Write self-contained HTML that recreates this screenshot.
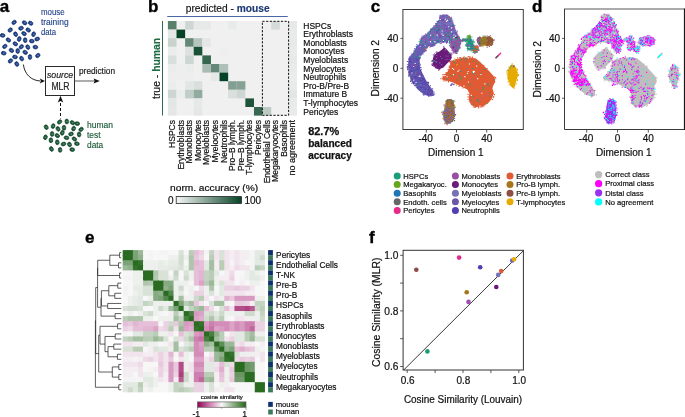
<!DOCTYPE html><html><head><meta charset="utf-8"><style>html,body{margin:0;padding:0;background:#fff;}svg{display:block;will-change:transform;}text{font-family:'Liberation Sans',sans-serif}</style></head><body>
<svg width="685" height="417" viewBox="0 0 685 417" style="font-family:'Liberation Sans',sans-serif">
<rect width="685" height="417" fill="#fff"/>
<text x="-0.30" y="12.40" font-size="17.00" font-weight="bold" fill="#000" stroke="#000" stroke-width="0.35">a</text>
<ellipse cx="14.1" cy="22.4" rx="2.45" ry="1.85" fill="#1c3f84" stroke="#102c68" stroke-width="0.6" transform="rotate(-40 14.1 22.4)"/>
<ellipse cx="14.3" cy="22.4" rx="1.05" ry="0.75" fill="#5f78b0"/>
<ellipse cx="24.6" cy="22.8" rx="2.45" ry="1.85" fill="#1c3f84" stroke="#102c68" stroke-width="0.6" transform="rotate(30 24.6 22.8)"/>
<ellipse cx="24.8" cy="22.8" rx="1.05" ry="0.75" fill="#5f78b0"/>
<ellipse cx="30.6" cy="23.2" rx="2.45" ry="1.85" fill="#1c3f84" stroke="#102c68" stroke-width="0.6" transform="rotate(30 30.6 23.2)"/>
<ellipse cx="30.8" cy="23.2" rx="1.05" ry="0.75" fill="#5f78b0"/>
<ellipse cx="10.2" cy="30.0" rx="2.45" ry="1.85" fill="#1c3f84" stroke="#102c68" stroke-width="0.6" transform="rotate(-40 10.2 30.0)"/>
<ellipse cx="10.4" cy="30.0" rx="1.05" ry="0.75" fill="#5f78b0"/>
<ellipse cx="21.0" cy="28.2" rx="2.45" ry="1.85" fill="#1c3f84" stroke="#102c68" stroke-width="0.6" transform="rotate(-20 21.0 28.2)"/>
<ellipse cx="21.2" cy="28.2" rx="1.05" ry="0.75" fill="#5f78b0"/>
<ellipse cx="28.2" cy="30.0" rx="2.45" ry="1.85" fill="#1c3f84" stroke="#102c68" stroke-width="0.6" transform="rotate(30 28.2 30.0)"/>
<ellipse cx="28.4" cy="30.0" rx="1.05" ry="0.75" fill="#5f78b0"/>
<ellipse cx="2.6" cy="35.4" rx="2.45" ry="1.85" fill="#1c3f84" stroke="#102c68" stroke-width="0.6" transform="rotate(10 2.6 35.4)"/>
<ellipse cx="2.8" cy="35.4" rx="1.05" ry="0.75" fill="#5f78b0"/>
<ellipse cx="15.6" cy="34.2" rx="2.45" ry="1.85" fill="#1c3f84" stroke="#102c68" stroke-width="0.6" transform="rotate(60 15.6 34.2)"/>
<ellipse cx="15.8" cy="34.2" rx="1.05" ry="0.75" fill="#5f78b0"/>
<ellipse cx="24.0" cy="33.6" rx="2.45" ry="1.85" fill="#1c3f84" stroke="#102c68" stroke-width="0.6" transform="rotate(30 24.0 33.6)"/>
<ellipse cx="24.2" cy="33.6" rx="1.05" ry="0.75" fill="#5f78b0"/>
<ellipse cx="33.6" cy="34.2" rx="2.45" ry="1.85" fill="#1c3f84" stroke="#102c68" stroke-width="0.6" transform="rotate(-70 33.6 34.2)"/>
<ellipse cx="33.8" cy="34.2" rx="1.05" ry="0.75" fill="#5f78b0"/>
<ellipse cx="8.4" cy="40.0" rx="2.45" ry="1.85" fill="#1c3f84" stroke="#102c68" stroke-width="0.6" transform="rotate(30 8.4 40.0)"/>
<ellipse cx="8.6" cy="40.0" rx="1.05" ry="0.75" fill="#5f78b0"/>
<ellipse cx="19.2" cy="39.0" rx="2.45" ry="1.85" fill="#1c3f84" stroke="#102c68" stroke-width="0.6" transform="rotate(-70 19.2 39.0)"/>
<ellipse cx="19.4" cy="39.0" rx="1.05" ry="0.75" fill="#5f78b0"/>
<ellipse cx="25.2" cy="40.2" rx="2.45" ry="1.85" fill="#1c3f84" stroke="#102c68" stroke-width="0.6" transform="rotate(85 25.2 40.2)"/>
<ellipse cx="25.4" cy="40.2" rx="1.05" ry="0.75" fill="#5f78b0"/>
<ellipse cx="31.8" cy="41.1" rx="2.45" ry="1.85" fill="#1c3f84" stroke="#102c68" stroke-width="0.6" transform="rotate(10 31.8 41.1)"/>
<ellipse cx="32.0" cy="41.1" rx="1.05" ry="0.75" fill="#5f78b0"/>
<ellipse cx="37.2" cy="39.0" rx="2.45" ry="1.85" fill="#1c3f84" stroke="#102c68" stroke-width="0.6" transform="rotate(-20 37.2 39.0)"/>
<ellipse cx="37.4" cy="39.0" rx="1.05" ry="0.75" fill="#5f78b0"/>
<ellipse cx="15.3" cy="43.8" rx="2.45" ry="1.85" fill="#1c3f84" stroke="#102c68" stroke-width="0.6" transform="rotate(30 15.3 43.8)"/>
<ellipse cx="15.5" cy="43.8" rx="1.05" ry="0.75" fill="#5f78b0"/>
<ellipse cx="4.8" cy="46.4" rx="2.45" ry="1.85" fill="#1c3f84" stroke="#102c68" stroke-width="0.6" transform="rotate(-40 4.8 46.4)"/>
<ellipse cx="5.0" cy="46.4" rx="1.05" ry="0.75" fill="#5f78b0"/>
<ellipse cx="21.3" cy="46.8" rx="2.45" ry="1.85" fill="#1c3f84" stroke="#102c68" stroke-width="0.6" transform="rotate(-40 21.3 46.8)"/>
<ellipse cx="21.5" cy="46.8" rx="1.05" ry="0.75" fill="#5f78b0"/>
<ellipse cx="27.8" cy="47.1" rx="2.45" ry="1.85" fill="#1c3f84" stroke="#102c68" stroke-width="0.6" transform="rotate(60 27.8 47.1)"/>
<ellipse cx="28.0" cy="47.1" rx="1.05" ry="0.75" fill="#5f78b0"/>
<ellipse cx="35.4" cy="47.1" rx="2.45" ry="1.85" fill="#1c3f84" stroke="#102c68" stroke-width="0.6" transform="rotate(10 35.4 47.1)"/>
<ellipse cx="35.6" cy="47.1" rx="1.05" ry="0.75" fill="#5f78b0"/>
<ellipse cx="11.4" cy="50.4" rx="2.45" ry="1.85" fill="#1c3f84" stroke="#102c68" stroke-width="0.6" transform="rotate(30 11.4 50.4)"/>
<ellipse cx="11.6" cy="50.4" rx="1.05" ry="0.75" fill="#5f78b0"/>
<ellipse cx="17.7" cy="51.0" rx="2.45" ry="1.85" fill="#1c3f84" stroke="#102c68" stroke-width="0.6" transform="rotate(85 17.7 51.0)"/>
<ellipse cx="17.9" cy="51.0" rx="1.05" ry="0.75" fill="#5f78b0"/>
<ellipse cx="25.2" cy="52.3" rx="2.45" ry="1.85" fill="#1c3f84" stroke="#102c68" stroke-width="0.6" transform="rotate(30 25.2 52.3)"/>
<ellipse cx="25.4" cy="52.3" rx="1.05" ry="0.75" fill="#5f78b0"/>
<ellipse cx="3.7" cy="53.2" rx="2.45" ry="1.85" fill="#1c3f84" stroke="#102c68" stroke-width="0.6" transform="rotate(10 3.7 53.2)"/>
<ellipse cx="3.9" cy="53.2" rx="1.05" ry="0.75" fill="#5f78b0"/>
<ellipse cx="15.0" cy="57.0" rx="2.45" ry="1.85" fill="#1c3f84" stroke="#102c68" stroke-width="0.6" transform="rotate(10 15.0 57.0)"/>
<ellipse cx="15.2" cy="57.0" rx="1.05" ry="0.75" fill="#5f78b0"/>
<ellipse cx="21.6" cy="58.6" rx="2.45" ry="1.85" fill="#1c3f84" stroke="#102c68" stroke-width="0.6" transform="rotate(60 21.6 58.6)"/>
<ellipse cx="21.8" cy="58.6" rx="1.05" ry="0.75" fill="#5f78b0"/>
<ellipse cx="30.0" cy="57.0" rx="2.45" ry="1.85" fill="#1c3f84" stroke="#102c68" stroke-width="0.6" transform="rotate(85 30.0 57.0)"/>
<ellipse cx="30.2" cy="57.0" rx="1.05" ry="0.75" fill="#5f78b0"/>
<ellipse cx="37.8" cy="55.5" rx="2.45" ry="1.85" fill="#1c3f84" stroke="#102c68" stroke-width="0.6" transform="rotate(-40 37.8 55.5)"/>
<ellipse cx="38.0" cy="55.5" rx="1.05" ry="0.75" fill="#5f78b0"/>
<ellipse cx="10.4" cy="60.9" rx="2.45" ry="1.85" fill="#1c3f84" stroke="#102c68" stroke-width="0.6" transform="rotate(-40 10.4 60.9)"/>
<ellipse cx="10.6" cy="60.9" rx="1.05" ry="0.75" fill="#5f78b0"/>
<ellipse cx="16.8" cy="64.0" rx="2.45" ry="1.85" fill="#1c3f84" stroke="#102c68" stroke-width="0.6" transform="rotate(60 16.8 64.0)"/>
<ellipse cx="17.0" cy="64.0" rx="1.05" ry="0.75" fill="#5f78b0"/>
<ellipse cx="59.6" cy="121.9" rx="2.45" ry="1.85" fill="#1a5535" stroke="#0e4226" stroke-width="0.6" transform="rotate(-40 59.6 121.9)"/>
<ellipse cx="59.8" cy="121.9" rx="1.05" ry="0.75" fill="#5a8a70"/>
<ellipse cx="66.8" cy="121.5" rx="2.45" ry="1.85" fill="#1a5535" stroke="#0e4226" stroke-width="0.6" transform="rotate(85 66.8 121.5)"/>
<ellipse cx="67.0" cy="121.5" rx="1.05" ry="0.75" fill="#5a8a70"/>
<ellipse cx="72.4" cy="122.7" rx="2.45" ry="1.85" fill="#1a5535" stroke="#0e4226" stroke-width="0.6" transform="rotate(30 72.4 122.7)"/>
<ellipse cx="72.6" cy="122.7" rx="1.05" ry="0.75" fill="#5a8a70"/>
<ellipse cx="77.2" cy="123.6" rx="2.45" ry="1.85" fill="#1a5535" stroke="#0e4226" stroke-width="0.6" transform="rotate(10 77.2 123.6)"/>
<ellipse cx="77.4" cy="123.6" rx="1.05" ry="0.75" fill="#5a8a70"/>
<ellipse cx="46.2" cy="127.2" rx="2.45" ry="1.85" fill="#1a5535" stroke="#0e4226" stroke-width="0.6" transform="rotate(60 46.2 127.2)"/>
<ellipse cx="46.4" cy="127.2" rx="1.05" ry="0.75" fill="#5a8a70"/>
<ellipse cx="53.1" cy="126.1" rx="2.45" ry="1.85" fill="#1a5535" stroke="#0e4226" stroke-width="0.6" transform="rotate(-70 53.1 126.1)"/>
<ellipse cx="53.3" cy="126.1" rx="1.05" ry="0.75" fill="#5a8a70"/>
<ellipse cx="58.0" cy="128.9" rx="2.45" ry="1.85" fill="#1a5535" stroke="#0e4226" stroke-width="0.6" transform="rotate(60 58.0 128.9)"/>
<ellipse cx="58.2" cy="128.9" rx="1.05" ry="0.75" fill="#5a8a70"/>
<ellipse cx="64.0" cy="127.8" rx="2.45" ry="1.85" fill="#1a5535" stroke="#0e4226" stroke-width="0.6" transform="rotate(85 64.0 127.8)"/>
<ellipse cx="64.2" cy="127.8" rx="1.05" ry="0.75" fill="#5a8a70"/>
<ellipse cx="73.6" cy="128.6" rx="2.45" ry="1.85" fill="#1a5535" stroke="#0e4226" stroke-width="0.6" transform="rotate(-70 73.6 128.6)"/>
<ellipse cx="73.8" cy="128.6" rx="1.05" ry="0.75" fill="#5a8a70"/>
<ellipse cx="81.1" cy="129.4" rx="2.45" ry="1.85" fill="#1a5535" stroke="#0e4226" stroke-width="0.6" transform="rotate(-40 81.1 129.4)"/>
<ellipse cx="81.3" cy="129.4" rx="1.05" ry="0.75" fill="#5a8a70"/>
<ellipse cx="52.1" cy="134.0" rx="2.45" ry="1.85" fill="#1a5535" stroke="#0e4226" stroke-width="0.6" transform="rotate(85 52.1 134.0)"/>
<ellipse cx="52.3" cy="134.0" rx="1.05" ry="0.75" fill="#5a8a70"/>
<ellipse cx="57.3" cy="135.6" rx="2.45" ry="1.85" fill="#1a5535" stroke="#0e4226" stroke-width="0.6" transform="rotate(30 57.3 135.6)"/>
<ellipse cx="57.5" cy="135.6" rx="1.05" ry="0.75" fill="#5a8a70"/>
<ellipse cx="62.3" cy="132.8" rx="2.45" ry="1.85" fill="#1a5535" stroke="#0e4226" stroke-width="0.6" transform="rotate(-70 62.3 132.8)"/>
<ellipse cx="62.5" cy="132.8" rx="1.05" ry="0.75" fill="#5a8a70"/>
<ellipse cx="71.0" cy="134.0" rx="2.45" ry="1.85" fill="#1a5535" stroke="#0e4226" stroke-width="0.6" transform="rotate(-20 71.0 134.0)"/>
<ellipse cx="71.2" cy="134.0" rx="1.05" ry="0.75" fill="#5a8a70"/>
<ellipse cx="79.1" cy="134.5" rx="2.45" ry="1.85" fill="#1a5535" stroke="#0e4226" stroke-width="0.6" transform="rotate(85 79.1 134.5)"/>
<ellipse cx="79.3" cy="134.5" rx="1.05" ry="0.75" fill="#5a8a70"/>
<ellipse cx="45.4" cy="137.3" rx="2.45" ry="1.85" fill="#1a5535" stroke="#0e4226" stroke-width="0.6" transform="rotate(-70 45.4 137.3)"/>
<ellipse cx="45.6" cy="137.3" rx="1.05" ry="0.75" fill="#5a8a70"/>
<ellipse cx="50.9" cy="140.3" rx="2.45" ry="1.85" fill="#1a5535" stroke="#0e4226" stroke-width="0.6" transform="rotate(85 50.9 140.3)"/>
<ellipse cx="51.1" cy="140.3" rx="1.05" ry="0.75" fill="#5a8a70"/>
<ellipse cx="57.3" cy="142.3" rx="2.45" ry="1.85" fill="#1a5535" stroke="#0e4226" stroke-width="0.6" transform="rotate(85 57.3 142.3)"/>
<ellipse cx="57.5" cy="142.3" rx="1.05" ry="0.75" fill="#5a8a70"/>
<ellipse cx="63.5" cy="144.0" rx="2.45" ry="1.85" fill="#1a5535" stroke="#0e4226" stroke-width="0.6" transform="rotate(-20 63.5 144.0)"/>
<ellipse cx="63.7" cy="144.0" rx="1.05" ry="0.75" fill="#5a8a70"/>
<ellipse cx="66.5" cy="137.8" rx="2.45" ry="1.85" fill="#1a5535" stroke="#0e4226" stroke-width="0.6" transform="rotate(10 66.5 137.8)"/>
<ellipse cx="66.7" cy="137.8" rx="1.05" ry="0.75" fill="#5a8a70"/>
<ellipse cx="74.4" cy="139.0" rx="2.45" ry="1.85" fill="#1a5535" stroke="#0e4226" stroke-width="0.6" transform="rotate(30 74.4 139.0)"/>
<ellipse cx="74.6" cy="139.0" rx="1.05" ry="0.75" fill="#5a8a70"/>
<ellipse cx="69.5" cy="144.5" rx="2.45" ry="1.85" fill="#1a5535" stroke="#0e4226" stroke-width="0.6" transform="rotate(60 69.5 144.5)"/>
<ellipse cx="69.7" cy="144.5" rx="1.05" ry="0.75" fill="#5a8a70"/>
<ellipse cx="76.9" cy="143.7" rx="2.45" ry="1.85" fill="#1a5535" stroke="#0e4226" stroke-width="0.6" transform="rotate(10 76.9 143.7)"/>
<ellipse cx="77.1" cy="143.7" rx="1.05" ry="0.75" fill="#5a8a70"/>
<ellipse cx="51.4" cy="149.0" rx="2.45" ry="1.85" fill="#1a5535" stroke="#0e4226" stroke-width="0.6" transform="rotate(60 51.4 149.0)"/>
<ellipse cx="51.6" cy="149.0" rx="1.05" ry="0.75" fill="#5a8a70"/>
<ellipse cx="60.1" cy="149.9" rx="2.45" ry="1.85" fill="#1a5535" stroke="#0e4226" stroke-width="0.6" transform="rotate(85 60.1 149.9)"/>
<ellipse cx="60.3" cy="149.9" rx="1.05" ry="0.75" fill="#5a8a70"/>
<ellipse cx="72.2" cy="149.6" rx="2.45" ry="1.85" fill="#1a5535" stroke="#0e4226" stroke-width="0.6" transform="rotate(10 72.2 149.6)"/>
<ellipse cx="72.4" cy="149.6" rx="1.05" ry="0.75" fill="#5a8a70"/>
<text x="40.90" y="15.30" font-size="8.60" fill="#24448a" textLength="23.8" lengthAdjust="spacingAndGlyphs" stroke="#24448a" stroke-width="0.12">mouse</text>
<text x="40.90" y="25.30" font-size="8.60" fill="#24448a" textLength="27.7" lengthAdjust="spacingAndGlyphs" stroke="#24448a" stroke-width="0.12">training</text>
<text x="40.90" y="35.40" font-size="8.60" fill="#24448a" textLength="15.1" lengthAdjust="spacingAndGlyphs" stroke="#24448a" stroke-width="0.12">data</text>
<text x="87.00" y="127.90" font-size="8.80" fill="#1d5a38" textLength="26" lengthAdjust="spacingAndGlyphs" stroke="#1d5a38" stroke-width="0.15">human</text>
<text x="87.00" y="137.90" font-size="8.80" fill="#1d5a38" textLength="13.5" lengthAdjust="spacingAndGlyphs" stroke="#1d5a38" stroke-width="0.15">test</text>
<text x="87.00" y="147.90" font-size="8.80" fill="#1d5a38" textLength="16.2" lengthAdjust="spacingAndGlyphs" stroke="#1d5a38" stroke-width="0.15">data</text>
<path d="M23.4,64.5 C24.5,74 31,80.6 40.5,81" fill="none" stroke="#111" stroke-width="0.9"/>
<path d="M45,81 L39.8,78.6 L41,81 L39.8,83.4 Z" fill="#111"/>
<rect x="45.5" y="66.5" width="29" height="29" fill="#fff" stroke="#2a2a2a" stroke-width="1"/>
<text x="46.90" y="77.90" font-size="9.60" font-style="italic" fill="#222" textLength="26.3" lengthAdjust="spacingAndGlyphs" stroke="#222" stroke-width="0.2">source</text>
<text x="51.40" y="89.70" font-size="10.60" fill="#222" textLength="18.2" lengthAdjust="spacingAndGlyphs" stroke="#222" stroke-width="0.2">MLR</text>
<text x="79.00" y="73.90" font-size="8.60" fill="#222" textLength="36" lengthAdjust="spacingAndGlyphs" stroke="#222" stroke-width="0.2">prediction</text>
<line x1="74.7" y1="81" x2="94.5" y2="81" stroke="#6a6a6a" stroke-width="1.1"/>
<path d="M99.8,81 L93.6,78.5 L94.6,81 L93.6,83.5 Z" fill="#111"/>
<line x1="60.5" y1="103" x2="60.5" y2="118.5" stroke="#111" stroke-width="1" stroke-dasharray="3,2"/>
<path d="M60.5,95.8 L63.2,102.4 L60.5,101 L57.8,102.4 Z" fill="#111"/>
<text x="148.10" y="12.10" font-size="17.00" font-weight="bold" fill="#000" stroke="#000" stroke-width="0.35">b</text>
<text x="185.8" y="12.4" font-size="10.2" fill="#111" stroke="#111" stroke-width="0.15">predicted - <tspan font-weight="bold" fill="#1b3774" stroke="#1b3774">mouse</tspan></text>
<line x1="167.2" y1="16.45" x2="287.8" y2="16.45" stroke="#4a68a6" stroke-width="1.1"/>
<line x1="162.5" y1="21" x2="162.5" y2="115.6" stroke="#2f6e4e" stroke-width="1"/>
<text transform="translate(160.3 68.4) rotate(-90)" text-anchor="middle" font-size="10.4" fill="#111" stroke="#111" stroke-width="0.15">true - <tspan font-weight="bold" fill="#1e6b45" stroke="#1e6b45">human</tspan></text>
<rect x="167.90" y="21.00" width="129.10" height="94.60" fill="#f0f0f0"/>
<rect x="167.90" y="21.00" width="8.61" height="8.60" fill="#58806d"/>
<rect x="185.11" y="21.00" width="8.61" height="8.60" fill="#cdd6d2"/>
<rect x="193.72" y="21.00" width="8.61" height="8.60" fill="#e7e9e8"/>
<rect x="202.33" y="21.00" width="8.61" height="8.60" fill="#e7e9e8"/>
<rect x="228.15" y="21.00" width="8.61" height="8.60" fill="#e9ebea"/>
<rect x="271.18" y="21.00" width="8.61" height="8.60" fill="#d4dbd8"/>
<rect x="288.40" y="21.00" width="8.61" height="8.60" fill="#e7e9e8"/>
<rect x="167.90" y="29.60" width="8.61" height="8.60" fill="#e4e7e6"/>
<rect x="176.51" y="29.60" width="8.61" height="8.60" fill="#064326"/>
<rect x="288.40" y="29.60" width="8.61" height="8.60" fill="#e9ebea"/>
<rect x="167.90" y="38.20" width="8.61" height="8.60" fill="#c8d3ce"/>
<rect x="185.11" y="38.20" width="8.61" height="8.60" fill="#648877"/>
<rect x="193.72" y="38.20" width="8.61" height="8.60" fill="#b6c5be"/>
<rect x="202.33" y="38.20" width="8.61" height="8.60" fill="#e4e7e6"/>
<rect x="288.40" y="38.20" width="8.61" height="8.60" fill="#e7e9e8"/>
<rect x="167.90" y="46.80" width="8.61" height="8.60" fill="#ebedec"/>
<rect x="185.11" y="46.80" width="8.61" height="8.60" fill="#dde2e0"/>
<rect x="193.72" y="46.80" width="8.61" height="8.60" fill="#195136"/>
<rect x="219.54" y="46.80" width="8.61" height="8.60" fill="#eeeeee"/>
<rect x="288.40" y="46.80" width="8.61" height="8.60" fill="#e9ebea"/>
<rect x="167.90" y="55.40" width="8.61" height="8.60" fill="#d9dfdc"/>
<rect x="185.11" y="55.40" width="8.61" height="8.60" fill="#cdd6d2"/>
<rect x="202.33" y="55.40" width="8.61" height="8.60" fill="#35664e"/>
<rect x="288.40" y="55.40" width="8.61" height="8.60" fill="#e7e9e8"/>
<rect x="167.90" y="64.00" width="8.61" height="8.60" fill="#ebedec"/>
<rect x="176.51" y="64.00" width="8.61" height="8.60" fill="#eeeeee"/>
<rect x="185.11" y="64.00" width="8.61" height="8.60" fill="#ebedec"/>
<rect x="202.33" y="64.00" width="8.61" height="8.60" fill="#aabcb3"/>
<rect x="210.94" y="64.00" width="8.61" height="8.60" fill="#648877"/>
<rect x="219.54" y="64.00" width="8.61" height="8.60" fill="#aec0b7"/>
<rect x="288.40" y="64.00" width="8.61" height="8.60" fill="#e9ebea"/>
<rect x="167.90" y="72.60" width="8.61" height="8.60" fill="#eeeeee"/>
<rect x="176.51" y="72.60" width="8.61" height="8.60" fill="#eeeeee"/>
<rect x="185.11" y="72.60" width="8.61" height="8.60" fill="#eeeeee"/>
<rect x="210.94" y="72.60" width="8.61" height="8.60" fill="#e7e9e8"/>
<rect x="219.54" y="72.60" width="8.61" height="8.60" fill="#064326"/>
<rect x="288.40" y="72.60" width="8.61" height="8.60" fill="#ebedec"/>
<rect x="167.90" y="81.20" width="8.61" height="8.60" fill="#ebedec"/>
<rect x="185.11" y="81.20" width="8.61" height="8.60" fill="#e2e6e4"/>
<rect x="193.72" y="81.20" width="8.61" height="8.60" fill="#d9dfdc"/>
<rect x="228.15" y="81.20" width="8.61" height="8.60" fill="#829f91"/>
<rect x="236.76" y="81.20" width="8.61" height="8.60" fill="#87a295"/>
<rect x="288.40" y="81.20" width="8.61" height="8.60" fill="#e9ebea"/>
<rect x="167.90" y="89.80" width="8.61" height="8.60" fill="#cdd6d2"/>
<rect x="176.51" y="89.80" width="8.61" height="8.60" fill="#ebedec"/>
<rect x="185.11" y="89.80" width="8.61" height="8.60" fill="#c1cdc8"/>
<rect x="193.72" y="89.80" width="8.61" height="8.60" fill="#92ab9f"/>
<rect x="228.15" y="89.80" width="8.61" height="8.60" fill="#d9dfdc"/>
<rect x="236.76" y="89.80" width="8.61" height="8.60" fill="#cdd6d2"/>
<rect x="288.40" y="89.80" width="8.61" height="8.60" fill="#e2e6e4"/>
<rect x="167.90" y="98.40" width="8.61" height="8.60" fill="#e2e6e4"/>
<rect x="193.72" y="98.40" width="8.61" height="8.60" fill="#e7e9e8"/>
<rect x="245.36" y="98.40" width="8.61" height="8.60" fill="#1d543a"/>
<rect x="288.40" y="98.40" width="8.61" height="8.60" fill="#e9ebea"/>
<rect x="167.90" y="107.00" width="8.61" height="8.60" fill="#e4e7e6"/>
<rect x="193.72" y="107.00" width="8.61" height="8.60" fill="#e4e7e6"/>
<rect x="253.97" y="107.00" width="8.61" height="8.60" fill="#396952"/>
<rect x="262.58" y="107.00" width="8.61" height="8.60" fill="#bdcac4"/>
<rect x="288.40" y="107.00" width="8.61" height="8.60" fill="#e9ebea"/>
<rect x="262.4" y="21.3" width="26.2" height="94" fill="none" stroke="#111" stroke-width="1" stroke-dasharray="2.2,1.5"/>
<text x="303.30" y="28.50" font-size="8.50" fill="#111" stroke="#111" stroke-width="0.2">HSPCs</text>
<text x="303.30" y="37.10" font-size="8.50" fill="#111" stroke="#111" stroke-width="0.2">Erythroblasts</text>
<text x="303.30" y="45.70" font-size="8.50" fill="#111" stroke="#111" stroke-width="0.2">Monoblasts</text>
<text x="303.30" y="54.30" font-size="8.50" fill="#111" stroke="#111" stroke-width="0.2">Monocytes</text>
<text x="303.30" y="62.90" font-size="8.50" fill="#111" stroke="#111" stroke-width="0.2">Myeloblasts</text>
<text x="303.30" y="71.50" font-size="8.50" fill="#111" stroke="#111" stroke-width="0.2">Myelocytes</text>
<text x="303.30" y="80.10" font-size="8.50" fill="#111" stroke="#111" stroke-width="0.2">Neutrophils</text>
<text x="303.30" y="88.70" font-size="8.50" fill="#111" stroke="#111" stroke-width="0.2">Pro-B/Pre-B</text>
<text x="303.30" y="97.30" font-size="8.50" fill="#111" stroke="#111" stroke-width="0.2">Immature B</text>
<text x="303.30" y="105.90" font-size="8.50" fill="#111" stroke="#111" stroke-width="0.2">T-lymphocytes</text>
<text x="303.30" y="114.50" font-size="8.50" fill="#111" stroke="#111" stroke-width="0.2">Pericytes</text>
<text transform="translate(174.90 120) rotate(-90)" text-anchor="end" font-size="8.5" fill="#111" stroke="#111" stroke-width="0.2">HSPCs</text>
<text transform="translate(183.51 120) rotate(-90)" text-anchor="end" font-size="8.5" fill="#111" stroke="#111" stroke-width="0.2">Erythroblasts</text>
<text transform="translate(192.12 120) rotate(-90)" text-anchor="end" font-size="8.5" fill="#111" stroke="#111" stroke-width="0.2">Monoblasts</text>
<text transform="translate(200.72 120) rotate(-90)" text-anchor="end" font-size="8.5" fill="#111" stroke="#111" stroke-width="0.2">Monocytes</text>
<text transform="translate(209.33 120) rotate(-90)" text-anchor="end" font-size="8.5" fill="#111" stroke="#111" stroke-width="0.2">Myeloblasts</text>
<text transform="translate(217.94 120) rotate(-90)" text-anchor="end" font-size="8.5" fill="#111" stroke="#111" stroke-width="0.2">Myelocytes</text>
<text transform="translate(226.55 120) rotate(-90)" text-anchor="end" font-size="8.5" fill="#111" stroke="#111" stroke-width="0.2">Neutrophils</text>
<text transform="translate(235.15 120) rotate(-90)" text-anchor="end" font-size="8.5" fill="#111" stroke="#111" stroke-width="0.2">Pro–B lymph.</text>
<text transform="translate(243.76 120) rotate(-90)" text-anchor="end" font-size="8.5" fill="#111" stroke="#111" stroke-width="0.2">Pre–B lymph.</text>
<text transform="translate(252.37 120) rotate(-90)" text-anchor="end" font-size="8.5" fill="#111" stroke="#111" stroke-width="0.2">T-lymphocytes</text>
<text transform="translate(260.97 120) rotate(-90)" text-anchor="end" font-size="8.5" fill="#111" stroke="#111" stroke-width="0.2">Pericytes</text>
<text transform="translate(269.58 120) rotate(-90)" text-anchor="end" font-size="8.5" fill="#111" stroke="#111" stroke-width="0.2">Endothelial Cells</text>
<text transform="translate(278.19 120) rotate(-90)" text-anchor="end" font-size="8.5" fill="#111" stroke="#111" stroke-width="0.2">Megakaryocytes</text>
<text transform="translate(286.79 120) rotate(-90)" text-anchor="end" font-size="8.5" fill="#111" stroke="#111" stroke-width="0.2">Basophils</text>
<text transform="translate(295.40 120) rotate(-90)" text-anchor="end" font-size="8.5" fill="#111" stroke="#111" stroke-width="0.2" textLength="55.5" lengthAdjust="spacingAndGlyphs">no agreement</text>
<text x="308.20" y="134.80" font-size="10.20" font-weight="bold" fill="#111" textLength="31" lengthAdjust="spacingAndGlyphs" stroke="#111" stroke-width="0.25">82.7%</text>
<text x="308.20" y="147.30" font-size="10.20" font-weight="bold" fill="#111" textLength="43.8" lengthAdjust="spacingAndGlyphs" stroke="#111" stroke-width="0.25">balanced</text>
<text x="308.20" y="159.10" font-size="10.20" font-weight="bold" fill="#111" textLength="43.6" lengthAdjust="spacingAndGlyphs" stroke="#111" stroke-width="0.25">accuracy</text>
<text x="170.10" y="191.40" font-size="8.80" fill="#111" textLength="88" lengthAdjust="spacingAndGlyphs" stroke="#111" stroke-width="0.2">norm. accuracy (%)</text>
<defs><linearGradient id="gb" x1="0" x2="1" y1="0" y2="0"><stop offset="0" stop-color="#f7f7f7"/><stop offset="1" stop-color="#064326"/></linearGradient><linearGradient id="ge" x1="0" x2="1" y1="0" y2="0"><stop offset="0" stop-color="#8e0152"/><stop offset="0.25" stop-color="#cf7aac"/><stop offset="0.5" stop-color="#f7f7f7"/><stop offset="0.75" stop-color="#86ad80"/><stop offset="1" stop-color="#276419"/></linearGradient></defs>
<rect x="176.2" y="196.6" width="65.2" height="6.8" fill="url(#gb)" stroke="#222" stroke-width="0.8"/>
<text x="168.00" y="203.60" font-size="10.00" fill="#111" stroke="#111" stroke-width="0.2">0</text>
<text x="244.40" y="203.60" font-size="10.00" fill="#111" stroke="#111" stroke-width="0.2">100</text>
<polygon fill="#5c4fae" points="439.8,15.4 443.4,14.6 447.0,14.8 450.0,16.6 451.2,19.0 453.0,22.0 454.2,25.6 455.4,29.2 456.6,32.8 457.8,35.8 458.5,38.0 455.0,40.0 452.0,41.0 449.4,42.2 445.0,42.4 439.8,42.4 436.2,43.6 433.8,46.0 429.0,46.0 426.0,48.4 425.4,51.4 423.0,53.2 420.8,56.0 419.8,59.0 419.5,63.0 420.3,68.8 423.1,74.5 426.0,80.3 429.6,86.0 433.2,90.4 433.9,95.4 430.3,96.8 424.6,94.7 418.8,90.4 414.5,86.0 411.6,81.7 408.8,74.5 408.0,65.9 408.6,58.0 412.2,54.4 414.6,50.8 415.8,48.4 416.4,46.0 418.8,44.8 420.6,40.6 421.8,37.0 424.8,35.2 428.4,32.8 430.8,29.2 435.0,25.6 437.4,22.0 439.2,19.6"/>
<polygon fill="#984ea3" points="451.0,41.0 454.0,39.0 457.8,35.8 460.2,38.2 461.4,42.4 460.2,46.0 459.0,49.6 457.8,52.0 455.4,53.2 453.0,51.4 451.2,48.4 450.0,44.8"/>
<polygon fill="#6a1b7a" points="442.3,49.2 444.2,47.3 446.6,49.2 449.0,52.1 450.9,54.0 451.9,57.8 450.0,60.7 447.1,63.6 443.5,67.5 439.4,69.2 435.6,68.5 433.0,65.0 432.7,59.7 433.6,55.9 436.5,53.0 439.4,51.6 441.3,50.1"/>
<polygon fill="#e05a33" points="450.1,62.2 454.4,59.3 461.6,57.9 468.8,57.2 476.0,58.6 480.3,62.2 484.0,65.8 489.5,71.6 494.6,77.3 495.3,81.7 493.0,86.0 492.4,88.5 493.9,93.2 491.7,99.0 488.1,103.3 482.3,106.8 475.1,107.0 471.0,105.0 469.0,100.0 468.7,97.5 469.4,93.2 467.3,89.5 463.0,87.4 458.7,85.2 454.4,83.0 448.6,80.9 442.9,80.2 441.4,77.3 444.3,74.4 448.6,70.8 450.1,66.5"/>
<polygon fill="#e6ab02" points="511.6,64.4 514.0,65.0 516.4,68.0 517.0,71.6 518.2,75.2 517.0,78.8 515.8,82.4 515.2,86.0 513.4,88.4 511.0,86.6 509.2,82.4 507.4,78.8 507.4,74.0 508.0,69.8 509.8,66.2"/>
<polygon fill="#9a6a55" points="446.3,100.1 450.1,99.1 453.5,100.6 454.0,104.4 454.5,109.2 454.9,114.9 453.5,120.7 450.1,123.6 446.3,124.1 443.9,119.7 443.4,114.9 444.4,109.2 445.3,104.4"/>
<polygon fill="#1b9e77" points="462.0,38.6 467.5,38.3 468.3,35.6 470.6,35.4 471.1,38.4 472.2,40.0 473.5,43.0 473.5,47.0 472.5,50.0 469.5,50.5 467.0,49.5 466.2,46.5 466.5,43.5 465.0,41.6 462.0,41.6"/>
<polygon fill="#e05a33" points="473.0,46.5 476.0,45.5 478.5,47.0 478.8,50.0 477.0,52.5 474.0,52.8 472.3,50.5"/>
<polygon fill="#a6761d" points="477.5,38.0 479.5,37.0 481.5,37.5 483.0,36.5 485.5,36.3 487.5,37.0 489.5,36.6 492.0,37.5 493.6,40.0 493.0,43.5 490.5,45.5 487.0,46.0 484.0,45.5 481.0,46.0 478.5,45.0 477.2,42.0"/>
<path fill="#7a70c2" d="M439.6 14.8h1.1v1.1h-1.1zM440.7 14.9h1.1v1.1h-1.1zM441.9 14.8h1.1v1.1h-1.1zM444.9 14.9h1.1v1.1h-1.1zM439.4 15.7h1.1v1.1h-1.1zM440.4 15.7h1.1v1.1h-1.1zM441.6 15.7h1.1v1.1h-1.1zM444.9 15.9h1.1v1.1h-1.1zM440.6 16.8h1.1v1.1h-1.1zM442.8 17.0h1.1v1.1h-1.1zM443.8 16.9h1.1v1.1h-1.1zM444.8 16.5h1.1v1.1h-1.1zM445.8 16.5h1.1v1.1h-1.1zM447.1 16.8h1.1v1.1h-1.1zM449.1 16.9h1.1v1.1h-1.1zM450.9 16.7h1.1v1.1h-1.1zM440.6 17.9h1.1v1.1h-1.1zM441.6 17.7h1.1v1.1h-1.1zM442.8 18.0h1.1v1.1h-1.1zM444.9 17.7h1.1v1.1h-1.1zM445.7 18.0h1.1v1.1h-1.1zM447.0 18.0h1.1v1.1h-1.1zM449.0 17.7h1.1v1.1h-1.1zM441.8 18.8h1.1v1.1h-1.1zM443.7 18.7h1.1v1.1h-1.1zM445.6 18.8h1.1v1.1h-1.1zM447.0 19.0h1.1v1.1h-1.1zM449.2 18.6h1.1v1.1h-1.1zM449.9 18.7h1.1v1.1h-1.1zM451.2 18.9h1.1v1.1h-1.1zM439.6 19.7h1.1v1.1h-1.1zM443.6 19.8h1.1v1.1h-1.1zM444.7 19.8h1.1v1.1h-1.1zM445.9 19.8h1.1v1.1h-1.1zM448.0 20.0h1.1v1.1h-1.1zM449.2 19.7h1.1v1.1h-1.1zM452.2 19.7h1.1v1.1h-1.1zM436.4 21.1h1.1v1.1h-1.1zM438.7 21.0h1.1v1.1h-1.1zM439.6 21.1h1.1v1.1h-1.1zM440.6 21.1h1.1v1.1h-1.1zM441.5 20.9h1.1v1.1h-1.1zM442.6 21.0h1.1v1.1h-1.1zM444.7 21.0h1.1v1.1h-1.1zM447.0 20.9h1.1v1.1h-1.1zM450.2 21.1h1.1v1.1h-1.1zM439.8 22.0h1.1v1.1h-1.1zM441.5 21.8h1.1v1.1h-1.1zM442.8 22.1h1.1v1.1h-1.1zM446.7 22.2h1.1v1.1h-1.1zM448.0 22.0h1.1v1.1h-1.1zM449.0 21.9h1.1v1.1h-1.1zM450.2 21.8h1.1v1.1h-1.1zM451.2 21.9h1.1v1.1h-1.1zM437.7 22.9h1.1v1.1h-1.1zM438.6 22.8h1.1v1.1h-1.1zM439.7 22.9h1.1v1.1h-1.1zM440.5 23.0h1.1v1.1h-1.1zM442.8 22.9h1.1v1.1h-1.1zM443.8 22.9h1.1v1.1h-1.1zM445.0 23.0h1.1v1.1h-1.1zM446.1 23.1h1.1v1.1h-1.1zM446.9 23.1h1.1v1.1h-1.1zM449.0 23.2h1.1v1.1h-1.1zM450.0 23.2h1.1v1.1h-1.1zM451.2 22.9h1.1v1.1h-1.1zM452.0 23.1h1.1v1.1h-1.1zM436.6 24.3h1.1v1.1h-1.1zM437.5 23.9h1.1v1.1h-1.1zM438.4 23.9h1.1v1.1h-1.1zM439.5 24.1h1.1v1.1h-1.1zM440.4 24.1h1.1v1.1h-1.1zM441.5 24.2h1.1v1.1h-1.1zM442.5 24.0h1.1v1.1h-1.1zM444.8 24.2h1.1v1.1h-1.1zM445.8 24.0h1.1v1.1h-1.1zM446.9 23.9h1.1v1.1h-1.1zM448.0 24.1h1.1v1.1h-1.1zM448.9 23.9h1.1v1.1h-1.1zM450.2 24.1h1.1v1.1h-1.1zM451.2 23.9h1.1v1.1h-1.1zM452.2 24.3h1.1v1.1h-1.1zM433.4 25.3h1.1v1.1h-1.1zM434.3 25.3h1.1v1.1h-1.1zM439.7 25.3h1.1v1.1h-1.1zM440.5 25.2h1.1v1.1h-1.1zM442.9 25.4h1.1v1.1h-1.1zM445.6 25.3h1.1v1.1h-1.1zM448.2 25.0h1.1v1.1h-1.1zM448.8 25.2h1.1v1.1h-1.1zM451.3 25.0h1.1v1.1h-1.1zM453.1 25.2h1.1v1.1h-1.1zM454.4 25.0h1.1v1.1h-1.1zM433.1 26.4h1.1v1.1h-1.1zM435.1 26.2h1.1v1.1h-1.1zM439.5 26.0h1.1v1.1h-1.1zM441.7 26.3h1.1v1.1h-1.1zM442.5 26.0h1.1v1.1h-1.1zM443.7 26.0h1.1v1.1h-1.1zM444.8 26.1h1.1v1.1h-1.1zM446.8 26.3h1.1v1.1h-1.1zM451.3 26.1h1.1v1.1h-1.1zM452.1 26.4h1.1v1.1h-1.1zM433.4 27.1h1.1v1.1h-1.1zM434.1 27.0h1.1v1.1h-1.1zM435.5 27.4h1.1v1.1h-1.1zM437.5 27.5h1.1v1.1h-1.1zM439.7 27.4h1.1v1.1h-1.1zM440.7 27.2h1.1v1.1h-1.1zM444.8 27.1h1.1v1.1h-1.1zM446.1 27.3h1.1v1.1h-1.1zM448.1 27.2h1.1v1.1h-1.1zM450.0 27.4h1.1v1.1h-1.1zM452.1 27.4h1.1v1.1h-1.1zM430.0 28.5h1.1v1.1h-1.1zM433.3 28.4h1.1v1.1h-1.1zM435.2 28.3h1.1v1.1h-1.1zM437.2 28.2h1.1v1.1h-1.1zM439.5 28.3h1.1v1.1h-1.1zM440.6 28.1h1.1v1.1h-1.1zM442.6 28.3h1.1v1.1h-1.1zM443.6 28.3h1.1v1.1h-1.1zM444.8 28.5h1.1v1.1h-1.1zM448.1 28.5h1.1v1.1h-1.1zM450.2 28.4h1.1v1.1h-1.1zM451.1 28.1h1.1v1.1h-1.1zM453.4 28.1h1.1v1.1h-1.1zM454.0 28.2h1.1v1.1h-1.1zM433.4 29.4h1.1v1.1h-1.1zM440.6 29.5h1.1v1.1h-1.1zM441.6 29.3h1.1v1.1h-1.1zM442.6 29.5h1.1v1.1h-1.1zM444.8 29.2h1.1v1.1h-1.1zM447.1 29.2h1.1v1.1h-1.1zM448.0 29.5h1.1v1.1h-1.1zM449.2 29.3h1.1v1.1h-1.1zM452.1 29.5h1.1v1.1h-1.1zM454.1 29.3h1.1v1.1h-1.1zM429.3 30.5h1.1v1.1h-1.1zM430.3 30.5h1.1v1.1h-1.1zM431.0 30.2h1.1v1.1h-1.1zM432.1 30.3h1.1v1.1h-1.1zM433.1 30.4h1.1v1.1h-1.1zM434.2 30.3h1.1v1.1h-1.1zM436.6 30.5h1.1v1.1h-1.1zM438.7 30.5h1.1v1.1h-1.1zM439.3 30.6h1.1v1.1h-1.1zM440.7 30.3h1.1v1.1h-1.1zM442.7 30.4h1.1v1.1h-1.1zM443.6 30.6h1.1v1.1h-1.1zM445.0 30.5h1.1v1.1h-1.1zM446.7 30.6h1.1v1.1h-1.1zM451.2 30.4h1.1v1.1h-1.1zM452.2 30.2h1.1v1.1h-1.1zM453.1 30.4h1.1v1.1h-1.1zM454.4 30.4h1.1v1.1h-1.1zM455.1 30.4h1.1v1.1h-1.1zM456.6 30.4h1.1v1.1h-1.1zM427.9 31.6h1.1v1.1h-1.1zM431.0 31.5h1.1v1.1h-1.1zM432.4 31.3h1.1v1.1h-1.1zM434.4 31.6h1.1v1.1h-1.1zM435.1 31.6h1.1v1.1h-1.1zM438.7 31.4h1.1v1.1h-1.1zM439.7 31.6h1.1v1.1h-1.1zM440.7 31.4h1.1v1.1h-1.1zM441.7 31.6h1.1v1.1h-1.1zM442.9 31.2h1.1v1.1h-1.1zM446.1 31.7h1.1v1.1h-1.1zM448.2 31.3h1.1v1.1h-1.1zM450.3 31.4h1.1v1.1h-1.1zM451.9 31.3h1.1v1.1h-1.1zM453.0 31.4h1.1v1.1h-1.1zM454.1 31.5h1.1v1.1h-1.1zM455.3 31.6h1.1v1.1h-1.1zM456.6 31.2h1.1v1.1h-1.1zM429.2 32.3h1.1v1.1h-1.1zM430.3 32.4h1.1v1.1h-1.1zM432.0 32.7h1.1v1.1h-1.1zM433.0 32.6h1.1v1.1h-1.1zM435.4 32.4h1.1v1.1h-1.1zM437.5 32.5h1.1v1.1h-1.1zM439.8 32.4h1.1v1.1h-1.1zM440.4 32.6h1.1v1.1h-1.1zM441.8 32.6h1.1v1.1h-1.1zM442.9 32.5h1.1v1.1h-1.1zM443.8 32.7h1.1v1.1h-1.1zM445.9 32.4h1.1v1.1h-1.1zM451.9 32.5h1.1v1.1h-1.1zM454.5 32.6h1.1v1.1h-1.1zM427.9 33.5h1.1v1.1h-1.1zM428.8 33.5h1.1v1.1h-1.1zM430.3 33.6h1.1v1.1h-1.1zM431.1 33.4h1.1v1.1h-1.1zM432.4 33.4h1.1v1.1h-1.1zM433.3 33.7h1.1v1.1h-1.1zM437.2 33.4h1.1v1.1h-1.1zM440.7 33.5h1.1v1.1h-1.1zM442.9 33.3h1.1v1.1h-1.1zM443.6 33.6h1.1v1.1h-1.1zM447.0 33.6h1.1v1.1h-1.1zM448.1 33.4h1.1v1.1h-1.1zM449.0 33.3h1.1v1.1h-1.1zM450.0 33.5h1.1v1.1h-1.1zM451.3 33.7h1.1v1.1h-1.1zM453.0 33.5h1.1v1.1h-1.1zM454.4 33.6h1.1v1.1h-1.1zM455.2 33.7h1.1v1.1h-1.1zM456.5 33.7h1.1v1.1h-1.1zM425.0 34.8h1.1v1.1h-1.1zM427.1 34.6h1.1v1.1h-1.1zM428.1 34.6h1.1v1.1h-1.1zM431.0 34.6h1.1v1.1h-1.1zM433.4 34.7h1.1v1.1h-1.1zM434.5 34.6h1.1v1.1h-1.1zM435.4 34.6h1.1v1.1h-1.1zM437.4 34.7h1.1v1.1h-1.1zM439.7 34.5h1.1v1.1h-1.1zM440.5 34.6h1.1v1.1h-1.1zM441.6 34.7h1.1v1.1h-1.1zM443.6 34.4h1.1v1.1h-1.1zM448.9 34.8h1.1v1.1h-1.1zM450.0 34.5h1.1v1.1h-1.1zM452.4 34.5h1.1v1.1h-1.1zM454.2 34.6h1.1v1.1h-1.1zM423.8 35.7h1.1v1.1h-1.1zM426.0 35.7h1.1v1.1h-1.1zM426.9 35.6h1.1v1.1h-1.1zM428.0 35.7h1.1v1.1h-1.1zM429.2 35.8h1.1v1.1h-1.1zM429.9 35.6h1.1v1.1h-1.1zM431.3 35.7h1.1v1.1h-1.1zM434.3 35.6h1.1v1.1h-1.1zM436.6 35.4h1.1v1.1h-1.1zM437.7 35.7h1.1v1.1h-1.1zM438.4 35.8h1.1v1.1h-1.1zM440.4 35.5h1.1v1.1h-1.1zM443.8 35.7h1.1v1.1h-1.1zM445.7 35.6h1.1v1.1h-1.1zM450.0 35.9h1.1v1.1h-1.1zM450.9 35.7h1.1v1.1h-1.1zM454.1 35.5h1.1v1.1h-1.1zM421.6 36.6h1.1v1.1h-1.1zM422.8 36.9h1.1v1.1h-1.1zM424.9 36.6h1.1v1.1h-1.1zM426.7 36.5h1.1v1.1h-1.1zM429.2 36.8h1.1v1.1h-1.1zM430.3 36.5h1.1v1.1h-1.1zM432.1 36.5h1.1v1.1h-1.1zM434.1 36.5h1.1v1.1h-1.1zM435.2 36.5h1.1v1.1h-1.1zM436.5 36.5h1.1v1.1h-1.1zM437.5 36.6h1.1v1.1h-1.1zM438.5 36.7h1.1v1.1h-1.1zM440.4 36.6h1.1v1.1h-1.1zM441.8 36.7h1.1v1.1h-1.1zM442.7 36.9h1.1v1.1h-1.1zM443.7 36.8h1.1v1.1h-1.1zM444.9 36.9h1.1v1.1h-1.1zM450.2 36.9h1.1v1.1h-1.1zM455.1 36.8h1.1v1.1h-1.1zM456.4 36.6h1.1v1.1h-1.1zM457.5 36.5h1.1v1.1h-1.1zM458.6 36.9h1.1v1.1h-1.1zM421.5 37.5h1.1v1.1h-1.1zM423.9 38.0h1.1v1.1h-1.1zM424.6 37.5h1.1v1.1h-1.1zM426.1 37.8h1.1v1.1h-1.1zM427.1 37.7h1.1v1.1h-1.1zM428.1 37.5h1.1v1.1h-1.1zM428.8 37.6h1.1v1.1h-1.1zM431.3 37.7h1.1v1.1h-1.1zM434.4 38.0h1.1v1.1h-1.1zM435.5 37.8h1.1v1.1h-1.1zM436.2 37.7h1.1v1.1h-1.1zM437.5 37.8h1.1v1.1h-1.1zM440.5 37.7h1.1v1.1h-1.1zM442.7 37.7h1.1v1.1h-1.1zM443.7 38.0h1.1v1.1h-1.1zM445.7 37.6h1.1v1.1h-1.1zM447.0 37.9h1.1v1.1h-1.1zM450.0 37.6h1.1v1.1h-1.1zM451.3 37.9h1.1v1.1h-1.1zM452.2 37.6h1.1v1.1h-1.1zM419.6 38.6h1.1v1.1h-1.1zM421.6 38.7h1.1v1.1h-1.1zM423.0 38.9h1.1v1.1h-1.1zM426.9 38.8h1.1v1.1h-1.1zM428.1 38.7h1.1v1.1h-1.1zM431.0 38.7h1.1v1.1h-1.1zM432.3 39.0h1.1v1.1h-1.1zM433.2 38.6h1.1v1.1h-1.1zM434.4 39.0h1.1v1.1h-1.1zM435.2 38.9h1.1v1.1h-1.1zM436.6 38.7h1.1v1.1h-1.1zM437.3 38.7h1.1v1.1h-1.1zM438.4 38.9h1.1v1.1h-1.1zM439.6 39.0h1.1v1.1h-1.1zM440.4 38.6h1.1v1.1h-1.1zM441.8 38.9h1.1v1.1h-1.1zM442.7 38.8h1.1v1.1h-1.1zM443.5 38.8h1.1v1.1h-1.1zM446.0 38.8h1.1v1.1h-1.1zM447.1 38.6h1.1v1.1h-1.1zM447.7 38.6h1.1v1.1h-1.1zM452.2 38.6h1.1v1.1h-1.1zM455.5 38.6h1.1v1.1h-1.1zM421.9 40.1h1.1v1.1h-1.1zM422.6 39.7h1.1v1.1h-1.1zM424.0 40.1h1.1v1.1h-1.1zM424.7 39.8h1.1v1.1h-1.1zM426.9 39.8h1.1v1.1h-1.1zM429.9 39.6h1.1v1.1h-1.1zM431.1 39.6h1.1v1.1h-1.1zM433.0 39.8h1.1v1.1h-1.1zM435.5 39.8h1.1v1.1h-1.1zM438.3 39.7h1.1v1.1h-1.1zM439.7 40.0h1.1v1.1h-1.1zM440.6 39.8h1.1v1.1h-1.1zM444.7 40.0h1.1v1.1h-1.1zM448.1 39.9h1.1v1.1h-1.1zM448.9 39.7h1.1v1.1h-1.1zM452.1 39.7h1.1v1.1h-1.1zM453.0 39.8h1.1v1.1h-1.1zM454.2 39.9h1.1v1.1h-1.1zM420.4 40.9h1.1v1.1h-1.1zM422.6 41.0h1.1v1.1h-1.1zM426.1 41.0h1.1v1.1h-1.1zM427.8 41.1h1.1v1.1h-1.1zM428.8 40.9h1.1v1.1h-1.1zM431.0 40.9h1.1v1.1h-1.1zM432.3 40.7h1.1v1.1h-1.1zM433.2 40.9h1.1v1.1h-1.1zM435.6 41.1h1.1v1.1h-1.1zM438.4 40.7h1.1v1.1h-1.1zM440.4 40.8h1.1v1.1h-1.1zM441.8 41.1h1.1v1.1h-1.1zM444.9 40.9h1.1v1.1h-1.1zM445.9 41.0h1.1v1.1h-1.1zM421.9 41.9h1.1v1.1h-1.1zM423.9 41.9h1.1v1.1h-1.1zM427.9 41.7h1.1v1.1h-1.1zM429.0 42.2h1.1v1.1h-1.1zM430.0 42.0h1.1v1.1h-1.1zM431.1 41.9h1.1v1.1h-1.1zM433.2 42.2h1.1v1.1h-1.1zM434.3 41.8h1.1v1.1h-1.1zM435.3 42.1h1.1v1.1h-1.1zM436.4 42.0h1.1v1.1h-1.1zM437.5 41.7h1.1v1.1h-1.1zM440.7 41.7h1.1v1.1h-1.1zM419.8 42.9h1.1v1.1h-1.1zM420.5 42.8h1.1v1.1h-1.1zM421.7 43.0h1.1v1.1h-1.1zM423.8 42.8h1.1v1.1h-1.1zM424.9 43.2h1.1v1.1h-1.1zM427.1 43.1h1.1v1.1h-1.1zM429.3 43.0h1.1v1.1h-1.1zM430.0 43.2h1.1v1.1h-1.1zM432.1 42.8h1.1v1.1h-1.1zM434.4 42.8h1.1v1.1h-1.1zM436.3 43.2h1.1v1.1h-1.1zM439.6 42.9h1.1v1.1h-1.1zM446.1 42.9h1.1v1.1h-1.1z"/>
<path fill="#7570b8" d="M442.7 14.7h1.1v1.1h-1.1zM443.7 14.7h1.1v1.1h-1.1zM446.0 15.9h1.1v1.1h-1.1zM446.8 15.6h1.1v1.1h-1.1zM447.8 15.9h1.1v1.1h-1.1zM448.0 17.9h1.1v1.1h-1.1zM451.1 21.0h1.1v1.1h-1.1zM437.4 22.2h1.1v1.1h-1.1zM444.7 21.9h1.1v1.1h-1.1zM452.2 21.8h1.1v1.1h-1.1zM447.9 23.1h1.1v1.1h-1.1zM434.4 26.1h1.1v1.1h-1.1zM438.4 26.1h1.1v1.1h-1.1zM446.1 26.1h1.1v1.1h-1.1zM432.3 27.3h1.1v1.1h-1.1zM453.2 27.1h1.1v1.1h-1.1zM436.6 28.5h1.1v1.1h-1.1zM437.4 31.4h1.1v1.1h-1.1zM443.7 31.2h1.1v1.1h-1.1zM444.6 31.3h1.1v1.1h-1.1zM427.0 32.5h1.1v1.1h-1.1zM434.3 32.5h1.1v1.1h-1.1zM451.0 32.4h1.1v1.1h-1.1zM453.3 32.6h1.1v1.1h-1.1zM424.9 33.5h1.1v1.1h-1.1zM434.4 33.8h1.1v1.1h-1.1zM435.5 35.9h1.1v1.1h-1.1zM426.0 36.5h1.1v1.1h-1.1zM430.9 36.5h1.1v1.1h-1.1zM433.4 36.8h1.1v1.1h-1.1zM447.0 36.8h1.1v1.1h-1.1zM451.2 36.9h1.1v1.1h-1.1zM432.3 37.9h1.1v1.1h-1.1zM433.3 37.8h1.1v1.1h-1.1zM441.8 37.7h1.1v1.1h-1.1zM447.8 37.7h1.1v1.1h-1.1zM448.9 37.5h1.1v1.1h-1.1zM425.0 38.9h1.1v1.1h-1.1zM445.0 38.7h1.1v1.1h-1.1zM447.0 39.7h1.1v1.1h-1.1zM423.9 40.8h1.1v1.1h-1.1zM422.8 42.0h1.1v1.1h-1.1zM427.2 41.9h1.1v1.1h-1.1zM427.8 43.2h1.1v1.1h-1.1zM431.0 42.8h1.1v1.1h-1.1zM426.1 44.1h1.1v1.1h-1.1zM419.5 45.1h1.1v1.1h-1.1zM423.8 45.2h1.1v1.1h-1.1zM429.2 45.1h1.1v1.1h-1.1zM426.8 46.2h1.1v1.1h-1.1zM432.2 46.0h1.1v1.1h-1.1zM420.7 47.2h1.1v1.1h-1.1zM424.7 47.0h1.1v1.1h-1.1zM416.7 48.3h1.1v1.1h-1.1zM419.7 48.1h1.1v1.1h-1.1zM425.1 48.4h1.1v1.1h-1.1zM418.8 49.3h1.1v1.1h-1.1zM413.5 50.1h1.1v1.1h-1.1zM416.5 50.1h1.1v1.1h-1.1zM417.6 50.5h1.1v1.1h-1.1zM424.0 50.4h1.1v1.1h-1.1zM425.0 50.2h1.1v1.1h-1.1zM414.4 51.2h1.1v1.1h-1.1zM418.8 51.2h1.1v1.1h-1.1zM414.4 52.7h1.1v1.1h-1.1zM415.5 52.6h1.1v1.1h-1.1zM416.7 52.5h1.1v1.1h-1.1zM420.7 53.3h1.1v1.1h-1.1zM418.3 54.4h1.1v1.1h-1.1zM409.9 55.6h1.1v1.1h-1.1zM417.6 55.8h1.1v1.1h-1.1zM454.2 39.1h1.1v1.1h-1.1zM457.3 42.0h1.1v1.1h-1.1zM458.3 42.1h1.1v1.1h-1.1zM448.8 43.1h1.1v1.1h-1.1zM451.1 44.1h1.1v1.1h-1.1zM453.3 44.3h1.1v1.1h-1.1zM451.0 45.5h1.1v1.1h-1.1zM452.1 45.4h1.1v1.1h-1.1zM458.7 46.3h1.1v1.1h-1.1zM459.3 46.3h1.1v1.1h-1.1zM453.0 48.3h1.1v1.1h-1.1zM457.6 48.2h1.1v1.1h-1.1zM458.4 48.3h1.1v1.1h-1.1zM452.1 49.3h1.1v1.1h-1.1zM445.3 49.3h1.1v1.1h-1.1zM435.8 57.8h1.1v1.1h-1.1zM433.6 60.1h1.1v1.1h-1.1zM439.3 62.3h1.1v1.1h-1.1zM441.1 64.2h1.1v1.1h-1.1zM466.6 67.9h1.1v1.1h-1.1zM472.7 68.0h1.1v1.1h-1.1zM473.8 73.9h1.1v1.1h-1.1zM458.2 75.1h1.1v1.1h-1.1zM471.7 78.4h1.1v1.1h-1.1zM480.4 90.7h1.1v1.1h-1.1zM488.8 92.0h1.1v1.1h-1.1zM485.3 95.2h1.1v1.1h-1.1zM487.7 95.0h1.1v1.1h-1.1zM481.2 97.0h1.1v1.1h-1.1zM469.9 99.4h1.1v1.1h-1.1zM478.4 99.1h1.1v1.1h-1.1zM447.7 99.3h1.1v1.1h-1.1zM447.5 101.2h1.1v1.1h-1.1zM451.8 103.3h1.1v1.1h-1.1zM443.6 104.2h1.1v1.1h-1.1zM450.0 104.3h1.1v1.1h-1.1zM446.8 108.7h1.1v1.1h-1.1zM448.6 108.4h1.1v1.1h-1.1zM447.6 109.7h1.1v1.1h-1.1zM450.8 109.7h1.1v1.1h-1.1zM443.7 110.6h1.1v1.1h-1.1zM445.8 110.5h1.1v1.1h-1.1zM450.7 112.7h1.1v1.1h-1.1zM453.1 113.6h1.1v1.1h-1.1zM453.9 113.8h1.1v1.1h-1.1zM449.9 115.7h1.1v1.1h-1.1zM443.4 117.1h1.1v1.1h-1.1zM453.1 118.0h1.1v1.1h-1.1zM454.1 118.0h1.1v1.1h-1.1zM446.8 119.3h1.1v1.1h-1.1zM444.5 120.3h1.1v1.1h-1.1zM445.4 120.2h1.1v1.1h-1.1zM449.6 120.0h1.1v1.1h-1.1zM444.7 121.2h1.1v1.1h-1.1zM449.7 121.0h1.1v1.1h-1.1zM446.5 122.4h1.1v1.1h-1.1zM465.1 39.5h1.1v1.1h-1.1zM468.4 44.0h1.1v1.1h-1.1zM472.3 48.1h1.1v1.1h-1.1zM470.4 48.9h1.1v1.1h-1.1zM452.8 83.8h1.4v1.4h-1.4z"/>
<path fill="#984ea3" d="M445.9 14.5h1.1v1.1h-1.1zM447.1 14.7h1.1v1.1h-1.1zM442.5 15.6h1.1v1.1h-1.1zM439.6 16.7h1.1v1.1h-1.1zM441.9 16.8h1.1v1.1h-1.1zM439.3 17.6h1.1v1.1h-1.1zM443.6 18.0h1.1v1.1h-1.1zM450.2 17.6h1.1v1.1h-1.1zM440.7 18.9h1.1v1.1h-1.1zM447.7 18.8h1.1v1.1h-1.1zM440.7 19.8h1.1v1.1h-1.1zM442.8 19.8h1.1v1.1h-1.1zM449.8 20.0h1.1v1.1h-1.1zM443.8 20.8h1.1v1.1h-1.1zM438.6 21.8h1.1v1.1h-1.1zM440.5 21.9h1.1v1.1h-1.1zM443.8 22.2h1.1v1.1h-1.1zM445.9 21.9h1.1v1.1h-1.1zM435.2 24.2h1.1v1.1h-1.1zM443.6 24.1h1.1v1.1h-1.1zM435.5 25.0h1.1v1.1h-1.1zM437.6 25.3h1.1v1.1h-1.1zM438.5 25.3h1.1v1.1h-1.1zM441.5 24.9h1.1v1.1h-1.1zM443.8 25.1h1.1v1.1h-1.1zM446.7 25.0h1.1v1.1h-1.1zM436.3 26.1h1.1v1.1h-1.1zM437.6 26.1h1.1v1.1h-1.1zM448.9 26.2h1.1v1.1h-1.1zM449.9 26.1h1.1v1.1h-1.1zM453.3 26.1h1.1v1.1h-1.1zM438.7 27.1h1.1v1.1h-1.1zM441.6 27.2h1.1v1.1h-1.1zM442.6 27.3h1.1v1.1h-1.1zM443.6 27.1h1.1v1.1h-1.1zM446.7 27.5h1.1v1.1h-1.1zM449.0 27.1h1.1v1.1h-1.1zM454.1 27.4h1.1v1.1h-1.1zM432.0 28.1h1.1v1.1h-1.1zM446.9 28.3h1.1v1.1h-1.1zM452.1 28.5h1.1v1.1h-1.1zM430.1 29.2h1.1v1.1h-1.1zM434.4 29.1h1.1v1.1h-1.1zM435.4 29.6h1.1v1.1h-1.1zM437.5 29.1h1.1v1.1h-1.1zM443.6 29.5h1.1v1.1h-1.1zM445.8 29.6h1.1v1.1h-1.1zM450.0 29.3h1.1v1.1h-1.1zM451.3 29.3h1.1v1.1h-1.1zM453.3 29.2h1.1v1.1h-1.1zM437.6 30.4h1.1v1.1h-1.1zM446.1 30.2h1.1v1.1h-1.1zM448.1 30.2h1.1v1.1h-1.1zM448.8 30.2h1.1v1.1h-1.1zM430.0 31.3h1.1v1.1h-1.1zM433.2 31.4h1.1v1.1h-1.1zM447.1 31.3h1.1v1.1h-1.1zM449.1 31.6h1.1v1.1h-1.1zM431.3 32.4h1.1v1.1h-1.1zM436.4 32.4h1.1v1.1h-1.1zM438.5 32.5h1.1v1.1h-1.1zM448.2 32.7h1.1v1.1h-1.1zM456.5 32.4h1.1v1.1h-1.1zM426.8 33.4h1.1v1.1h-1.1zM438.4 33.7h1.1v1.1h-1.1zM439.5 33.7h1.1v1.1h-1.1zM444.6 33.5h1.1v1.1h-1.1zM446.0 33.5h1.1v1.1h-1.1zM423.6 34.8h1.1v1.1h-1.1zM432.2 34.4h1.1v1.1h-1.1zM438.4 34.7h1.1v1.1h-1.1zM444.6 34.7h1.1v1.1h-1.1zM445.7 34.6h1.1v1.1h-1.1zM447.8 34.7h1.1v1.1h-1.1zM451.3 34.6h1.1v1.1h-1.1zM455.5 34.8h1.1v1.1h-1.1zM456.2 34.5h1.1v1.1h-1.1zM421.6 35.4h1.1v1.1h-1.1zM425.0 35.8h1.1v1.1h-1.1zM441.7 35.5h1.1v1.1h-1.1zM444.8 35.9h1.1v1.1h-1.1zM446.8 35.7h1.1v1.1h-1.1zM447.7 35.5h1.1v1.1h-1.1zM457.2 35.7h1.1v1.1h-1.1zM439.5 36.5h1.1v1.1h-1.1zM454.1 36.7h1.1v1.1h-1.1zM420.9 37.6h1.1v1.1h-1.1zM422.6 37.9h1.1v1.1h-1.1zM430.1 37.6h1.1v1.1h-1.1zM438.3 37.6h1.1v1.1h-1.1zM444.7 37.5h1.1v1.1h-1.1zM455.1 37.5h1.1v1.1h-1.1zM457.3 37.5h1.1v1.1h-1.1zM420.8 38.8h1.1v1.1h-1.1zM423.9 38.8h1.1v1.1h-1.1zM426.1 38.8h1.1v1.1h-1.1zM429.2 38.9h1.1v1.1h-1.1zM430.3 38.7h1.1v1.1h-1.1zM448.8 39.0h1.1v1.1h-1.1zM453.2 38.8h1.1v1.1h-1.1zM427.9 39.8h1.1v1.1h-1.1zM429.2 39.8h1.1v1.1h-1.1zM434.2 39.7h1.1v1.1h-1.1zM450.9 39.7h1.1v1.1h-1.1zM421.9 40.7h1.1v1.1h-1.1zM424.6 40.8h1.1v1.1h-1.1zM426.7 41.0h1.1v1.1h-1.1zM436.3 40.9h1.1v1.1h-1.1zM452.3 40.7h1.1v1.1h-1.1zM419.8 42.0h1.1v1.1h-1.1zM442.8 41.8h1.1v1.1h-1.1zM445.8 41.7h1.1v1.1h-1.1zM446.8 41.8h1.1v1.1h-1.1zM449.9 42.1h1.1v1.1h-1.1zM426.0 42.9h1.1v1.1h-1.1zM433.1 43.0h1.1v1.1h-1.1zM440.5 43.0h1.1v1.1h-1.1zM428.0 44.2h1.1v1.1h-1.1zM430.1 44.0h1.1v1.1h-1.1zM434.2 44.1h1.1v1.1h-1.1zM434.3 45.0h1.1v1.1h-1.1zM418.7 48.1h1.1v1.1h-1.1zM415.6 50.6h1.1v1.1h-1.1zM413.4 51.6h1.1v1.1h-1.1zM419.4 51.2h1.1v1.1h-1.1zM417.5 52.5h1.1v1.1h-1.1zM412.0 53.6h1.1v1.1h-1.1zM415.4 53.6h1.1v1.1h-1.1zM411.3 54.3h1.1v1.1h-1.1zM413.3 54.6h1.1v1.1h-1.1zM411.1 57.6h1.1v1.1h-1.1zM412.2 57.7h1.1v1.1h-1.1zM418.5 58.7h1.1v1.1h-1.1zM411.2 60.8h1.1v1.1h-1.1zM413.1 63.9h1.1v1.1h-1.1zM411.3 65.1h1.1v1.1h-1.1zM408.2 66.3h1.1v1.1h-1.1zM411.3 68.4h1.1v1.1h-1.1zM416.5 71.6h1.1v1.1h-1.1zM412.1 75.5h1.1v1.1h-1.1zM422.8 75.4h1.1v1.1h-1.1zM419.6 76.4h1.1v1.1h-1.1zM412.3 77.8h1.1v1.1h-1.1zM427.0 82.8h1.1v1.1h-1.1zM457.2 34.6h1.1v1.1h-1.1zM456.2 36.1h1.1v1.1h-1.1zM458.3 35.8h1.1v1.1h-1.1zM452.3 38.8h1.1v1.1h-1.1zM450.2 40.0h1.1v1.1h-1.1zM449.2 41.2h1.1v1.1h-1.1zM461.4 40.9h1.1v1.1h-1.1zM459.7 47.3h1.1v1.1h-1.1zM451.3 49.7h1.1v1.1h-1.1zM452.3 51.4h1.1v1.1h-1.1zM453.2 51.6h1.1v1.1h-1.1zM453.4 52.7h1.1v1.1h-1.1zM455.4 52.8h1.1v1.1h-1.1zM456.4 52.8h1.1v1.1h-1.1zM444.4 49.7h1.1v1.1h-1.1zM436.1 54.9h1.1v1.1h-1.1zM440.0 55.9h1.1v1.1h-1.1zM445.5 55.6h1.1v1.1h-1.1zM447.5 55.6h1.1v1.1h-1.1zM445.6 59.1h1.1v1.1h-1.1zM447.2 58.7h1.1v1.1h-1.1zM449.5 58.9h1.1v1.1h-1.1zM434.8 60.9h1.1v1.1h-1.1zM436.1 61.2h1.1v1.1h-1.1zM435.7 65.4h1.1v1.1h-1.1zM512.8 65.6h1.1v1.1h-1.1zM512.8 66.3h1.1v1.1h-1.1zM449.9 99.2h1.1v1.1h-1.1zM446.7 100.2h1.1v1.1h-1.1zM443.6 105.2h1.1v1.1h-1.1zM446.6 105.6h1.1v1.1h-1.1zM447.5 105.6h1.1v1.1h-1.1zM449.5 105.5h1.1v1.1h-1.1zM450.8 105.4h1.1v1.1h-1.1zM446.7 106.6h1.1v1.1h-1.1zM452.8 106.3h1.1v1.1h-1.1zM446.8 107.7h1.1v1.1h-1.1zM447.9 107.8h1.1v1.1h-1.1zM453.8 107.7h1.1v1.1h-1.1zM445.6 108.5h1.1v1.1h-1.1zM450.9 108.8h1.1v1.1h-1.1zM451.7 108.4h1.1v1.1h-1.1zM452.9 108.8h1.1v1.1h-1.1zM444.3 109.6h1.1v1.1h-1.1zM445.5 109.9h1.1v1.1h-1.1zM448.9 109.6h1.1v1.1h-1.1zM444.7 110.6h1.1v1.1h-1.1zM446.8 110.6h1.1v1.1h-1.1zM448.6 110.8h1.1v1.1h-1.1zM453.8 110.5h1.1v1.1h-1.1zM442.6 111.5h1.1v1.1h-1.1zM443.2 111.8h1.1v1.1h-1.1zM445.6 111.9h1.1v1.1h-1.1zM449.8 111.6h1.1v1.1h-1.1zM450.7 112.0h1.1v1.1h-1.1zM452.1 111.6h1.1v1.1h-1.1zM453.9 112.0h1.1v1.1h-1.1zM442.6 112.8h1.1v1.1h-1.1zM443.4 113.0h1.1v1.1h-1.1zM445.7 113.0h1.1v1.1h-1.1zM446.7 112.6h1.1v1.1h-1.1zM447.4 112.7h1.1v1.1h-1.1zM452.0 112.8h1.1v1.1h-1.1zM445.4 113.7h1.1v1.1h-1.1zM446.8 113.9h1.1v1.1h-1.1zM448.8 113.8h1.1v1.1h-1.1zM449.6 113.7h1.1v1.1h-1.1zM444.3 115.0h1.1v1.1h-1.1zM446.8 114.9h1.1v1.1h-1.1zM454.8 114.7h1.1v1.1h-1.1zM443.3 116.0h1.1v1.1h-1.1zM444.6 116.1h1.1v1.1h-1.1zM446.7 115.7h1.1v1.1h-1.1zM450.8 116.1h1.1v1.1h-1.1zM452.0 115.9h1.1v1.1h-1.1zM449.7 116.8h1.1v1.1h-1.1zM450.6 116.8h1.1v1.1h-1.1zM453.1 116.8h1.1v1.1h-1.1zM443.7 118.3h1.1v1.1h-1.1zM444.7 118.3h1.1v1.1h-1.1zM446.4 118.2h1.1v1.1h-1.1zM450.8 118.0h1.1v1.1h-1.1zM443.6 119.3h1.1v1.1h-1.1zM444.5 119.2h1.1v1.1h-1.1zM447.5 119.3h1.1v1.1h-1.1zM448.8 119.0h1.1v1.1h-1.1zM449.7 119.2h1.1v1.1h-1.1zM451.9 119.1h1.1v1.1h-1.1zM447.7 121.0h1.1v1.1h-1.1zM448.8 121.0h1.1v1.1h-1.1zM447.7 122.5h1.1v1.1h-1.1zM449.8 122.4h1.1v1.1h-1.1zM444.3 123.2h1.1v1.1h-1.1zM446.4 124.2h1.1v1.1h-1.1zM462.9 38.7h1.1v1.1h-1.1zM467.1 38.6h1.1v1.1h-1.1zM469.3 38.4h1.1v1.1h-1.1zM461.9 39.5h1.1v1.1h-1.1zM464.1 39.7h1.1v1.1h-1.1zM462.0 40.6h1.1v1.1h-1.1zM470.3 41.6h1.1v1.1h-1.1zM467.1 44.8h1.1v1.1h-1.1zM468.5 45.1h1.1v1.1h-1.1zM469.2 45.0h1.1v1.1h-1.1zM472.6 44.8h1.1v1.1h-1.1zM470.6 46.8h1.1v1.1h-1.1zM471.6 49.2h1.1v1.1h-1.1zM473.4 44.6h1.1v1.1h-1.1zM473.5 45.5h1.1v1.1h-1.1zM477.6 46.5h1.1v1.1h-1.1zM472.5 48.5h1.1v1.1h-1.1zM474.4 48.7h1.1v1.1h-1.1zM477.8 49.7h1.1v1.1h-1.1zM478.5 49.6h1.1v1.1h-1.1zM474.3 51.7h1.1v1.1h-1.1zM475.5 51.8h1.1v1.1h-1.1zM474.3 52.9h1.1v1.1h-1.1zM479.2 36.2h1.1v1.1h-1.1zM478.5 37.4h1.1v1.1h-1.1zM477.1 38.6h1.1v1.1h-1.1zM479.1 38.3h1.1v1.1h-1.1zM476.1 39.4h1.1v1.1h-1.1zM477.2 39.4h1.1v1.1h-1.1zM478.1 39.6h1.1v1.1h-1.1zM479.3 39.4h1.1v1.1h-1.1zM478.4 40.4h1.1v1.1h-1.1zM479.3 40.7h1.1v1.1h-1.1zM477.3 41.8h1.1v1.1h-1.1zM477.5 42.4h1.1v1.1h-1.1zM478.1 43.5h1.1v1.1h-1.1zM479.3 43.5h1.1v1.1h-1.1zM479.3 44.8h1.1v1.1h-1.1z"/>
<path fill="#1b9e77" d="M443.8 15.7h1.1v1.1h-1.1zM451.1 17.9h1.1v1.1h-1.1zM438.5 20.1h1.1v1.1h-1.1zM450.9 19.9h1.1v1.1h-1.1zM448.0 21.0h1.1v1.1h-1.1zM436.2 23.0h1.1v1.1h-1.1zM441.4 23.3h1.1v1.1h-1.1zM453.2 24.3h1.1v1.1h-1.1zM436.3 25.1h1.1v1.1h-1.1zM450.0 25.1h1.1v1.1h-1.1zM440.7 26.1h1.1v1.1h-1.1zM436.2 27.2h1.1v1.1h-1.1zM431.0 28.2h1.1v1.1h-1.1zM434.5 28.4h1.1v1.1h-1.1zM438.5 28.1h1.1v1.1h-1.1zM441.7 28.2h1.1v1.1h-1.1zM448.8 28.1h1.1v1.1h-1.1zM430.9 29.6h1.1v1.1h-1.1zM432.1 29.3h1.1v1.1h-1.1zM436.2 29.6h1.1v1.1h-1.1zM439.8 29.1h1.1v1.1h-1.1zM435.5 30.2h1.1v1.1h-1.1zM450.3 30.5h1.1v1.1h-1.1zM428.9 31.4h1.1v1.1h-1.1zM427.9 32.7h1.1v1.1h-1.1zM444.8 32.4h1.1v1.1h-1.1zM446.8 32.7h1.1v1.1h-1.1zM449.1 32.6h1.1v1.1h-1.1zM450.2 32.3h1.1v1.1h-1.1zM436.4 33.4h1.1v1.1h-1.1zM425.9 34.7h1.1v1.1h-1.1zM429.3 34.4h1.1v1.1h-1.1zM446.7 34.8h1.1v1.1h-1.1zM432.0 35.8h1.1v1.1h-1.1zM433.3 35.7h1.1v1.1h-1.1zM442.9 35.6h1.1v1.1h-1.1zM448.9 35.4h1.1v1.1h-1.1zM452.3 35.8h1.1v1.1h-1.1zM453.0 35.4h1.1v1.1h-1.1zM456.3 35.5h1.1v1.1h-1.1zM423.8 36.7h1.1v1.1h-1.1zM428.2 36.8h1.1v1.1h-1.1zM445.7 36.6h1.1v1.1h-1.1zM447.8 36.6h1.1v1.1h-1.1zM439.6 38.0h1.1v1.1h-1.1zM454.2 37.6h1.1v1.1h-1.1zM456.3 38.0h1.1v1.1h-1.1zM450.2 39.0h1.1v1.1h-1.1zM451.2 38.8h1.1v1.1h-1.1zM454.3 38.8h1.1v1.1h-1.1zM419.8 39.8h1.1v1.1h-1.1zM420.9 39.7h1.1v1.1h-1.1zM426.0 40.0h1.1v1.1h-1.1zM432.2 40.1h1.1v1.1h-1.1zM436.2 39.6h1.1v1.1h-1.1zM437.3 40.0h1.1v1.1h-1.1zM441.8 39.7h1.1v1.1h-1.1zM445.8 39.8h1.1v1.1h-1.1zM450.3 39.9h1.1v1.1h-1.1zM418.7 41.1h1.1v1.1h-1.1zM439.4 41.0h1.1v1.1h-1.1zM443.9 40.9h1.1v1.1h-1.1zM449.2 41.1h1.1v1.1h-1.1zM420.8 42.2h1.1v1.1h-1.1zM425.9 42.1h1.1v1.1h-1.1zM432.2 41.9h1.1v1.1h-1.1zM438.4 42.1h1.1v1.1h-1.1zM423.0 42.9h1.1v1.1h-1.1zM435.1 43.0h1.1v1.1h-1.1zM419.6 43.8h1.1v1.1h-1.1zM424.0 44.1h1.1v1.1h-1.1zM432.0 44.2h1.1v1.1h-1.1zM415.6 45.9h1.1v1.1h-1.1zM422.9 47.4h1.1v1.1h-1.1zM422.7 48.0h1.1v1.1h-1.1zM414.5 49.3h1.1v1.1h-1.1zM419.6 50.4h1.1v1.1h-1.1zM413.2 52.4h1.1v1.1h-1.1zM414.4 53.4h1.1v1.1h-1.1zM414.5 54.5h1.1v1.1h-1.1zM414.1 55.6h1.1v1.1h-1.1zM418.6 55.8h1.1v1.1h-1.1zM413.5 56.6h1.1v1.1h-1.1zM415.3 56.7h1.1v1.1h-1.1zM417.4 56.6h1.1v1.1h-1.1zM418.7 56.9h1.1v1.1h-1.1zM419.6 56.8h1.1v1.1h-1.1zM415.4 71.3h1.1v1.1h-1.1zM410.3 75.8h1.1v1.1h-1.1zM416.6 83.8h1.1v1.1h-1.1zM420.6 89.4h1.1v1.1h-1.1zM455.5 35.8h1.1v1.1h-1.1zM458.6 36.7h1.1v1.1h-1.1zM457.2 39.2h1.1v1.1h-1.1zM459.6 39.0h1.1v1.1h-1.1zM458.5 41.3h1.1v1.1h-1.1zM459.6 41.0h1.1v1.1h-1.1zM449.1 42.2h1.1v1.1h-1.1zM454.2 42.2h1.1v1.1h-1.1zM453.2 43.2h1.1v1.1h-1.1zM454.3 44.3h1.1v1.1h-1.1zM458.2 44.2h1.1v1.1h-1.1zM449.1 45.1h1.1v1.1h-1.1zM455.3 46.3h1.1v1.1h-1.1zM457.2 47.6h1.1v1.1h-1.1zM458.6 47.6h1.1v1.1h-1.1zM457.5 50.3h1.1v1.1h-1.1zM456.3 51.6h1.1v1.1h-1.1zM448.5 52.8h1.1v1.1h-1.1zM441.3 58.0h1.1v1.1h-1.1zM432.9 60.8h1.1v1.1h-1.1zM435.7 62.0h1.1v1.1h-1.1zM464.7 57.2h1.1v1.1h-1.1zM460.4 58.5h1.1v1.1h-1.1zM466.4 58.4h1.1v1.1h-1.1zM460.4 59.4h1.1v1.1h-1.1zM464.6 59.5h1.1v1.1h-1.1zM472.9 60.6h1.1v1.1h-1.1zM454.2 62.3h1.1v1.1h-1.1zM476.0 62.4h1.1v1.1h-1.1zM472.1 68.0h1.1v1.1h-1.1zM483.6 69.0h1.1v1.1h-1.1zM484.4 69.0h1.1v1.1h-1.1zM460.3 70.8h1.1v1.1h-1.1zM472.0 71.8h1.1v1.1h-1.1zM472.0 72.9h1.1v1.1h-1.1zM480.3 72.9h1.1v1.1h-1.1zM454.9 73.9h1.1v1.1h-1.1zM451.1 75.3h1.1v1.1h-1.1zM459.4 76.3h1.1v1.1h-1.1zM461.3 77.4h1.1v1.1h-1.1zM446.8 78.3h1.1v1.1h-1.1zM460.1 78.4h1.1v1.1h-1.1zM456.0 79.5h1.1v1.1h-1.1zM493.7 79.2h1.1v1.1h-1.1zM469.9 83.4h1.1v1.1h-1.1zM486.7 83.7h1.1v1.1h-1.1zM487.6 83.3h1.1v1.1h-1.1zM468.5 84.7h1.1v1.1h-1.1zM487.5 85.4h1.1v1.1h-1.1zM482.6 86.8h1.1v1.1h-1.1zM477.0 88.9h1.1v1.1h-1.1zM482.4 88.6h1.1v1.1h-1.1zM473.0 96.3h1.1v1.1h-1.1zM489.6 96.0h1.1v1.1h-1.1zM476.3 99.2h1.1v1.1h-1.1zM477.2 100.3h1.1v1.1h-1.1zM478.1 101.5h1.1v1.1h-1.1zM473.0 103.5h1.1v1.1h-1.1zM510.5 65.3h1.1v1.1h-1.1zM513.9 65.5h1.1v1.1h-1.1zM509.6 67.4h1.1v1.1h-1.1zM445.7 100.2h1.1v1.1h-1.1zM451.9 100.0h1.1v1.1h-1.1zM452.7 100.3h1.1v1.1h-1.1zM451.0 101.4h1.1v1.1h-1.1zM445.5 106.3h1.1v1.1h-1.1zM450.8 106.5h1.1v1.1h-1.1zM454.1 106.7h1.1v1.1h-1.1zM449.6 107.5h1.1v1.1h-1.1zM453.1 107.4h1.1v1.1h-1.1zM444.6 108.6h1.1v1.1h-1.1zM449.7 108.6h1.1v1.1h-1.1zM446.8 109.8h1.1v1.1h-1.1zM442.6 110.7h1.1v1.1h-1.1zM443.7 114.0h1.1v1.1h-1.1zM451.8 113.8h1.1v1.1h-1.1zM445.4 115.0h1.1v1.1h-1.1zM445.4 115.8h1.1v1.1h-1.1zM454.0 115.9h1.1v1.1h-1.1zM445.7 117.2h1.1v1.1h-1.1zM449.6 118.0h1.1v1.1h-1.1zM445.7 121.1h1.1v1.1h-1.1zM450.7 121.1h1.1v1.1h-1.1zM452.0 121.0h1.1v1.1h-1.1zM467.3 35.3h1.1v1.1h-1.1zM466.4 36.5h1.1v1.1h-1.1zM471.3 36.5h1.1v1.1h-1.1zM472.7 40.5h1.1v1.1h-1.1zM472.6 41.5h1.1v1.1h-1.1zM473.8 41.6h1.1v1.1h-1.1zM465.3 43.9h1.1v1.1h-1.1zM465.3 45.1h1.1v1.1h-1.1zM473.7 46.0h1.1v1.1h-1.1zM472.6 49.3h1.1v1.1h-1.1zM467.1 50.2h1.1v1.1h-1.1zM470.3 50.2h1.1v1.1h-1.1zM471.5 50.4h1.1v1.1h-1.1zM475.6 44.7h1.1v1.1h-1.1zM474.2 45.7h1.1v1.1h-1.1zM472.5 46.7h1.1v1.1h-1.1zM473.4 47.6h1.1v1.1h-1.1zM474.5 47.9h1.1v1.1h-1.1zM473.2 48.8h1.1v1.1h-1.1zM475.6 48.7h1.1v1.1h-1.1zM476.3 48.7h1.1v1.1h-1.1zM477.4 48.8h1.1v1.1h-1.1zM474.7 50.8h1.1v1.1h-1.1zM475.6 51.0h1.1v1.1h-1.1zM472.6 51.9h1.1v1.1h-1.1zM473.3 51.7h1.1v1.1h-1.1zM476.5 51.8h1.1v1.1h-1.1zM482.6 35.5h1.1v1.1h-1.1zM485.5 37.2h1.1v1.1h-1.1zM478.4 38.4h1.1v1.1h-1.1zM480.6 39.4h1.1v1.1h-1.1zM483.6 39.3h1.1v1.1h-1.1zM478.2 41.6h1.1v1.1h-1.1zM479.3 41.8h1.1v1.1h-1.1zM483.7 41.4h1.1v1.1h-1.1zM478.5 42.7h1.1v1.1h-1.1zM480.6 43.6h1.1v1.1h-1.1zM425.8 46.9h1.4v1.4h-1.4z"/>
<path fill="#e05a33" d="M448.2 16.8h1.1v1.1h-1.1zM435.2 33.6h1.1v1.1h-1.1zM452.2 36.9h1.1v1.1h-1.1zM429.2 46.4h1.1v1.1h-1.1zM415.3 64.9h1.1v1.1h-1.1zM407.9 73.4h1.1v1.1h-1.1zM419.7 73.6h1.1v1.1h-1.1zM428.9 92.1h1.1v1.1h-1.1zM463.6 56.2h1.1v1.1h-1.1zM467.7 56.0h1.1v1.1h-1.1zM468.6 56.2h1.1v1.1h-1.1zM469.7 56.4h1.1v1.1h-1.1zM471.9 56.4h1.1v1.1h-1.1zM457.1 57.2h1.1v1.1h-1.1zM459.2 57.0h1.1v1.1h-1.1zM460.3 57.2h1.1v1.1h-1.1zM462.7 57.0h1.1v1.1h-1.1zM471.7 57.2h1.1v1.1h-1.1zM454.2 58.4h1.1v1.1h-1.1zM450.7 60.3h1.1v1.1h-1.1zM448.8 61.4h1.1v1.1h-1.1zM483.2 64.7h1.1v1.1h-1.1zM448.8 65.6h1.1v1.1h-1.1zM448.8 66.8h1.1v1.1h-1.1zM486.5 67.9h1.1v1.1h-1.1zM447.7 68.8h1.1v1.1h-1.1zM447.8 69.9h1.1v1.1h-1.1zM445.6 72.1h1.1v1.1h-1.1zM442.4 74.1h1.1v1.1h-1.1zM443.7 73.9h1.1v1.1h-1.1zM494.0 76.4h1.1v1.1h-1.1zM495.0 77.0h1.1v1.1h-1.1zM440.4 78.1h1.1v1.1h-1.1zM495.2 78.2h1.1v1.1h-1.1zM443.4 80.5h1.1v1.1h-1.1zM445.5 80.3h1.1v1.1h-1.1zM448.0 80.6h1.1v1.1h-1.1zM447.9 81.4h1.1v1.1h-1.1zM453.9 83.5h1.1v1.1h-1.1zM455.9 84.4h1.1v1.1h-1.1zM458.5 85.8h1.1v1.1h-1.1zM462.3 87.5h1.1v1.1h-1.1zM467.5 93.8h1.1v1.1h-1.1zM493.9 94.1h1.1v1.1h-1.1zM467.5 96.3h1.1v1.1h-1.1zM493.1 96.1h1.1v1.1h-1.1zM492.7 97.2h1.1v1.1h-1.1zM467.5 99.0h1.1v1.1h-1.1zM491.8 99.1h1.1v1.1h-1.1zM468.8 101.2h1.1v1.1h-1.1zM483.3 105.7h1.1v1.1h-1.1zM472.8 106.5h1.1v1.1h-1.1zM474.2 106.8h1.1v1.1h-1.1zM475.1 106.7h1.1v1.1h-1.1zM478.1 106.7h1.1v1.1h-1.1zM480.1 106.4h1.1v1.1h-1.1zM481.4 106.4h1.1v1.1h-1.1zM478.1 107.5h1.1v1.1h-1.1zM476.7 45.3h1.1v1.1h-1.1zM477.5 45.6h1.1v1.1h-1.1zM471.5 49.6h1.1v1.1h-1.1zM441.3 111.8h1.4v1.4h-1.4zM423.8 47.3h1.4v1.4h-1.4zM425.1 48.1h1.4v1.4h-1.4zM424.3 49.1h1.4v1.4h-1.4zM420.8 49.8h1.4v1.4h-1.4z"/>
<path fill="#ffffff" d="M439.7 19.0h1.1v1.1h-1.1zM444.8 18.7h1.1v1.1h-1.1zM447.0 19.8h1.1v1.1h-1.1zM445.9 20.8h1.1v1.1h-1.1zM448.2 26.2h1.1v1.1h-1.1zM451.1 27.3h1.1v1.1h-1.1zM441.6 30.5h1.1v1.1h-1.1zM450.9 31.3h1.1v1.1h-1.1zM441.5 33.5h1.1v1.1h-1.1zM430.0 34.7h1.1v1.1h-1.1zM436.6 34.6h1.1v1.1h-1.1zM442.6 34.8h1.1v1.1h-1.1zM453.3 34.4h1.1v1.1h-1.1zM455.1 35.6h1.1v1.1h-1.1zM453.4 36.8h1.1v1.1h-1.1zM453.3 37.5h1.1v1.1h-1.1zM442.9 39.9h1.1v1.1h-1.1zM429.9 41.1h1.1v1.1h-1.1zM434.3 41.1h1.1v1.1h-1.1zM447.8 40.8h1.1v1.1h-1.1zM424.7 45.3h1.1v1.1h-1.1zM419.5 46.1h1.1v1.1h-1.1zM422.6 52.5h1.1v1.1h-1.1zM419.5 55.5h1.1v1.1h-1.1zM414.6 62.9h1.1v1.1h-1.1zM413.1 66.3h1.1v1.1h-1.1zM411.3 72.3h1.1v1.1h-1.1zM418.5 75.8h1.1v1.1h-1.1zM419.5 75.6h1.1v1.1h-1.1zM413.2 79.6h1.1v1.1h-1.1zM415.5 81.9h1.1v1.1h-1.1zM414.3 83.7h1.1v1.1h-1.1zM415.3 86.2h1.1v1.1h-1.1zM430.1 95.7h1.1v1.1h-1.1zM467.8 57.3h1.1v1.1h-1.1zM454.2 59.3h1.1v1.1h-1.1zM468.8 63.5h1.1v1.1h-1.1zM476.1 65.6h1.1v1.1h-1.1zM451.9 68.0h1.1v1.1h-1.1zM453.1 68.8h1.1v1.1h-1.1zM458.4 69.7h1.1v1.1h-1.1zM457.4 71.0h1.1v1.1h-1.1zM467.6 71.0h1.1v1.1h-1.1zM472.7 70.8h1.1v1.1h-1.1zM473.8 71.1h1.1v1.1h-1.1zM472.8 71.8h1.1v1.1h-1.1zM466.9 72.8h1.1v1.1h-1.1zM452.9 74.1h1.1v1.1h-1.1zM480.5 74.0h1.1v1.1h-1.1zM443.4 75.1h1.1v1.1h-1.1zM444.7 75.0h1.1v1.1h-1.1zM441.5 76.3h1.1v1.1h-1.1zM446.6 76.2h1.1v1.1h-1.1zM464.3 76.1h1.1v1.1h-1.1zM441.3 77.1h1.1v1.1h-1.1zM477.2 78.1h1.1v1.1h-1.1zM467.9 81.4h1.1v1.1h-1.1zM484.3 83.3h1.1v1.1h-1.1zM463.4 85.6h1.1v1.1h-1.1zM481.3 92.7h1.1v1.1h-1.1zM470.7 94.8h1.1v1.1h-1.1zM479.4 105.4h1.1v1.1h-1.1zM466.3 41.7h1.1v1.1h-1.1zM466.0 47.0h1.1v1.1h-1.1zM468.5 46.8h1.1v1.1h-1.1z"/>
<path fill="#4f3fb0" d="M442.5 19.0h1.1v1.1h-1.1zM441.6 19.7h1.1v1.1h-1.1zM437.2 20.7h1.1v1.1h-1.1zM449.1 20.9h1.1v1.1h-1.1zM435.3 23.0h1.1v1.1h-1.1zM444.7 25.4h1.1v1.1h-1.1zM452.2 25.3h1.1v1.1h-1.1zM446.0 28.1h1.1v1.1h-1.1zM438.5 29.4h1.1v1.1h-1.1zM436.3 31.4h1.1v1.1h-1.1zM455.4 32.3h1.1v1.1h-1.1zM452.2 33.5h1.1v1.1h-1.1zM439.8 35.4h1.1v1.1h-1.1zM449.1 36.5h1.1v1.1h-1.1zM444.0 39.7h1.1v1.1h-1.1zM437.5 40.8h1.1v1.1h-1.1zM442.5 41.1h1.1v1.1h-1.1zM447.0 40.7h1.1v1.1h-1.1zM425.0 42.0h1.1v1.1h-1.1zM451.3 83.3h1.4v1.4h-1.4zM450.3 84.5h1.4v1.4h-1.4z"/>
<path fill="#6a5eb8" d="M416.3 44.1h1.1v1.1h-1.1zM418.7 44.2h1.1v1.1h-1.1zM420.7 44.0h1.1v1.1h-1.1zM421.7 43.8h1.1v1.1h-1.1zM422.5 44.0h1.1v1.1h-1.1zM424.9 43.9h1.1v1.1h-1.1zM427.0 43.8h1.1v1.1h-1.1zM429.1 43.9h1.1v1.1h-1.1zM431.0 43.9h1.1v1.1h-1.1zM433.1 43.8h1.1v1.1h-1.1zM417.3 45.2h1.1v1.1h-1.1zM418.6 45.1h1.1v1.1h-1.1zM420.5 45.2h1.1v1.1h-1.1zM421.9 45.2h1.1v1.1h-1.1zM422.9 45.0h1.1v1.1h-1.1zM425.9 45.3h1.1v1.1h-1.1zM426.9 44.9h1.1v1.1h-1.1zM428.0 45.2h1.1v1.1h-1.1zM430.2 45.2h1.1v1.1h-1.1zM431.2 45.1h1.1v1.1h-1.1zM432.3 45.2h1.1v1.1h-1.1zM433.5 45.1h1.1v1.1h-1.1zM416.3 45.9h1.1v1.1h-1.1zM417.5 46.3h1.1v1.1h-1.1zM418.4 45.9h1.1v1.1h-1.1zM420.7 46.3h1.1v1.1h-1.1zM421.9 46.2h1.1v1.1h-1.1zM422.7 46.1h1.1v1.1h-1.1zM424.0 46.1h1.1v1.1h-1.1zM424.8 46.3h1.1v1.1h-1.1zM425.9 45.9h1.1v1.1h-1.1zM430.1 46.2h1.1v1.1h-1.1zM431.2 46.0h1.1v1.1h-1.1zM416.6 47.1h1.1v1.1h-1.1zM417.7 47.3h1.1v1.1h-1.1zM418.4 47.0h1.1v1.1h-1.1zM419.6 47.2h1.1v1.1h-1.1zM421.7 47.4h1.1v1.1h-1.1zM423.9 47.3h1.1v1.1h-1.1zM425.8 47.3h1.1v1.1h-1.1zM427.0 47.2h1.1v1.1h-1.1zM414.2 48.1h1.1v1.1h-1.1zM415.4 48.4h1.1v1.1h-1.1zM417.4 48.4h1.1v1.1h-1.1zM420.5 48.2h1.1v1.1h-1.1zM421.6 48.2h1.1v1.1h-1.1zM423.7 48.4h1.1v1.1h-1.1zM415.4 49.2h1.1v1.1h-1.1zM416.2 49.1h1.1v1.1h-1.1zM417.7 49.5h1.1v1.1h-1.1zM419.4 49.3h1.1v1.1h-1.1zM420.6 49.4h1.1v1.1h-1.1zM421.8 49.2h1.1v1.1h-1.1zM422.7 49.3h1.1v1.1h-1.1zM423.7 49.4h1.1v1.1h-1.1zM424.8 49.5h1.1v1.1h-1.1zM414.5 50.2h1.1v1.1h-1.1zM418.6 50.6h1.1v1.1h-1.1zM420.7 50.6h1.1v1.1h-1.1zM421.9 50.5h1.1v1.1h-1.1zM422.5 50.4h1.1v1.1h-1.1zM425.9 50.2h1.1v1.1h-1.1zM415.4 51.5h1.1v1.1h-1.1zM416.5 51.2h1.1v1.1h-1.1zM417.3 51.4h1.1v1.1h-1.1zM420.5 51.4h1.1v1.1h-1.1zM421.6 51.3h1.1v1.1h-1.1zM422.8 51.3h1.1v1.1h-1.1zM424.0 51.2h1.1v1.1h-1.1zM418.5 52.3h1.1v1.1h-1.1zM419.5 52.6h1.1v1.1h-1.1zM420.4 52.3h1.1v1.1h-1.1zM421.6 52.5h1.1v1.1h-1.1zM411.1 53.5h1.1v1.1h-1.1zM413.4 53.7h1.1v1.1h-1.1zM416.7 53.3h1.1v1.1h-1.1zM417.3 53.5h1.1v1.1h-1.1zM418.6 53.4h1.1v1.1h-1.1zM419.8 53.3h1.1v1.1h-1.1zM421.8 53.3h1.1v1.1h-1.1zM422.6 53.5h1.1v1.1h-1.1zM412.1 54.7h1.1v1.1h-1.1zM415.2 54.5h1.1v1.1h-1.1zM416.2 54.5h1.1v1.1h-1.1zM417.7 54.7h1.1v1.1h-1.1zM419.5 54.3h1.1v1.1h-1.1zM420.7 54.4h1.1v1.1h-1.1zM411.1 55.7h1.1v1.1h-1.1zM412.3 55.4h1.1v1.1h-1.1zM413.3 55.7h1.1v1.1h-1.1zM415.3 55.5h1.1v1.1h-1.1zM416.3 55.4h1.1v1.1h-1.1zM409.1 56.4h1.1v1.1h-1.1zM410.3 56.8h1.1v1.1h-1.1zM411.4 56.8h1.1v1.1h-1.1zM412.4 56.8h1.1v1.1h-1.1zM414.1 56.6h1.1v1.1h-1.1zM416.5 56.9h1.1v1.1h-1.1z"/>
<path fill="#5c4fae" d="M419.7 57.7h1.1v1.1h-1.1zM406.9 60.9h1.1v1.1h-1.1zM419.6 63.8h1.1v1.1h-1.1zM419.5 65.2h1.1v1.1h-1.1zM406.8 66.0h1.1v1.1h-1.1zM406.8 67.0h1.1v1.1h-1.1zM407.2 68.1h1.1v1.1h-1.1zM407.1 69.1h1.1v1.1h-1.1zM420.8 69.2h1.1v1.1h-1.1zM408.0 74.5h1.1v1.1h-1.1zM408.2 75.7h1.1v1.1h-1.1zM410.0 80.8h1.1v1.1h-1.1zM427.1 81.8h1.1v1.1h-1.1zM428.0 81.8h1.1v1.1h-1.1zM429.9 85.2h1.1v1.1h-1.1zM432.1 88.2h1.1v1.1h-1.1zM433.4 91.4h1.1v1.1h-1.1zM422.6 93.6h1.1v1.1h-1.1zM434.1 93.5h1.1v1.1h-1.1zM423.0 94.4h1.1v1.1h-1.1zM423.6 94.4h1.1v1.1h-1.1z"/>
<path fill="#7166bb" d="M408.1 58.6h1.1v1.1h-1.1zM413.3 58.8h1.1v1.1h-1.1zM414.5 58.9h1.1v1.1h-1.1zM411.2 59.8h1.1v1.1h-1.1zM412.3 60.9h1.1v1.1h-1.1zM415.5 61.0h1.1v1.1h-1.1zM408.3 61.8h1.1v1.1h-1.1zM414.6 61.7h1.1v1.1h-1.1zM417.7 61.9h1.1v1.1h-1.1zM418.6 61.9h1.1v1.1h-1.1zM410.2 63.1h1.1v1.1h-1.1zM412.5 63.1h1.1v1.1h-1.1zM416.5 63.1h1.1v1.1h-1.1zM406.9 64.2h1.1v1.1h-1.1zM411.3 66.0h1.1v1.1h-1.1zM414.2 66.2h1.1v1.1h-1.1zM419.8 67.1h1.1v1.1h-1.1zM420.5 67.1h1.1v1.1h-1.1zM409.0 68.1h1.1v1.1h-1.1zM414.2 68.1h1.1v1.1h-1.1zM416.5 70.1h1.1v1.1h-1.1zM418.8 70.5h1.1v1.1h-1.1zM414.5 72.3h1.1v1.1h-1.1zM410.3 73.2h1.1v1.1h-1.1zM414.5 73.7h1.1v1.1h-1.1zM415.2 73.6h1.1v1.1h-1.1zM409.3 74.4h1.1v1.1h-1.1zM411.0 74.5h1.1v1.1h-1.1zM412.2 74.4h1.1v1.1h-1.1zM413.1 74.5h1.1v1.1h-1.1zM415.3 74.6h1.1v1.1h-1.1zM421.5 74.4h1.1v1.1h-1.1zM417.5 75.6h1.1v1.1h-1.1zM421.6 76.6h1.1v1.1h-1.1zM414.4 77.5h1.1v1.1h-1.1zM423.0 77.4h1.1v1.1h-1.1zM423.9 77.8h1.1v1.1h-1.1zM420.7 78.6h1.1v1.1h-1.1zM410.1 79.6h1.1v1.1h-1.1zM415.6 79.6h1.1v1.1h-1.1zM414.3 80.6h1.1v1.1h-1.1zM422.5 80.7h1.1v1.1h-1.1zM417.3 81.7h1.1v1.1h-1.1zM418.4 81.7h1.1v1.1h-1.1zM420.5 82.1h1.1v1.1h-1.1zM411.4 82.8h1.1v1.1h-1.1zM427.9 83.1h1.1v1.1h-1.1zM419.6 84.1h1.1v1.1h-1.1zM420.6 84.0h1.1v1.1h-1.1zM417.4 85.0h1.1v1.1h-1.1zM418.6 85.2h1.1v1.1h-1.1zM420.5 85.1h1.1v1.1h-1.1zM422.9 84.8h1.1v1.1h-1.1zM424.0 84.9h1.1v1.1h-1.1zM424.7 85.2h1.1v1.1h-1.1zM425.7 86.9h1.1v1.1h-1.1zM419.7 88.0h1.1v1.1h-1.1zM421.6 88.1h1.1v1.1h-1.1zM427.0 88.1h1.1v1.1h-1.1zM430.0 88.0h1.1v1.1h-1.1zM422.8 89.2h1.1v1.1h-1.1zM421.9 90.2h1.1v1.1h-1.1zM424.0 90.0h1.1v1.1h-1.1zM426.0 90.3h1.1v1.1h-1.1zM430.1 90.2h1.1v1.1h-1.1zM420.5 91.1h1.1v1.1h-1.1zM425.9 93.2h1.1v1.1h-1.1zM432.2 94.5h1.1v1.1h-1.1zM428.0 95.6h1.1v1.1h-1.1z"/>
<path fill="#4a3ca6" d="M409.1 60.9h1.1v1.1h-1.1zM410.1 61.0h1.1v1.1h-1.1zM418.5 62.8h1.1v1.1h-1.1zM413.1 67.0h1.1v1.1h-1.1zM418.6 67.4h1.1v1.1h-1.1zM416.3 69.5h1.1v1.1h-1.1zM419.8 70.1h1.1v1.1h-1.1zM408.1 71.6h1.1v1.1h-1.1zM410.1 71.5h1.1v1.1h-1.1zM411.0 71.1h1.1v1.1h-1.1zM420.6 74.3h1.1v1.1h-1.1zM414.6 76.6h1.1v1.1h-1.1zM421.7 77.8h1.1v1.1h-1.1zM412.1 78.9h1.1v1.1h-1.1zM422.8 78.6h1.1v1.1h-1.1zM423.6 78.7h1.1v1.1h-1.1zM419.7 79.5h1.1v1.1h-1.1zM420.8 79.9h1.1v1.1h-1.1zM423.7 80.9h1.1v1.1h-1.1zM425.9 82.0h1.1v1.1h-1.1zM413.3 83.0h1.1v1.1h-1.1zM421.5 82.7h1.1v1.1h-1.1zM423.7 83.9h1.1v1.1h-1.1zM420.5 87.1h1.1v1.1h-1.1zM427.9 88.2h1.1v1.1h-1.1zM424.9 89.2h1.1v1.1h-1.1zM430.0 89.4h1.1v1.1h-1.1zM428.9 91.5h1.1v1.1h-1.1zM426.9 93.4h1.1v1.1h-1.1zM430.3 94.3h1.1v1.1h-1.1zM433.2 94.5h1.1v1.1h-1.1z"/>
<path fill="#6a1b7a" d="M455.3 36.9h1.1v1.1h-1.1zM456.5 36.8h1.1v1.1h-1.1zM460.7 39.8h1.1v1.1h-1.1zM449.9 46.5h1.1v1.1h-1.1zM453.2 46.2h1.1v1.1h-1.1zM452.4 47.3h1.1v1.1h-1.1zM455.3 50.3h1.1v1.1h-1.1zM443.2 46.3h1.1v1.1h-1.1zM435.7 51.6h1.1v1.1h-1.1zM437.2 51.7h1.1v1.1h-1.1zM450.4 52.5h1.1v1.1h-1.1zM434.0 53.5h1.1v1.1h-1.1zM451.5 53.5h1.1v1.1h-1.1zM432.8 54.5h1.1v1.1h-1.1zM450.7 54.5h1.1v1.1h-1.1zM431.7 60.0h1.1v1.1h-1.1zM431.5 60.8h1.1v1.1h-1.1zM449.5 60.8h1.1v1.1h-1.1zM431.7 63.3h1.1v1.1h-1.1zM431.5 64.1h1.1v1.1h-1.1zM431.9 65.0h1.1v1.1h-1.1zM433.0 65.4h1.1v1.1h-1.1zM437.9 69.5h1.1v1.1h-1.1zM439.1 69.2h1.1v1.1h-1.1zM477.5 37.3h1.1v1.1h-1.1zM479.6 37.2h1.1v1.1h-1.1zM477.1 40.4h1.1v1.1h-1.1zM479.3 42.6h1.1v1.1h-1.1zM479.4 45.7h1.1v1.1h-1.1z"/>
<path fill="#66a61e" d="M452.8 60.4h1.1v1.1h-1.1zM454.2 60.2h1.1v1.1h-1.1zM479.3 61.5h1.1v1.1h-1.1zM466.5 63.5h1.1v1.1h-1.1zM447.9 73.2h1.1v1.1h-1.1zM466.8 73.8h1.1v1.1h-1.1zM479.4 76.0h1.1v1.1h-1.1zM460.3 79.5h1.1v1.1h-1.1zM485.3 89.6h1.1v1.1h-1.1zM486.6 102.6h1.1v1.1h-1.1zM469.3 34.6h1.1v1.1h-1.1zM468.1 35.2h1.1v1.1h-1.1zM469.5 35.4h1.1v1.1h-1.1zM467.3 36.3h1.1v1.1h-1.1zM468.2 36.5h1.1v1.1h-1.1zM469.2 36.6h1.1v1.1h-1.1zM467.3 37.8h1.1v1.1h-1.1zM468.3 37.4h1.1v1.1h-1.1zM469.5 37.7h1.1v1.1h-1.1z"/>
<path fill="#e6ab02" d="M511.6 63.3h1.1v1.1h-1.1zM508.4 66.5h1.1v1.1h-1.1zM516.8 68.8h1.1v1.1h-1.1zM516.7 69.7h1.1v1.1h-1.1zM506.3 70.5h1.1v1.1h-1.1zM506.3 71.7h1.1v1.1h-1.1zM517.0 71.7h1.1v1.1h-1.1zM506.5 73.7h1.1v1.1h-1.1zM517.9 74.1h1.1v1.1h-1.1zM518.0 75.0h1.1v1.1h-1.1zM517.0 79.3h1.1v1.1h-1.1zM516.7 80.1h1.1v1.1h-1.1zM507.6 81.3h1.1v1.1h-1.1zM515.9 83.2h1.1v1.1h-1.1zM508.6 84.2h1.1v1.1h-1.1zM509.8 84.6h1.1v1.1h-1.1zM513.6 87.6h1.1v1.1h-1.1zM456.3 64.1h1.4v1.4h-1.4z"/>
<path fill="#666666" d="M507.4 69.7h1.1v1.1h-1.1zM447.4 100.3h1.1v1.1h-1.1zM454.1 100.4h1.1v1.1h-1.1zM446.4 101.1h1.1v1.1h-1.1zM449.5 101.2h1.1v1.1h-1.1zM452.8 102.5h1.1v1.1h-1.1zM452.0 105.3h1.1v1.1h-1.1zM452.0 109.6h1.1v1.1h-1.1zM447.7 110.8h1.1v1.1h-1.1zM446.6 111.8h1.1v1.1h-1.1zM448.8 112.7h1.1v1.1h-1.1zM453.0 113.0h1.1v1.1h-1.1zM442.2 114.1h1.1v1.1h-1.1zM448.6 114.8h1.1v1.1h-1.1zM444.6 116.9h1.1v1.1h-1.1zM446.7 116.8h1.1v1.1h-1.1zM445.6 119.2h1.1v1.1h-1.1zM452.8 119.0h1.1v1.1h-1.1zM446.7 120.1h1.1v1.1h-1.1zM454.0 120.1h1.1v1.1h-1.1zM448.7 122.1h1.1v1.1h-1.1z"/>
<path fill="#a6761d" d="M446.8 99.1h1.1v1.1h-1.1zM450.8 99.1h1.1v1.1h-1.1zM448.5 100.3h1.1v1.1h-1.1zM449.9 100.3h1.1v1.1h-1.1zM445.4 101.1h1.1v1.1h-1.1zM448.8 101.4h1.1v1.1h-1.1zM451.6 101.2h1.1v1.1h-1.1zM453.1 101.4h1.1v1.1h-1.1zM445.7 102.4h1.1v1.1h-1.1zM446.6 102.5h1.1v1.1h-1.1zM447.6 102.2h1.1v1.1h-1.1zM448.6 102.2h1.1v1.1h-1.1zM450.0 102.2h1.1v1.1h-1.1zM445.5 103.1h1.1v1.1h-1.1zM447.4 103.5h1.1v1.1h-1.1zM448.9 103.2h1.1v1.1h-1.1zM449.9 103.2h1.1v1.1h-1.1zM453.0 103.6h1.1v1.1h-1.1zM445.8 104.5h1.1v1.1h-1.1zM446.5 104.2h1.1v1.1h-1.1zM447.9 104.5h1.1v1.1h-1.1zM448.7 104.4h1.1v1.1h-1.1zM450.8 104.3h1.1v1.1h-1.1zM453.1 104.4h1.1v1.1h-1.1zM453.7 104.6h1.1v1.1h-1.1zM444.5 105.6h1.1v1.1h-1.1zM445.6 105.4h1.1v1.1h-1.1zM448.9 105.4h1.1v1.1h-1.1zM452.8 105.5h1.1v1.1h-1.1zM454.1 105.5h1.1v1.1h-1.1zM444.7 106.3h1.1v1.1h-1.1zM447.6 106.4h1.1v1.1h-1.1zM448.7 106.3h1.1v1.1h-1.1zM449.9 106.4h1.1v1.1h-1.1zM451.7 106.3h1.1v1.1h-1.1zM454.8 106.7h1.1v1.1h-1.1zM444.5 107.7h1.1v1.1h-1.1zM445.4 107.7h1.1v1.1h-1.1zM450.6 107.4h1.1v1.1h-1.1zM451.6 107.5h1.1v1.1h-1.1zM447.8 108.7h1.1v1.1h-1.1zM449.8 109.6h1.1v1.1h-1.1zM453.1 109.5h1.1v1.1h-1.1zM449.7 110.9h1.1v1.1h-1.1zM452.7 110.7h1.1v1.1h-1.1zM444.6 112.0h1.1v1.1h-1.1zM447.4 111.9h1.1v1.1h-1.1zM452.7 111.6h1.1v1.1h-1.1zM449.7 113.0h1.1v1.1h-1.1zM453.7 112.8h1.1v1.1h-1.1zM444.6 113.7h1.1v1.1h-1.1zM447.6 113.8h1.1v1.1h-1.1zM443.3 114.9h1.1v1.1h-1.1zM449.6 114.8h1.1v1.1h-1.1zM450.6 115.0h1.1v1.1h-1.1zM451.8 115.1h1.1v1.1h-1.1zM454.0 115.1h1.1v1.1h-1.1zM448.8 116.1h1.1v1.1h-1.1zM452.7 116.2h1.1v1.1h-1.1zM447.6 116.8h1.1v1.1h-1.1zM448.5 116.8h1.1v1.1h-1.1zM451.8 117.0h1.1v1.1h-1.1zM442.6 118.1h1.1v1.1h-1.1zM445.7 118.1h1.1v1.1h-1.1zM447.6 117.8h1.1v1.1h-1.1zM452.0 118.1h1.1v1.1h-1.1zM451.0 118.9h1.1v1.1h-1.1zM447.5 120.1h1.1v1.1h-1.1zM448.5 120.0h1.1v1.1h-1.1zM451.0 120.2h1.1v1.1h-1.1zM444.7 122.4h1.1v1.1h-1.1zM445.6 122.4h1.1v1.1h-1.1zM446.7 123.4h1.1v1.1h-1.1zM480.5 45.7h1.1v1.1h-1.1zM482.4 45.6h1.1v1.1h-1.1z"/>
<path fill="#8e5045" d="M448.8 99.2h1.1v1.1h-1.1zM450.9 100.2h1.1v1.1h-1.1zM451.0 102.3h1.1v1.1h-1.1zM451.9 102.2h1.1v1.1h-1.1zM446.8 103.5h1.1v1.1h-1.1zM450.7 103.1h1.1v1.1h-1.1zM451.9 104.2h1.1v1.1h-1.1zM448.5 107.5h1.1v1.1h-1.1zM450.8 110.7h1.1v1.1h-1.1zM451.6 110.9h1.1v1.1h-1.1zM448.6 111.8h1.1v1.1h-1.1zM444.4 112.9h1.1v1.1h-1.1zM451.0 113.8h1.1v1.1h-1.1zM455.1 114.0h1.1v1.1h-1.1zM447.5 114.9h1.1v1.1h-1.1zM452.8 114.9h1.1v1.1h-1.1zM447.9 115.8h1.1v1.1h-1.1zM448.5 118.1h1.1v1.1h-1.1zM452.0 120.2h1.1v1.1h-1.1zM446.7 121.2h1.1v1.1h-1.1zM484.5 35.4h1.1v1.1h-1.1zM486.7 35.5h1.1v1.1h-1.1zM489.7 35.3h1.1v1.1h-1.1zM487.7 36.3h1.1v1.1h-1.1zM488.8 36.3h1.1v1.1h-1.1zM486.5 37.6h1.1v1.1h-1.1zM487.8 37.6h1.1v1.1h-1.1zM490.0 37.2h1.1v1.1h-1.1zM486.9 38.6h1.1v1.1h-1.1zM488.0 38.4h1.1v1.1h-1.1zM488.6 38.3h1.1v1.1h-1.1zM489.8 38.2h1.1v1.1h-1.1zM490.7 38.7h1.1v1.1h-1.1zM491.7 38.4h1.1v1.1h-1.1zM487.9 39.7h1.1v1.1h-1.1zM488.6 39.6h1.1v1.1h-1.1zM489.7 39.7h1.1v1.1h-1.1zM491.1 39.5h1.1v1.1h-1.1zM492.0 39.6h1.1v1.1h-1.1zM492.8 39.6h1.1v1.1h-1.1zM493.9 39.4h1.1v1.1h-1.1zM481.6 40.7h1.1v1.1h-1.1zM487.9 40.6h1.1v1.1h-1.1zM488.7 40.4h1.1v1.1h-1.1zM489.9 40.4h1.1v1.1h-1.1zM490.8 40.6h1.1v1.1h-1.1zM491.9 40.5h1.1v1.1h-1.1zM486.6 41.8h1.1v1.1h-1.1zM487.5 41.6h1.1v1.1h-1.1zM489.0 41.7h1.1v1.1h-1.1zM489.6 41.6h1.1v1.1h-1.1zM491.1 41.6h1.1v1.1h-1.1zM492.1 41.8h1.1v1.1h-1.1zM483.5 42.6h1.1v1.1h-1.1zM486.5 42.5h1.1v1.1h-1.1zM487.5 42.6h1.1v1.1h-1.1zM488.6 42.6h1.1v1.1h-1.1zM492.0 42.4h1.1v1.1h-1.1zM486.6 43.9h1.1v1.1h-1.1zM488.6 43.7h1.1v1.1h-1.1zM489.6 43.9h1.1v1.1h-1.1zM490.9 43.5h1.1v1.1h-1.1zM492.1 43.8h1.1v1.1h-1.1zM486.5 44.7h1.1v1.1h-1.1zM487.5 44.8h1.1v1.1h-1.1zM489.9 44.6h1.1v1.1h-1.1zM491.0 45.0h1.1v1.1h-1.1zM488.8 45.9h1.1v1.1h-1.1zM486.6 46.6h1.1v1.1h-1.1z"/>
<path fill="#1f78b4" d="M470.4 38.4h1.1v1.1h-1.1zM469.6 39.9h1.1v1.1h-1.1zM472.5 39.5h1.1v1.1h-1.1zM469.2 41.9h1.1v1.1h-1.1zM466.2 42.7h1.1v1.1h-1.1zM471.4 44.1h1.1v1.1h-1.1zM466.0 45.0h1.1v1.1h-1.1zM471.5 45.8h1.1v1.1h-1.1zM471.7 48.0h1.1v1.1h-1.1z"/>
<path d="M496.0,57.8 L500.6,53.3" stroke="#e7298a" stroke-width="1.4" stroke-linecap="round"/>
<path d="M496.0,57.8 L497.8,56" stroke="#555" stroke-width="1.4" stroke-linecap="round"/>
<polygon fill="#bebebe" points="601.3,15.4 604.9,14.6 608.5,14.8 611.5,16.6 612.7,19.0 614.5,22.0 615.7,25.6 616.9,29.2 618.1,32.8 619.3,35.8 620.0,38.0 616.5,40.0 613.5,41.0 610.9,42.2 606.5,42.4 601.3,42.4 597.7,43.6 595.3,46.0 590.5,46.0 587.5,48.4 586.9,51.4 584.5,53.2 582.3,56.0 581.3,59.0 581.0,63.0 581.8,68.8 584.6,74.5 587.5,80.3 591.1,86.0 594.7,90.4 595.4,95.4 591.8,96.8 586.1,94.7 580.3,90.4 576.0,86.0 573.1,81.7 570.3,74.5 569.5,65.9 570.1,58.0 573.7,54.4 576.1,50.8 577.3,48.4 577.9,46.0 580.3,44.8 582.1,40.6 583.3,37.0 586.3,35.2 589.9,32.8 592.3,29.2 596.5,25.6 598.9,22.0 600.7,19.6"/>
<polygon fill="#bebebe" points="612.5,41.0 615.5,39.0 619.3,35.8 621.7,38.2 622.9,42.4 621.7,46.0 620.5,49.6 619.3,52.0 616.9,53.2 614.5,51.4 612.7,48.4 611.5,44.8"/>
<polygon fill="#bebebe" points="603.8,49.2 605.7,47.3 608.1,49.2 610.5,52.1 612.4,54.0 613.4,57.8 611.5,60.7 608.6,63.6 605.0,67.5 600.9,69.2 597.1,68.5 594.5,65.0 594.2,59.7 595.1,55.9 598.0,53.0 600.9,51.6 602.8,50.1"/>
<polygon fill="#bebebe" points="611.6,62.2 615.9,59.3 623.1,57.9 630.3,57.2 637.5,58.6 641.8,62.2 645.5,65.8 651.0,71.6 656.1,77.3 656.8,81.7 654.5,86.0 653.9,88.5 655.4,93.2 653.2,99.0 649.6,103.3 643.8,106.8 636.6,107.0 632.5,105.0 630.5,100.0 630.2,97.5 630.9,93.2 628.8,89.5 624.5,87.4 620.2,85.2 615.9,83.0 610.1,80.9 604.4,80.2 602.9,77.3 605.8,74.4 610.1,70.8 611.6,66.5"/>
<polygon fill="#bebebe" points="673.1,64.4 675.5,65.0 677.9,68.0 678.5,71.6 679.7,75.2 678.5,78.8 677.3,82.4 676.7,86.0 674.9,88.4 672.5,86.6 670.7,82.4 668.9,78.8 668.9,74.0 669.5,69.8 671.3,66.2"/>
<polygon fill="#9b30f0" points="607.8,100.1 611.6,99.1 615.0,100.6 615.5,104.4 616.0,109.2 616.4,114.9 615.0,120.7 611.6,123.6 607.8,124.1 605.4,119.7 604.9,114.9 605.9,109.2 606.8,104.4"/>
<polygon fill="#bebebe" points="623.5,38.6 629.0,38.3 629.8,35.6 632.1,35.4 632.6,38.4 633.7,40.0 635.0,43.0 635.0,47.0 634.0,50.0 631.0,50.5 628.5,49.5 627.7,46.5 628.0,43.5 626.5,41.6 623.5,41.6"/>
<polygon fill="#bebebe" points="634.5,46.5 637.5,45.5 640.0,47.0 640.3,50.0 638.5,52.5 635.5,52.8 633.8,50.5"/>
<polygon fill="#ff00ff" points="639.0,38.0 641.0,37.0 643.0,37.5 644.5,36.5 647.0,36.3 649.0,37.0 651.0,36.6 653.5,37.5 655.1,40.0 654.5,43.5 652.0,45.5 648.5,46.0 645.5,45.5 642.5,46.0 640.0,45.0 638.7,42.0"/>
<path fill="#bebebe" d="M603.0 13.6h1.1v1.1h-1.1zM606.1 13.8h1.1v1.1h-1.1zM607.2 13.8h1.1v1.1h-1.1zM608.3 13.7h1.1v1.1h-1.1zM601.1 14.5h1.1v1.1h-1.1zM600.2 15.7h1.1v1.1h-1.1zM612.4 17.9h1.1v1.1h-1.1zM613.5 18.7h1.1v1.1h-1.1zM616.9 28.5h1.1v1.1h-1.1zM590.4 29.4h1.1v1.1h-1.1zM617.8 29.6h1.1v1.1h-1.1zM589.6 31.4h1.1v1.1h-1.1zM617.8 32.6h1.1v1.1h-1.1zM581.1 40.9h1.1v1.1h-1.1zM609.6 42.2h1.1v1.1h-1.1zM600.0 42.8h1.1v1.1h-1.1zM578.8 44.0h1.1v1.1h-1.1zM596.0 44.3h1.1v1.1h-1.1zM581.3 57.9h1.1v1.1h-1.1zM568.7 59.0h1.1v1.1h-1.1zM568.3 66.3h1.1v1.1h-1.1zM568.3 70.4h1.1v1.1h-1.1zM568.4 71.6h1.1v1.1h-1.1zM569.4 71.3h1.1v1.1h-1.1zM585.2 74.7h1.1v1.1h-1.1zM570.7 76.7h1.1v1.1h-1.1zM570.7 77.5h1.1v1.1h-1.1zM571.4 80.7h1.1v1.1h-1.1zM588.2 81.6h1.1v1.1h-1.1zM589.7 82.8h1.1v1.1h-1.1zM575.8 86.3h1.1v1.1h-1.1zM591.4 86.1h1.1v1.1h-1.1zM594.5 90.0h1.1v1.1h-1.1zM584.1 93.6h1.1v1.1h-1.1zM595.8 94.4h1.1v1.1h-1.1zM590.8 96.4h1.1v1.1h-1.1zM619.9 36.0h1.1v1.1h-1.1zM614.8 38.2h1.1v1.1h-1.1zM612.7 39.0h1.1v1.1h-1.1zM619.8 49.6h1.1v1.1h-1.1zM613.7 51.5h1.1v1.1h-1.1zM605.8 47.3h1.1v1.1h-1.1zM607.0 47.4h1.1v1.1h-1.1zM601.4 49.2h1.1v1.1h-1.1zM610.0 50.5h1.1v1.1h-1.1zM597.4 51.4h1.1v1.1h-1.1zM613.1 54.8h1.1v1.1h-1.1zM594.2 56.7h1.1v1.1h-1.1zM593.2 57.8h1.1v1.1h-1.1zM593.2 58.8h1.1v1.1h-1.1zM611.9 60.1h1.1v1.1h-1.1zM593.4 61.8h1.1v1.1h-1.1zM593.2 63.2h1.1v1.1h-1.1zM594.3 65.2h1.1v1.1h-1.1zM595.4 67.1h1.1v1.1h-1.1zM603.8 67.5h1.1v1.1h-1.1zM596.2 68.5h1.1v1.1h-1.1zM602.5 68.5h1.1v1.1h-1.1zM597.2 69.3h1.1v1.1h-1.1zM599.7 69.2h1.1v1.1h-1.1zM624.1 56.4h1.1v1.1h-1.1zM620.6 57.4h1.1v1.1h-1.1zM622.1 57.1h1.1v1.1h-1.1zM616.7 58.4h1.1v1.1h-1.1zM613.3 59.4h1.1v1.1h-1.1zM611.2 60.4h1.1v1.1h-1.1zM643.7 63.5h1.1v1.1h-1.1zM610.5 64.8h1.1v1.1h-1.1zM610.2 65.7h1.1v1.1h-1.1zM646.2 65.6h1.1v1.1h-1.1zM646.8 66.5h1.1v1.1h-1.1zM609.5 68.7h1.1v1.1h-1.1zM607.3 71.1h1.1v1.1h-1.1zM608.3 70.9h1.1v1.1h-1.1zM607.3 71.9h1.1v1.1h-1.1zM655.6 77.2h1.1v1.1h-1.1zM656.3 77.2h1.1v1.1h-1.1zM602.9 78.1h1.1v1.1h-1.1zM603.8 80.4h1.1v1.1h-1.1zM608.0 80.3h1.1v1.1h-1.1zM609.1 81.4h1.1v1.1h-1.1zM611.3 81.5h1.1v1.1h-1.1zM612.3 81.4h1.1v1.1h-1.1zM615.8 83.7h1.1v1.1h-1.1zM654.4 87.5h1.1v1.1h-1.1zM654.4 91.0h1.1v1.1h-1.1zM655.5 93.8h1.1v1.1h-1.1zM629.0 96.3h1.1v1.1h-1.1zM653.4 97.3h1.1v1.1h-1.1zM654.2 97.0h1.1v1.1h-1.1zM652.3 99.3h1.1v1.1h-1.1zM630.5 102.4h1.1v1.1h-1.1zM631.5 103.5h1.1v1.1h-1.1zM647.0 104.7h1.1v1.1h-1.1zM646.1 105.7h1.1v1.1h-1.1zM634.7 106.4h1.1v1.1h-1.1zM635.4 106.8h1.1v1.1h-1.1zM636.7 106.5h1.1v1.1h-1.1zM640.6 106.8h1.1v1.1h-1.1zM641.7 106.7h1.1v1.1h-1.1zM673.0 63.6h1.1v1.1h-1.1zM678.3 67.8h1.1v1.1h-1.1zM667.8 69.5h1.1v1.1h-1.1zM678.2 71.8h1.1v1.1h-1.1zM679.5 73.0h1.1v1.1h-1.1zM667.9 73.8h1.1v1.1h-1.1zM667.7 74.7h1.1v1.1h-1.1zM679.5 75.2h1.1v1.1h-1.1zM667.8 75.8h1.1v1.1h-1.1zM678.5 78.3h1.1v1.1h-1.1zM678.5 80.2h1.1v1.1h-1.1zM669.0 81.3h1.1v1.1h-1.1zM677.2 82.1h1.1v1.1h-1.1zM677.1 85.6h1.1v1.1h-1.1zM671.2 86.4h1.1v1.1h-1.1zM612.4 120.1h1.1v1.1h-1.1zM610.1 121.3h1.1v1.1h-1.1zM612.5 121.4h1.1v1.1h-1.1zM631.9 35.6h1.1v1.1h-1.1zM623.8 37.8h1.1v1.1h-1.1zM633.1 38.4h1.1v1.1h-1.1zM622.4 40.5h1.1v1.1h-1.1zM635.3 41.7h1.1v1.1h-1.1zM636.9 44.4h1.1v1.1h-1.1zM639.2 45.4h1.1v1.1h-1.1zM633.8 50.9h1.1v1.1h-1.1zM636.0 52.9h1.1v1.1h-1.1zM646.3 35.1h1.1v1.1h-1.1zM648.3 35.3h1.1v1.1h-1.1zM643.8 36.3h1.1v1.1h-1.1zM645.0 36.5h1.1v1.1h-1.1zM647.3 36.6h1.1v1.1h-1.1zM641.0 37.6h1.1v1.1h-1.1zM643.8 37.5h1.1v1.1h-1.1zM651.6 37.2h1.1v1.1h-1.1zM653.6 37.2h1.1v1.1h-1.1zM640.6 38.3h1.1v1.1h-1.1zM641.7 38.5h1.1v1.1h-1.1zM642.8 38.6h1.1v1.1h-1.1zM644.0 38.4h1.1v1.1h-1.1zM649.5 38.4h1.1v1.1h-1.1zM651.4 38.4h1.1v1.1h-1.1zM638.7 39.3h1.1v1.1h-1.1zM642.1 39.3h1.1v1.1h-1.1zM644.2 39.4h1.1v1.1h-1.1zM645.2 39.7h1.1v1.1h-1.1zM652.3 39.6h1.1v1.1h-1.1zM638.8 40.3h1.1v1.1h-1.1zM639.7 40.4h1.1v1.1h-1.1zM640.8 40.5h1.1v1.1h-1.1zM643.0 40.5h1.1v1.1h-1.1zM643.9 40.7h1.1v1.1h-1.1zM653.7 40.6h1.1v1.1h-1.1zM638.7 41.5h1.1v1.1h-1.1zM642.0 41.7h1.1v1.1h-1.1zM643.1 41.5h1.1v1.1h-1.1zM643.8 41.7h1.1v1.1h-1.1zM648.3 41.5h1.1v1.1h-1.1zM637.8 42.8h1.1v1.1h-1.1zM638.8 42.8h1.1v1.1h-1.1zM645.0 42.8h1.1v1.1h-1.1zM646.2 42.8h1.1v1.1h-1.1zM648.0 42.5h1.1v1.1h-1.1zM651.6 42.7h1.1v1.1h-1.1zM652.2 42.4h1.1v1.1h-1.1zM638.6 43.6h1.1v1.1h-1.1zM640.0 43.5h1.1v1.1h-1.1zM643.8 43.7h1.1v1.1h-1.1zM645.9 43.5h1.1v1.1h-1.1zM646.9 43.8h1.1v1.1h-1.1zM648.1 43.7h1.1v1.1h-1.1zM649.1 43.9h1.1v1.1h-1.1zM651.6 43.5h1.1v1.1h-1.1zM641.0 44.8h1.1v1.1h-1.1zM642.1 44.5h1.1v1.1h-1.1zM646.2 44.6h1.1v1.1h-1.1zM642.8 45.6h1.1v1.1h-1.1zM645.3 45.7h1.1v1.1h-1.1z"/>
<path fill="#9b30f0" d="M604.2 13.8h1.1v1.1h-1.1zM608.5 14.7h1.1v1.1h-1.1zM607.2 16.5h1.1v1.1h-1.1zM609.3 17.7h1.1v1.1h-1.1zM610.6 17.6h1.1v1.1h-1.1zM601.3 19.0h1.1v1.1h-1.1zM609.7 19.0h1.1v1.1h-1.1zM602.3 20.0h1.1v1.1h-1.1zM603.3 19.9h1.1v1.1h-1.1zM606.2 19.7h1.1v1.1h-1.1zM607.3 19.7h1.1v1.1h-1.1zM608.3 19.8h1.1v1.1h-1.1zM598.8 21.1h1.1v1.1h-1.1zM605.0 20.8h1.1v1.1h-1.1zM606.2 20.9h1.1v1.1h-1.1zM609.4 20.9h1.1v1.1h-1.1zM598.8 21.8h1.1v1.1h-1.1zM611.3 22.1h1.1v1.1h-1.1zM613.8 22.0h1.1v1.1h-1.1zM597.9 22.9h1.1v1.1h-1.1zM600.0 23.2h1.1v1.1h-1.1zM604.3 22.8h1.1v1.1h-1.1zM608.4 23.1h1.1v1.1h-1.1zM599.2 24.0h1.1v1.1h-1.1zM605.5 24.1h1.1v1.1h-1.1zM609.7 24.0h1.1v1.1h-1.1zM612.5 24.3h1.1v1.1h-1.1zM615.7 24.0h1.1v1.1h-1.1zM595.8 25.1h1.1v1.1h-1.1zM597.0 25.0h1.1v1.1h-1.1zM599.1 24.9h1.1v1.1h-1.1zM601.1 25.1h1.1v1.1h-1.1zM601.9 25.2h1.1v1.1h-1.1zM603.2 24.9h1.1v1.1h-1.1zM612.6 25.3h1.1v1.1h-1.1zM614.7 25.0h1.1v1.1h-1.1zM595.9 26.2h1.1v1.1h-1.1zM597.7 26.2h1.1v1.1h-1.1zM599.0 26.3h1.1v1.1h-1.1zM602.1 26.4h1.1v1.1h-1.1zM604.2 26.1h1.1v1.1h-1.1zM605.2 26.3h1.1v1.1h-1.1zM606.1 26.2h1.1v1.1h-1.1zM613.6 26.3h1.1v1.1h-1.1zM614.9 26.4h1.1v1.1h-1.1zM593.9 27.3h1.1v1.1h-1.1zM596.9 27.3h1.1v1.1h-1.1zM599.2 27.1h1.1v1.1h-1.1zM605.1 27.2h1.1v1.1h-1.1zM606.2 27.3h1.1v1.1h-1.1zM608.3 27.3h1.1v1.1h-1.1zM609.2 27.2h1.1v1.1h-1.1zM611.6 27.0h1.1v1.1h-1.1zM594.7 28.4h1.1v1.1h-1.1zM613.5 28.5h1.1v1.1h-1.1zM594.9 29.3h1.1v1.1h-1.1zM598.1 29.4h1.1v1.1h-1.1zM599.8 29.5h1.1v1.1h-1.1zM602.2 29.4h1.1v1.1h-1.1zM607.3 29.4h1.1v1.1h-1.1zM615.9 29.3h1.1v1.1h-1.1zM593.9 30.2h1.1v1.1h-1.1zM594.7 30.2h1.1v1.1h-1.1zM596.6 30.4h1.1v1.1h-1.1zM598.7 30.3h1.1v1.1h-1.1zM603.1 30.4h1.1v1.1h-1.1zM606.1 30.6h1.1v1.1h-1.1zM609.2 30.4h1.1v1.1h-1.1zM613.6 30.6h1.1v1.1h-1.1zM616.7 30.6h1.1v1.1h-1.1zM591.8 31.5h1.1v1.1h-1.1zM592.6 31.6h1.1v1.1h-1.1zM605.3 31.6h1.1v1.1h-1.1zM592.4 32.5h1.1v1.1h-1.1zM594.6 32.3h1.1v1.1h-1.1zM599.0 32.6h1.1v1.1h-1.1zM602.1 32.7h1.1v1.1h-1.1zM603.4 32.6h1.1v1.1h-1.1zM592.8 33.7h1.1v1.1h-1.1zM601.1 33.4h1.1v1.1h-1.1zM605.2 33.6h1.1v1.1h-1.1zM593.5 34.6h1.1v1.1h-1.1zM595.0 34.8h1.1v1.1h-1.1zM596.6 34.7h1.1v1.1h-1.1zM611.7 34.5h1.1v1.1h-1.1zM614.9 34.4h1.1v1.1h-1.1zM616.9 34.4h1.1v1.1h-1.1zM592.5 35.5h1.1v1.1h-1.1zM615.8 35.7h1.1v1.1h-1.1zM592.5 36.8h1.1v1.1h-1.1zM596.0 36.8h1.1v1.1h-1.1zM601.0 36.9h1.1v1.1h-1.1zM612.6 36.9h1.1v1.1h-1.1zM615.7 36.8h1.1v1.1h-1.1zM616.8 36.5h1.1v1.1h-1.1zM604.0 37.6h1.1v1.1h-1.1zM607.6 37.7h1.1v1.1h-1.1zM605.3 39.0h1.1v1.1h-1.1zM609.4 38.9h1.1v1.1h-1.1zM584.2 39.9h1.1v1.1h-1.1zM592.8 40.1h1.1v1.1h-1.1zM600.8 39.6h1.1v1.1h-1.1zM611.7 39.6h1.1v1.1h-1.1zM614.6 39.9h1.1v1.1h-1.1zM598.1 41.0h1.1v1.1h-1.1zM599.9 40.7h1.1v1.1h-1.1zM600.8 40.8h1.1v1.1h-1.1zM607.5 41.1h1.1v1.1h-1.1zM591.6 42.2h1.1v1.1h-1.1zM597.1 42.2h1.1v1.1h-1.1zM606.4 41.8h1.1v1.1h-1.1zM608.4 41.9h1.1v1.1h-1.1zM590.8 42.9h1.1v1.1h-1.1zM586.5 45.0h1.1v1.1h-1.1zM576.8 48.2h1.1v1.1h-1.1zM581.2 49.5h1.1v1.1h-1.1zM579.9 50.4h1.1v1.1h-1.1zM581.2 50.4h1.1v1.1h-1.1zM574.8 51.5h1.1v1.1h-1.1zM576.0 51.5h1.1v1.1h-1.1zM578.0 52.4h1.1v1.1h-1.1zM583.3 52.6h1.1v1.1h-1.1zM573.8 53.5h1.1v1.1h-1.1zM577.1 53.4h1.1v1.1h-1.1zM577.0 56.5h1.1v1.1h-1.1zM581.3 56.4h1.1v1.1h-1.1zM580.9 58.9h1.1v1.1h-1.1zM571.9 61.8h1.1v1.1h-1.1zM571.8 63.0h1.1v1.1h-1.1zM580.1 62.9h1.1v1.1h-1.1zM570.6 64.0h1.1v1.1h-1.1zM579.9 67.1h1.1v1.1h-1.1zM575.6 70.1h1.1v1.1h-1.1zM583.0 73.3h1.1v1.1h-1.1zM570.8 75.3h1.1v1.1h-1.1zM582.3 79.6h1.1v1.1h-1.1zM584.2 80.6h1.1v1.1h-1.1zM582.0 81.7h1.1v1.1h-1.1zM582.1 82.9h1.1v1.1h-1.1zM580.9 88.0h1.1v1.1h-1.1zM587.2 92.2h1.1v1.1h-1.1zM591.4 95.3h1.1v1.1h-1.1zM617.8 36.7h1.1v1.1h-1.1zM617.0 38.1h1.1v1.1h-1.1zM618.0 37.8h1.1v1.1h-1.1zM620.2 38.8h1.1v1.1h-1.1zM613.6 40.1h1.1v1.1h-1.1zM615.8 40.9h1.1v1.1h-1.1zM616.7 41.2h1.1v1.1h-1.1zM611.5 42.4h1.1v1.1h-1.1zM610.7 43.2h1.1v1.1h-1.1zM619.0 43.0h1.1v1.1h-1.1zM616.9 44.2h1.1v1.1h-1.1zM611.3 47.3h1.1v1.1h-1.1zM614.7 48.3h1.1v1.1h-1.1zM615.9 52.7h1.1v1.1h-1.1zM618.7 52.6h1.1v1.1h-1.1zM606.7 52.6h1.1v1.1h-1.1zM601.4 57.0h1.1v1.1h-1.1zM609.8 57.6h1.1v1.1h-1.1zM593.2 61.1h1.1v1.1h-1.1zM604.6 61.1h1.1v1.1h-1.1zM602.8 63.1h1.1v1.1h-1.1zM604.6 67.5h1.1v1.1h-1.1zM632.5 57.3h1.1v1.1h-1.1zM624.1 58.2h1.1v1.1h-1.1zM631.4 58.2h1.1v1.1h-1.1zM634.4 58.3h1.1v1.1h-1.1zM626.1 59.4h1.1v1.1h-1.1zM631.1 59.1h1.1v1.1h-1.1zM613.7 61.4h1.1v1.1h-1.1zM618.7 62.5h1.1v1.1h-1.1zM620.7 62.6h1.1v1.1h-1.1zM621.8 64.5h1.1v1.1h-1.1zM630.5 64.7h1.1v1.1h-1.1zM633.2 65.7h1.1v1.1h-1.1zM623.8 66.9h1.1v1.1h-1.1zM631.5 66.8h1.1v1.1h-1.1zM619.6 68.6h1.1v1.1h-1.1zM624.8 68.8h1.1v1.1h-1.1zM631.2 68.9h1.1v1.1h-1.1zM610.2 69.7h1.1v1.1h-1.1zM613.6 69.7h1.1v1.1h-1.1zM636.6 69.7h1.1v1.1h-1.1zM637.6 69.7h1.1v1.1h-1.1zM618.7 70.9h1.1v1.1h-1.1zM634.3 70.7h1.1v1.1h-1.1zM638.4 71.1h1.1v1.1h-1.1zM616.4 72.1h1.1v1.1h-1.1zM626.2 72.1h1.1v1.1h-1.1zM637.5 72.1h1.1v1.1h-1.1zM614.7 74.3h1.1v1.1h-1.1zM615.4 73.9h1.1v1.1h-1.1zM617.5 75.1h1.1v1.1h-1.1zM612.4 76.4h1.1v1.1h-1.1zM615.6 76.4h1.1v1.1h-1.1zM633.3 76.2h1.1v1.1h-1.1zM616.8 78.3h1.1v1.1h-1.1zM627.1 78.4h1.1v1.1h-1.1zM632.5 78.4h1.1v1.1h-1.1zM634.5 78.4h1.1v1.1h-1.1zM611.3 79.4h1.1v1.1h-1.1zM618.9 79.5h1.1v1.1h-1.1zM627.2 79.1h1.1v1.1h-1.1zM631.1 79.3h1.1v1.1h-1.1zM618.7 80.2h1.1v1.1h-1.1zM625.0 80.5h1.1v1.1h-1.1zM637.8 80.2h1.1v1.1h-1.1zM624.0 81.6h1.1v1.1h-1.1zM620.6 82.4h1.1v1.1h-1.1zM623.1 82.4h1.1v1.1h-1.1zM630.1 82.6h1.1v1.1h-1.1zM632.6 82.2h1.1v1.1h-1.1zM638.5 82.2h1.1v1.1h-1.1zM631.2 83.5h1.1v1.1h-1.1zM625.1 84.3h1.1v1.1h-1.1zM624.8 86.8h1.1v1.1h-1.1zM630.2 87.6h1.1v1.1h-1.1zM638.5 87.8h1.1v1.1h-1.1zM643.8 87.6h1.1v1.1h-1.1zM651.1 87.9h1.1v1.1h-1.1zM653.3 87.7h1.1v1.1h-1.1zM631.5 88.8h1.1v1.1h-1.1zM641.8 88.7h1.1v1.1h-1.1zM633.4 89.8h1.1v1.1h-1.1zM632.4 91.0h1.1v1.1h-1.1zM635.4 90.7h1.1v1.1h-1.1zM645.1 90.8h1.1v1.1h-1.1zM631.3 91.9h1.1v1.1h-1.1zM647.1 93.0h1.1v1.1h-1.1zM647.0 94.2h1.1v1.1h-1.1zM652.4 94.2h1.1v1.1h-1.1zM632.1 95.1h1.1v1.1h-1.1zM644.1 96.1h1.1v1.1h-1.1zM646.8 97.1h1.1v1.1h-1.1zM633.4 98.3h1.1v1.1h-1.1zM651.2 98.0h1.1v1.1h-1.1zM632.1 99.1h1.1v1.1h-1.1zM640.7 99.2h1.1v1.1h-1.1zM631.5 100.1h1.1v1.1h-1.1zM643.7 100.4h1.1v1.1h-1.1zM644.9 100.5h1.1v1.1h-1.1zM639.8 101.3h1.1v1.1h-1.1zM650.2 101.1h1.1v1.1h-1.1zM632.5 102.4h1.1v1.1h-1.1zM639.6 102.3h1.1v1.1h-1.1zM641.7 102.4h1.1v1.1h-1.1zM642.0 103.3h1.1v1.1h-1.1zM639.8 104.7h1.1v1.1h-1.1zM635.3 105.4h1.1v1.1h-1.1zM638.8 106.7h1.1v1.1h-1.1zM672.3 67.8h1.1v1.1h-1.1zM671.2 68.8h1.1v1.1h-1.1zM671.1 69.6h1.1v1.1h-1.1zM676.1 72.7h1.1v1.1h-1.1zM671.0 74.1h1.1v1.1h-1.1zM674.4 73.9h1.1v1.1h-1.1zM670.8 75.1h1.1v1.1h-1.1zM676.3 77.1h1.1v1.1h-1.1zM673.1 81.1h1.1v1.1h-1.1zM673.4 85.2h1.1v1.1h-1.1zM676.5 86.5h1.1v1.1h-1.1zM673.3 87.7h1.1v1.1h-1.1zM674.2 87.7h1.1v1.1h-1.1zM609.4 97.9h1.1v1.1h-1.1zM612.5 98.9h1.1v1.1h-1.1zM615.5 101.3h1.1v1.1h-1.1zM615.3 102.2h1.1v1.1h-1.1zM615.7 104.6h1.1v1.1h-1.1zM615.7 106.7h1.1v1.1h-1.1zM616.3 109.4h1.1v1.1h-1.1zM616.7 111.9h1.1v1.1h-1.1zM616.3 113.7h1.1v1.1h-1.1zM616.3 115.0h1.1v1.1h-1.1zM603.7 116.8h1.1v1.1h-1.1zM603.9 118.1h1.1v1.1h-1.1zM613.6 121.3h1.1v1.1h-1.1zM606.2 122.2h1.1v1.1h-1.1zM613.2 122.4h1.1v1.1h-1.1zM611.3 123.4h1.1v1.1h-1.1zM625.7 37.3h1.1v1.1h-1.1zM626.5 37.3h1.1v1.1h-1.1zM626.5 39.8h1.1v1.1h-1.1zM625.8 40.7h1.1v1.1h-1.1zM626.5 41.7h1.1v1.1h-1.1zM627.7 42.0h1.1v1.1h-1.1zM632.1 41.5h1.1v1.1h-1.1zM633.2 44.0h1.1v1.1h-1.1zM631.0 49.0h1.1v1.1h-1.1zM629.9 50.2h1.1v1.1h-1.1zM633.1 50.4h1.1v1.1h-1.1zM639.9 39.6h1.1v1.1h-1.1zM640.8 39.4h1.1v1.1h-1.1zM641.9 40.3h1.1v1.1h-1.1zM637.6 41.7h1.1v1.1h-1.1zM639.6 42.8h1.1v1.1h-1.1zM641.1 42.5h1.1v1.1h-1.1zM641.9 43.9h1.1v1.1h-1.1zM614.3 83.8h1.4v1.4h-1.4z"/>
<path fill="#ff00ff" d="M606.3 14.7h1.1v1.1h-1.1zM600.9 16.8h1.1v1.1h-1.1zM602.2 16.9h1.1v1.1h-1.1zM609.5 16.9h1.1v1.1h-1.1zM605.2 17.6h1.1v1.1h-1.1zM606.5 17.6h1.1v1.1h-1.1zM604.3 18.9h1.1v1.1h-1.1zM605.2 18.8h1.1v1.1h-1.1zM606.1 19.0h1.1v1.1h-1.1zM607.3 18.6h1.1v1.1h-1.1zM611.4 18.6h1.1v1.1h-1.1zM604.0 20.0h1.1v1.1h-1.1zM605.2 19.7h1.1v1.1h-1.1zM610.7 19.8h1.1v1.1h-1.1zM602.2 20.9h1.1v1.1h-1.1zM608.2 20.8h1.1v1.1h-1.1zM599.8 22.0h1.1v1.1h-1.1zM606.3 22.0h1.1v1.1h-1.1zM608.2 22.1h1.1v1.1h-1.1zM599.1 23.0h1.1v1.1h-1.1zM601.0 23.1h1.1v1.1h-1.1zM603.1 23.2h1.1v1.1h-1.1zM612.5 23.0h1.1v1.1h-1.1zM613.9 23.0h1.1v1.1h-1.1zM597.1 24.3h1.1v1.1h-1.1zM601.2 24.3h1.1v1.1h-1.1zM604.0 24.3h1.1v1.1h-1.1zM606.3 24.1h1.1v1.1h-1.1zM599.9 25.1h1.1v1.1h-1.1zM609.5 25.4h1.1v1.1h-1.1zM615.6 25.2h1.1v1.1h-1.1zM596.6 26.1h1.1v1.1h-1.1zM600.2 26.1h1.1v1.1h-1.1zM603.1 26.3h1.1v1.1h-1.1zM608.2 26.1h1.1v1.1h-1.1zM609.7 26.2h1.1v1.1h-1.1zM594.7 27.3h1.1v1.1h-1.1zM610.7 27.2h1.1v1.1h-1.1zM592.7 28.1h1.1v1.1h-1.1zM593.6 28.3h1.1v1.1h-1.1zM595.7 28.4h1.1v1.1h-1.1zM596.6 28.1h1.1v1.1h-1.1zM601.1 28.3h1.1v1.1h-1.1zM606.1 28.2h1.1v1.1h-1.1zM607.4 28.3h1.1v1.1h-1.1zM608.4 28.2h1.1v1.1h-1.1zM610.3 28.5h1.1v1.1h-1.1zM611.6 28.1h1.1v1.1h-1.1zM591.7 29.2h1.1v1.1h-1.1zM592.6 29.4h1.1v1.1h-1.1zM595.6 29.4h1.1v1.1h-1.1zM597.1 29.2h1.1v1.1h-1.1zM604.4 29.3h1.1v1.1h-1.1zM606.4 29.5h1.1v1.1h-1.1zM608.6 29.3h1.1v1.1h-1.1zM609.6 29.3h1.1v1.1h-1.1zM610.3 29.2h1.1v1.1h-1.1zM611.4 29.4h1.1v1.1h-1.1zM591.8 30.3h1.1v1.1h-1.1zM597.7 30.6h1.1v1.1h-1.1zM604.4 30.5h1.1v1.1h-1.1zM605.1 30.2h1.1v1.1h-1.1zM607.5 30.3h1.1v1.1h-1.1zM610.5 30.5h1.1v1.1h-1.1zM611.7 30.3h1.1v1.1h-1.1zM615.6 30.3h1.1v1.1h-1.1zM594.8 31.4h1.1v1.1h-1.1zM595.6 31.2h1.1v1.1h-1.1zM597.8 31.3h1.1v1.1h-1.1zM600.2 31.3h1.1v1.1h-1.1zM600.9 31.4h1.1v1.1h-1.1zM604.4 31.4h1.1v1.1h-1.1zM609.5 31.3h1.1v1.1h-1.1zM610.4 31.4h1.1v1.1h-1.1zM616.8 31.6h1.1v1.1h-1.1zM617.9 31.2h1.1v1.1h-1.1zM588.5 32.7h1.1v1.1h-1.1zM591.6 32.4h1.1v1.1h-1.1zM593.5 32.7h1.1v1.1h-1.1zM595.6 32.3h1.1v1.1h-1.1zM605.3 32.7h1.1v1.1h-1.1zM606.5 32.4h1.1v1.1h-1.1zM609.6 32.6h1.1v1.1h-1.1zM616.6 32.7h1.1v1.1h-1.1zM588.3 33.6h1.1v1.1h-1.1zM589.4 33.5h1.1v1.1h-1.1zM593.7 33.5h1.1v1.1h-1.1zM598.9 33.4h1.1v1.1h-1.1zM604.1 33.8h1.1v1.1h-1.1zM607.2 33.5h1.1v1.1h-1.1zM612.5 33.6h1.1v1.1h-1.1zM585.5 34.6h1.1v1.1h-1.1zM587.3 34.6h1.1v1.1h-1.1zM590.7 34.5h1.1v1.1h-1.1zM591.8 34.6h1.1v1.1h-1.1zM592.5 34.6h1.1v1.1h-1.1zM599.8 34.6h1.1v1.1h-1.1zM601.2 34.8h1.1v1.1h-1.1zM604.3 34.6h1.1v1.1h-1.1zM606.3 34.6h1.1v1.1h-1.1zM607.1 34.4h1.1v1.1h-1.1zM609.5 34.6h1.1v1.1h-1.1zM613.7 34.8h1.1v1.1h-1.1zM615.5 34.7h1.1v1.1h-1.1zM617.9 34.4h1.1v1.1h-1.1zM584.1 35.6h1.1v1.1h-1.1zM585.5 35.9h1.1v1.1h-1.1zM586.3 35.5h1.1v1.1h-1.1zM594.6 35.4h1.1v1.1h-1.1zM595.7 35.4h1.1v1.1h-1.1zM599.1 35.8h1.1v1.1h-1.1zM605.4 35.4h1.1v1.1h-1.1zM611.8 35.6h1.1v1.1h-1.1zM614.6 35.5h1.1v1.1h-1.1zM617.7 35.6h1.1v1.1h-1.1zM619.7 35.8h1.1v1.1h-1.1zM582.3 36.7h1.1v1.1h-1.1zM583.0 36.6h1.1v1.1h-1.1zM585.5 36.6h1.1v1.1h-1.1zM586.5 36.9h1.1v1.1h-1.1zM594.7 36.6h1.1v1.1h-1.1zM597.1 36.8h1.1v1.1h-1.1zM597.8 36.5h1.1v1.1h-1.1zM598.8 36.8h1.1v1.1h-1.1zM602.3 36.8h1.1v1.1h-1.1zM609.6 36.7h1.1v1.1h-1.1zM610.6 36.9h1.1v1.1h-1.1zM617.7 36.9h1.1v1.1h-1.1zM581.1 37.8h1.1v1.1h-1.1zM589.5 37.6h1.1v1.1h-1.1zM593.7 37.6h1.1v1.1h-1.1zM598.1 37.6h1.1v1.1h-1.1zM606.1 37.7h1.1v1.1h-1.1zM613.8 37.6h1.1v1.1h-1.1zM580.9 38.9h1.1v1.1h-1.1zM589.7 38.6h1.1v1.1h-1.1zM590.7 38.9h1.1v1.1h-1.1zM601.0 38.8h1.1v1.1h-1.1zM604.4 39.0h1.1v1.1h-1.1zM607.5 38.7h1.1v1.1h-1.1zM610.3 38.7h1.1v1.1h-1.1zM612.4 38.8h1.1v1.1h-1.1zM613.7 38.7h1.1v1.1h-1.1zM615.8 38.9h1.1v1.1h-1.1zM586.5 40.0h1.1v1.1h-1.1zM589.3 40.0h1.1v1.1h-1.1zM602.2 39.9h1.1v1.1h-1.1zM603.2 39.9h1.1v1.1h-1.1zM607.4 39.6h1.1v1.1h-1.1zM609.4 39.7h1.1v1.1h-1.1zM610.3 39.6h1.1v1.1h-1.1zM610.3 40.8h1.1v1.1h-1.1zM583.0 41.8h1.1v1.1h-1.1zM586.2 42.2h1.1v1.1h-1.1zM589.7 41.9h1.1v1.1h-1.1zM593.6 41.9h1.1v1.1h-1.1zM594.5 42.0h1.1v1.1h-1.1zM610.3 41.9h1.1v1.1h-1.1zM581.1 42.8h1.1v1.1h-1.1zM589.6 42.8h1.1v1.1h-1.1zM595.6 43.0h1.1v1.1h-1.1zM607.4 42.9h1.1v1.1h-1.1zM608.4 42.8h1.1v1.1h-1.1zM577.9 44.3h1.1v1.1h-1.1zM580.1 44.3h1.1v1.1h-1.1zM586.3 44.0h1.1v1.1h-1.1zM588.5 44.2h1.1v1.1h-1.1zM589.6 44.2h1.1v1.1h-1.1zM590.4 44.1h1.1v1.1h-1.1zM591.7 44.2h1.1v1.1h-1.1zM593.5 43.9h1.1v1.1h-1.1zM578.8 45.3h1.1v1.1h-1.1zM588.4 45.0h1.1v1.1h-1.1zM589.7 45.2h1.1v1.1h-1.1zM590.3 45.0h1.1v1.1h-1.1zM591.5 45.2h1.1v1.1h-1.1zM592.7 44.9h1.1v1.1h-1.1zM593.5 45.0h1.1v1.1h-1.1zM579.0 46.3h1.1v1.1h-1.1zM588.7 46.3h1.1v1.1h-1.1zM589.5 46.1h1.1v1.1h-1.1zM592.5 46.2h1.1v1.1h-1.1zM577.8 47.3h1.1v1.1h-1.1zM579.1 47.0h1.1v1.1h-1.1zM583.4 47.2h1.1v1.1h-1.1zM578.1 48.1h1.1v1.1h-1.1zM578.8 48.2h1.1v1.1h-1.1zM580.2 48.5h1.1v1.1h-1.1zM584.4 48.2h1.1v1.1h-1.1zM586.3 48.2h1.1v1.1h-1.1zM577.0 49.3h1.1v1.1h-1.1zM577.8 49.5h1.1v1.1h-1.1zM578.9 49.1h1.1v1.1h-1.1zM580.1 49.1h1.1v1.1h-1.1zM581.9 49.4h1.1v1.1h-1.1zM583.0 49.5h1.1v1.1h-1.1zM585.1 49.1h1.1v1.1h-1.1zM574.7 50.2h1.1v1.1h-1.1zM577.1 50.3h1.1v1.1h-1.1zM577.8 50.1h1.1v1.1h-1.1zM582.2 50.2h1.1v1.1h-1.1zM584.3 50.3h1.1v1.1h-1.1zM577.8 51.4h1.1v1.1h-1.1zM580.3 51.2h1.1v1.1h-1.1zM582.1 51.2h1.1v1.1h-1.1zM583.2 51.6h1.1v1.1h-1.1zM584.4 51.5h1.1v1.1h-1.1zM585.4 51.5h1.1v1.1h-1.1zM573.8 52.6h1.1v1.1h-1.1zM576.0 52.4h1.1v1.1h-1.1zM582.1 52.3h1.1v1.1h-1.1zM584.1 52.2h1.1v1.1h-1.1zM581.0 53.6h1.1v1.1h-1.1zM572.6 54.8h1.1v1.1h-1.1zM573.7 54.4h1.1v1.1h-1.1zM583.0 54.3h1.1v1.1h-1.1zM570.7 55.4h1.1v1.1h-1.1zM571.6 55.5h1.1v1.1h-1.1zM574.0 55.6h1.1v1.1h-1.1zM574.6 55.4h1.1v1.1h-1.1zM575.9 55.8h1.1v1.1h-1.1zM578.1 55.6h1.1v1.1h-1.1zM582.0 55.7h1.1v1.1h-1.1zM570.6 56.6h1.1v1.1h-1.1zM571.5 56.4h1.1v1.1h-1.1zM575.0 56.6h1.1v1.1h-1.1zM571.4 57.9h1.1v1.1h-1.1zM572.7 57.9h1.1v1.1h-1.1zM573.7 57.8h1.1v1.1h-1.1zM574.7 57.8h1.1v1.1h-1.1zM578.0 57.8h1.1v1.1h-1.1zM580.2 57.8h1.1v1.1h-1.1zM570.6 58.9h1.1v1.1h-1.1zM572.9 58.9h1.1v1.1h-1.1zM573.9 58.9h1.1v1.1h-1.1zM577.0 58.9h1.1v1.1h-1.1zM580.0 59.0h1.1v1.1h-1.1zM573.9 59.8h1.1v1.1h-1.1zM577.9 59.6h1.1v1.1h-1.1zM579.2 59.9h1.1v1.1h-1.1zM580.9 59.7h1.1v1.1h-1.1zM569.7 61.0h1.1v1.1h-1.1zM571.8 61.1h1.1v1.1h-1.1zM573.9 60.9h1.1v1.1h-1.1zM578.8 60.9h1.1v1.1h-1.1zM570.7 61.8h1.1v1.1h-1.1zM574.6 61.7h1.1v1.1h-1.1zM576.0 61.7h1.1v1.1h-1.1zM576.8 62.1h1.1v1.1h-1.1zM579.9 62.1h1.1v1.1h-1.1zM580.9 61.9h1.1v1.1h-1.1zM577.0 62.9h1.1v1.1h-1.1zM578.1 63.0h1.1v1.1h-1.1zM569.5 63.8h1.1v1.1h-1.1zM574.0 63.8h1.1v1.1h-1.1zM576.9 64.1h1.1v1.1h-1.1zM578.0 63.9h1.1v1.1h-1.1zM579.0 63.8h1.1v1.1h-1.1zM580.3 64.1h1.1v1.1h-1.1zM581.3 63.9h1.1v1.1h-1.1zM578.1 64.8h1.1v1.1h-1.1zM579.0 65.2h1.1v1.1h-1.1zM580.2 65.0h1.1v1.1h-1.1zM571.8 66.1h1.1v1.1h-1.1zM572.5 66.3h1.1v1.1h-1.1zM579.0 66.0h1.1v1.1h-1.1zM580.9 66.2h1.1v1.1h-1.1zM569.5 67.2h1.1v1.1h-1.1zM571.9 66.9h1.1v1.1h-1.1zM575.8 67.1h1.1v1.1h-1.1zM578.9 67.3h1.1v1.1h-1.1zM581.1 67.0h1.1v1.1h-1.1zM572.7 68.2h1.1v1.1h-1.1zM573.7 68.2h1.1v1.1h-1.1zM572.8 69.4h1.1v1.1h-1.1zM573.9 69.5h1.1v1.1h-1.1zM574.7 69.4h1.1v1.1h-1.1zM576.1 69.4h1.1v1.1h-1.1zM579.0 69.3h1.1v1.1h-1.1zM580.0 69.4h1.1v1.1h-1.1zM581.1 69.1h1.1v1.1h-1.1zM582.0 69.4h1.1v1.1h-1.1zM570.4 70.5h1.1v1.1h-1.1zM571.5 70.5h1.1v1.1h-1.1zM572.5 70.3h1.1v1.1h-1.1zM573.9 70.5h1.1v1.1h-1.1zM574.8 70.2h1.1v1.1h-1.1zM578.0 70.5h1.1v1.1h-1.1zM579.0 70.3h1.1v1.1h-1.1zM580.1 70.2h1.1v1.1h-1.1zM581.0 70.2h1.1v1.1h-1.1zM582.0 70.4h1.1v1.1h-1.1zM570.6 71.6h1.1v1.1h-1.1zM571.5 71.6h1.1v1.1h-1.1zM572.8 71.2h1.1v1.1h-1.1zM578.9 71.6h1.1v1.1h-1.1zM580.0 71.4h1.1v1.1h-1.1zM581.2 71.5h1.1v1.1h-1.1zM583.4 71.4h1.1v1.1h-1.1zM569.7 72.6h1.1v1.1h-1.1zM570.6 72.6h1.1v1.1h-1.1zM571.5 72.6h1.1v1.1h-1.1zM572.8 72.6h1.1v1.1h-1.1zM574.8 72.2h1.1v1.1h-1.1zM576.0 72.5h1.1v1.1h-1.1zM577.9 72.2h1.1v1.1h-1.1zM578.9 72.2h1.1v1.1h-1.1zM580.9 72.6h1.1v1.1h-1.1zM582.3 72.6h1.1v1.1h-1.1zM570.4 73.5h1.1v1.1h-1.1zM571.8 73.6h1.1v1.1h-1.1zM572.5 73.5h1.1v1.1h-1.1zM573.7 73.3h1.1v1.1h-1.1zM574.6 73.6h1.1v1.1h-1.1zM577.1 73.4h1.1v1.1h-1.1zM578.2 73.6h1.1v1.1h-1.1zM578.9 73.6h1.1v1.1h-1.1zM580.2 73.2h1.1v1.1h-1.1zM570.4 74.4h1.1v1.1h-1.1zM571.9 74.4h1.1v1.1h-1.1zM576.0 74.6h1.1v1.1h-1.1zM577.1 74.3h1.1v1.1h-1.1zM579.8 74.6h1.1v1.1h-1.1zM584.1 74.6h1.1v1.1h-1.1zM572.7 75.4h1.1v1.1h-1.1zM573.6 75.7h1.1v1.1h-1.1zM574.7 75.8h1.1v1.1h-1.1zM576.1 75.5h1.1v1.1h-1.1zM577.0 75.8h1.1v1.1h-1.1zM579.2 75.5h1.1v1.1h-1.1zM585.3 75.6h1.1v1.1h-1.1zM571.9 76.4h1.1v1.1h-1.1zM573.7 76.8h1.1v1.1h-1.1zM574.7 76.4h1.1v1.1h-1.1zM575.9 76.5h1.1v1.1h-1.1zM576.8 76.5h1.1v1.1h-1.1zM578.2 76.6h1.1v1.1h-1.1zM574.0 77.5h1.1v1.1h-1.1zM574.7 77.4h1.1v1.1h-1.1zM576.1 77.5h1.1v1.1h-1.1zM576.7 77.8h1.1v1.1h-1.1zM577.9 77.4h1.1v1.1h-1.1zM581.1 77.5h1.1v1.1h-1.1zM585.4 77.8h1.1v1.1h-1.1zM573.6 78.7h1.1v1.1h-1.1zM574.7 78.6h1.1v1.1h-1.1zM575.8 78.9h1.1v1.1h-1.1zM578.2 78.9h1.1v1.1h-1.1zM579.1 78.8h1.1v1.1h-1.1zM579.9 78.9h1.1v1.1h-1.1zM581.3 78.5h1.1v1.1h-1.1zM582.1 78.7h1.1v1.1h-1.1zM583.1 78.5h1.1v1.1h-1.1zM584.2 78.5h1.1v1.1h-1.1zM585.3 78.6h1.1v1.1h-1.1zM572.9 79.7h1.1v1.1h-1.1zM573.8 79.6h1.1v1.1h-1.1zM574.8 79.9h1.1v1.1h-1.1zM575.9 80.0h1.1v1.1h-1.1zM576.9 79.8h1.1v1.1h-1.1zM577.8 79.7h1.1v1.1h-1.1zM578.8 79.6h1.1v1.1h-1.1zM580.3 79.8h1.1v1.1h-1.1zM583.4 79.7h1.1v1.1h-1.1zM584.4 79.6h1.1v1.1h-1.1zM585.4 79.9h1.1v1.1h-1.1zM586.2 80.0h1.1v1.1h-1.1zM572.6 80.8h1.1v1.1h-1.1zM573.6 80.8h1.1v1.1h-1.1zM574.6 80.7h1.1v1.1h-1.1zM575.6 80.7h1.1v1.1h-1.1zM578.2 80.6h1.1v1.1h-1.1zM578.8 80.6h1.1v1.1h-1.1zM579.9 80.6h1.1v1.1h-1.1zM580.9 80.7h1.1v1.1h-1.1zM582.0 80.9h1.1v1.1h-1.1zM583.4 80.6h1.1v1.1h-1.1zM586.3 80.7h1.1v1.1h-1.1zM587.4 80.7h1.1v1.1h-1.1zM577.0 81.7h1.1v1.1h-1.1zM578.1 82.0h1.1v1.1h-1.1zM578.8 81.9h1.1v1.1h-1.1zM580.2 82.1h1.1v1.1h-1.1zM581.0 81.7h1.1v1.1h-1.1zM583.4 81.8h1.1v1.1h-1.1zM584.5 81.8h1.1v1.1h-1.1zM587.5 81.7h1.1v1.1h-1.1zM574.9 83.0h1.1v1.1h-1.1zM575.9 82.7h1.1v1.1h-1.1zM577.1 82.9h1.1v1.1h-1.1zM578.1 82.8h1.1v1.1h-1.1zM578.8 82.8h1.1v1.1h-1.1zM581.3 82.8h1.1v1.1h-1.1zM583.4 82.7h1.1v1.1h-1.1zM586.5 82.7h1.1v1.1h-1.1zM587.4 82.9h1.1v1.1h-1.1zM588.7 82.9h1.1v1.1h-1.1zM573.6 84.1h1.1v1.1h-1.1zM575.8 83.9h1.1v1.1h-1.1zM576.7 83.8h1.1v1.1h-1.1zM578.8 84.1h1.1v1.1h-1.1zM579.8 83.9h1.1v1.1h-1.1zM580.9 84.0h1.1v1.1h-1.1zM581.9 83.8h1.1v1.1h-1.1zM583.3 84.1h1.1v1.1h-1.1zM585.4 84.1h1.1v1.1h-1.1zM586.1 84.1h1.1v1.1h-1.1zM587.4 83.8h1.1v1.1h-1.1zM588.7 83.9h1.1v1.1h-1.1zM589.5 84.0h1.1v1.1h-1.1zM579.2 85.2h1.1v1.1h-1.1zM580.0 85.1h1.1v1.1h-1.1zM580.9 85.1h1.1v1.1h-1.1zM582.3 85.2h1.1v1.1h-1.1zM585.2 84.8h1.1v1.1h-1.1zM586.2 84.8h1.1v1.1h-1.1zM588.3 85.0h1.1v1.1h-1.1zM576.9 86.1h1.1v1.1h-1.1zM590.6 87.2h1.1v1.1h-1.1zM579.9 89.1h1.1v1.1h-1.1zM591.5 89.3h1.1v1.1h-1.1zM589.5 90.1h1.1v1.1h-1.1zM593.9 90.2h1.1v1.1h-1.1zM589.7 91.3h1.1v1.1h-1.1zM586.2 93.6h1.1v1.1h-1.1zM591.4 93.3h1.1v1.1h-1.1zM616.7 37.1h1.1v1.1h-1.1zM620.1 37.1h1.1v1.1h-1.1zM616.0 38.0h1.1v1.1h-1.1zM619.0 37.8h1.1v1.1h-1.1zM615.5 39.1h1.1v1.1h-1.1zM616.8 38.8h1.1v1.1h-1.1zM620.8 38.8h1.1v1.1h-1.1zM611.8 40.0h1.1v1.1h-1.1zM614.6 40.0h1.1v1.1h-1.1zM615.7 40.2h1.1v1.1h-1.1zM618.7 40.1h1.1v1.1h-1.1zM619.8 40.0h1.1v1.1h-1.1zM620.8 40.1h1.1v1.1h-1.1zM621.9 40.0h1.1v1.1h-1.1zM612.8 41.0h1.1v1.1h-1.1zM613.6 41.1h1.1v1.1h-1.1zM614.8 40.9h1.1v1.1h-1.1zM617.9 41.3h1.1v1.1h-1.1zM619.7 41.2h1.1v1.1h-1.1zM620.8 40.9h1.1v1.1h-1.1zM622.1 41.1h1.1v1.1h-1.1zM613.5 42.1h1.1v1.1h-1.1zM614.8 42.2h1.1v1.1h-1.1zM615.7 42.0h1.1v1.1h-1.1zM617.9 42.1h1.1v1.1h-1.1zM618.7 42.2h1.1v1.1h-1.1zM621.0 42.0h1.1v1.1h-1.1zM622.2 42.1h1.1v1.1h-1.1zM611.4 43.3h1.1v1.1h-1.1zM613.5 43.4h1.1v1.1h-1.1zM615.9 43.1h1.1v1.1h-1.1zM617.9 43.1h1.1v1.1h-1.1zM619.8 43.4h1.1v1.1h-1.1zM623.1 43.2h1.1v1.1h-1.1zM612.7 44.1h1.1v1.1h-1.1zM614.8 44.1h1.1v1.1h-1.1zM619.8 44.4h1.1v1.1h-1.1zM611.4 45.3h1.1v1.1h-1.1zM612.4 45.3h1.1v1.1h-1.1zM613.6 45.1h1.1v1.1h-1.1zM614.8 45.4h1.1v1.1h-1.1zM617.0 45.1h1.1v1.1h-1.1zM617.9 45.4h1.1v1.1h-1.1zM618.9 45.3h1.1v1.1h-1.1zM621.1 45.1h1.1v1.1h-1.1zM612.5 46.4h1.1v1.1h-1.1zM613.6 46.5h1.1v1.1h-1.1zM614.5 46.4h1.1v1.1h-1.1zM615.8 46.4h1.1v1.1h-1.1zM617.7 46.6h1.1v1.1h-1.1zM612.6 47.3h1.1v1.1h-1.1zM613.5 47.5h1.1v1.1h-1.1zM616.0 47.6h1.1v1.1h-1.1zM616.9 47.3h1.1v1.1h-1.1zM615.6 48.6h1.1v1.1h-1.1zM616.9 48.2h1.1v1.1h-1.1zM617.7 48.6h1.1v1.1h-1.1zM619.1 48.6h1.1v1.1h-1.1zM620.1 48.5h1.1v1.1h-1.1zM614.9 49.5h1.1v1.1h-1.1zM616.6 49.7h1.1v1.1h-1.1zM618.0 49.6h1.1v1.1h-1.1zM618.9 49.7h1.1v1.1h-1.1zM615.8 50.7h1.1v1.1h-1.1zM617.7 50.6h1.1v1.1h-1.1zM619.7 50.8h1.1v1.1h-1.1zM616.6 51.5h1.1v1.1h-1.1zM617.7 51.8h1.1v1.1h-1.1zM603.6 49.6h1.1v1.1h-1.1zM602.6 52.5h1.1v1.1h-1.1zM611.2 53.7h1.1v1.1h-1.1zM603.5 55.9h1.1v1.1h-1.1zM606.0 55.8h1.1v1.1h-1.1zM594.4 57.7h1.1v1.1h-1.1zM611.0 58.1h1.1v1.1h-1.1zM603.8 59.8h1.1v1.1h-1.1zM602.6 60.9h1.1v1.1h-1.1zM608.7 61.2h1.1v1.1h-1.1zM600.7 65.3h1.1v1.1h-1.1zM597.2 66.3h1.1v1.1h-1.1zM598.3 69.3h1.1v1.1h-1.1zM625.0 56.4h1.1v1.1h-1.1zM622.8 57.1h1.1v1.1h-1.1zM629.1 57.5h1.1v1.1h-1.1zM619.7 58.1h1.1v1.1h-1.1zM633.4 59.2h1.1v1.1h-1.1zM615.3 60.5h1.1v1.1h-1.1zM618.5 60.6h1.1v1.1h-1.1zM612.5 61.2h1.1v1.1h-1.1zM621.0 61.4h1.1v1.1h-1.1zM612.2 62.4h1.1v1.1h-1.1zM628.1 62.6h1.1v1.1h-1.1zM635.3 62.4h1.1v1.1h-1.1zM614.4 63.4h1.1v1.1h-1.1zM628.3 63.7h1.1v1.1h-1.1zM630.3 63.8h1.1v1.1h-1.1zM613.7 64.6h1.1v1.1h-1.1zM617.6 64.4h1.1v1.1h-1.1zM611.6 65.6h1.1v1.1h-1.1zM624.0 65.6h1.1v1.1h-1.1zM632.2 66.5h1.1v1.1h-1.1zM637.7 66.6h1.1v1.1h-1.1zM611.3 68.0h1.1v1.1h-1.1zM624.9 70.0h1.1v1.1h-1.1zM616.8 71.0h1.1v1.1h-1.1zM623.0 70.8h1.1v1.1h-1.1zM623.9 71.0h1.1v1.1h-1.1zM626.0 71.1h1.1v1.1h-1.1zM635.7 71.1h1.1v1.1h-1.1zM636.8 70.7h1.1v1.1h-1.1zM609.4 72.1h1.1v1.1h-1.1zM613.5 71.8h1.1v1.1h-1.1zM622.8 71.7h1.1v1.1h-1.1zM636.5 72.2h1.1v1.1h-1.1zM646.1 71.8h1.1v1.1h-1.1zM632.6 73.2h1.1v1.1h-1.1zM606.1 73.9h1.1v1.1h-1.1zM608.4 74.3h1.1v1.1h-1.1zM612.6 74.2h1.1v1.1h-1.1zM616.8 73.8h1.1v1.1h-1.1zM638.5 74.3h1.1v1.1h-1.1zM607.3 75.2h1.1v1.1h-1.1zM621.8 75.3h1.1v1.1h-1.1zM635.6 74.9h1.1v1.1h-1.1zM637.5 74.9h1.1v1.1h-1.1zM640.7 75.3h1.1v1.1h-1.1zM606.3 75.9h1.1v1.1h-1.1zM616.7 75.9h1.1v1.1h-1.1zM635.5 76.0h1.1v1.1h-1.1zM636.7 76.2h1.1v1.1h-1.1zM616.5 77.0h1.1v1.1h-1.1zM634.2 77.4h1.1v1.1h-1.1zM636.6 77.0h1.1v1.1h-1.1zM609.2 78.0h1.1v1.1h-1.1zM610.5 78.1h1.1v1.1h-1.1zM614.5 78.3h1.1v1.1h-1.1zM635.7 78.1h1.1v1.1h-1.1zM616.8 79.2h1.1v1.1h-1.1zM621.9 79.2h1.1v1.1h-1.1zM632.3 79.1h1.1v1.1h-1.1zM638.5 79.2h1.1v1.1h-1.1zM612.6 80.3h1.1v1.1h-1.1zM614.7 80.6h1.1v1.1h-1.1zM616.7 80.4h1.1v1.1h-1.1zM633.4 80.2h1.1v1.1h-1.1zM635.3 80.3h1.1v1.1h-1.1zM613.3 81.3h1.1v1.1h-1.1zM617.8 81.3h1.1v1.1h-1.1zM629.0 81.5h1.1v1.1h-1.1zM636.6 81.4h1.1v1.1h-1.1zM627.2 82.6h1.1v1.1h-1.1zM637.8 82.5h1.1v1.1h-1.1zM616.6 83.4h1.1v1.1h-1.1zM625.9 83.6h1.1v1.1h-1.1zM634.3 83.7h1.1v1.1h-1.1zM635.3 83.7h1.1v1.1h-1.1zM644.9 83.6h1.1v1.1h-1.1zM633.4 84.6h1.1v1.1h-1.1zM621.7 86.7h1.1v1.1h-1.1zM631.4 86.5h1.1v1.1h-1.1zM640.5 86.8h1.1v1.1h-1.1zM627.3 87.8h1.1v1.1h-1.1zM642.9 87.9h1.1v1.1h-1.1zM646.9 87.5h1.1v1.1h-1.1zM648.3 87.7h1.1v1.1h-1.1zM649.3 87.6h1.1v1.1h-1.1zM628.3 89.0h1.1v1.1h-1.1zM630.4 88.7h1.1v1.1h-1.1zM643.0 88.6h1.1v1.1h-1.1zM629.1 89.7h1.1v1.1h-1.1zM630.0 89.9h1.1v1.1h-1.1zM631.3 89.8h1.1v1.1h-1.1zM632.3 90.0h1.1v1.1h-1.1zM651.4 89.6h1.1v1.1h-1.1zM630.4 90.8h1.1v1.1h-1.1zM637.6 91.0h1.1v1.1h-1.1zM643.1 90.7h1.1v1.1h-1.1zM644.0 90.8h1.1v1.1h-1.1zM647.2 90.7h1.1v1.1h-1.1zM630.1 91.7h1.1v1.1h-1.1zM633.4 92.0h1.1v1.1h-1.1zM635.6 92.0h1.1v1.1h-1.1zM634.5 94.9h1.1v1.1h-1.1zM643.0 94.9h1.1v1.1h-1.1zM644.7 95.0h1.1v1.1h-1.1zM651.4 95.0h1.1v1.1h-1.1zM631.3 96.3h1.1v1.1h-1.1zM632.6 96.0h1.1v1.1h-1.1zM640.6 96.1h1.1v1.1h-1.1zM648.3 96.2h1.1v1.1h-1.1zM630.3 97.0h1.1v1.1h-1.1zM632.1 97.0h1.1v1.1h-1.1zM634.5 97.0h1.1v1.1h-1.1zM640.9 97.3h1.1v1.1h-1.1zM646.0 97.0h1.1v1.1h-1.1zM632.5 98.0h1.1v1.1h-1.1zM644.0 98.2h1.1v1.1h-1.1zM645.8 98.3h1.1v1.1h-1.1zM631.3 99.5h1.1v1.1h-1.1zM650.3 99.1h1.1v1.1h-1.1zM631.2 102.4h1.1v1.1h-1.1zM649.1 102.6h1.1v1.1h-1.1zM638.7 104.6h1.1v1.1h-1.1zM640.9 104.4h1.1v1.1h-1.1zM634.3 105.5h1.1v1.1h-1.1zM638.6 105.8h1.1v1.1h-1.1zM639.8 105.7h1.1v1.1h-1.1zM640.8 105.5h1.1v1.1h-1.1zM672.0 64.3h1.1v1.1h-1.1zM672.0 65.4h1.1v1.1h-1.1zM675.0 66.4h1.1v1.1h-1.1zM670.0 67.5h1.1v1.1h-1.1zM675.2 67.5h1.1v1.1h-1.1zM674.2 68.4h1.1v1.1h-1.1zM677.6 69.7h1.1v1.1h-1.1zM674.2 72.0h1.1v1.1h-1.1zM672.0 73.8h1.1v1.1h-1.1zM676.1 75.1h1.1v1.1h-1.1zM677.3 75.0h1.1v1.1h-1.1zM668.7 76.1h1.1v1.1h-1.1zM677.3 78.3h1.1v1.1h-1.1zM673.0 79.2h1.1v1.1h-1.1zM672.1 81.2h1.1v1.1h-1.1zM672.3 84.6h1.1v1.1h-1.1zM675.5 85.5h1.1v1.1h-1.1zM610.2 99.2h1.1v1.1h-1.1zM607.9 100.2h1.1v1.1h-1.1zM609.3 101.1h1.1v1.1h-1.1zM614.6 102.5h1.1v1.1h-1.1zM613.2 103.4h1.1v1.1h-1.1zM608.3 105.5h1.1v1.1h-1.1zM610.3 105.4h1.1v1.1h-1.1zM607.0 106.3h1.1v1.1h-1.1zM612.3 106.6h1.1v1.1h-1.1zM616.3 107.7h1.1v1.1h-1.1zM612.4 108.4h1.1v1.1h-1.1zM605.0 110.9h1.1v1.1h-1.1zM608.2 110.7h1.1v1.1h-1.1zM610.0 110.9h1.1v1.1h-1.1zM614.4 110.9h1.1v1.1h-1.1zM606.9 111.6h1.1v1.1h-1.1zM606.2 112.8h1.1v1.1h-1.1zM614.6 112.8h1.1v1.1h-1.1zM604.0 113.8h1.1v1.1h-1.1zM607.1 114.0h1.1v1.1h-1.1zM607.9 113.9h1.1v1.1h-1.1zM607.2 114.9h1.1v1.1h-1.1zM615.6 115.0h1.1v1.1h-1.1zM614.6 116.1h1.1v1.1h-1.1zM606.8 116.8h1.1v1.1h-1.1zM607.1 118.0h1.1v1.1h-1.1zM611.2 118.2h1.1v1.1h-1.1zM605.0 119.3h1.1v1.1h-1.1zM610.0 119.2h1.1v1.1h-1.1zM612.3 119.0h1.1v1.1h-1.1zM610.3 122.3h1.1v1.1h-1.1zM607.9 123.2h1.1v1.1h-1.1zM628.8 35.5h1.1v1.1h-1.1zM628.6 36.5h1.1v1.1h-1.1zM630.8 36.3h1.1v1.1h-1.1zM627.9 37.8h1.1v1.1h-1.1zM628.6 37.7h1.1v1.1h-1.1zM630.7 37.6h1.1v1.1h-1.1zM633.1 37.6h1.1v1.1h-1.1zM628.9 38.7h1.1v1.1h-1.1zM629.9 38.4h1.1v1.1h-1.1zM622.4 39.5h1.1v1.1h-1.1zM629.0 39.7h1.1v1.1h-1.1zM629.9 39.7h1.1v1.1h-1.1zM623.5 40.7h1.1v1.1h-1.1zM626.8 40.7h1.1v1.1h-1.1zM627.7 40.5h1.1v1.1h-1.1zM629.6 40.6h1.1v1.1h-1.1zM633.2 40.7h1.1v1.1h-1.1zM628.8 42.0h1.1v1.1h-1.1zM631.1 41.5h1.1v1.1h-1.1zM633.1 41.7h1.1v1.1h-1.1zM634.3 41.6h1.1v1.1h-1.1zM629.7 43.0h1.1v1.1h-1.1zM630.8 42.6h1.1v1.1h-1.1zM631.8 42.7h1.1v1.1h-1.1zM634.0 43.0h1.1v1.1h-1.1zM627.6 43.6h1.1v1.1h-1.1zM629.9 44.0h1.1v1.1h-1.1zM630.9 43.8h1.1v1.1h-1.1zM634.1 43.6h1.1v1.1h-1.1zM626.9 44.7h1.1v1.1h-1.1zM631.8 44.7h1.1v1.1h-1.1zM634.2 44.8h1.1v1.1h-1.1zM630.7 46.1h1.1v1.1h-1.1zM632.8 45.7h1.1v1.1h-1.1zM633.9 45.8h1.1v1.1h-1.1zM626.9 46.8h1.1v1.1h-1.1zM629.8 47.2h1.1v1.1h-1.1zM631.8 46.8h1.1v1.1h-1.1zM630.9 48.3h1.1v1.1h-1.1zM632.9 48.2h1.1v1.1h-1.1zM627.6 49.1h1.1v1.1h-1.1zM628.6 49.2h1.1v1.1h-1.1zM629.9 49.0h1.1v1.1h-1.1zM628.6 49.9h1.1v1.1h-1.1zM633.9 46.6h1.1v1.1h-1.1zM634.9 46.4h1.1v1.1h-1.1zM637.1 46.4h1.1v1.1h-1.1zM639.3 46.5h1.1v1.1h-1.1zM632.8 47.5h1.1v1.1h-1.1zM632.7 48.6h1.1v1.1h-1.1zM633.9 48.9h1.1v1.1h-1.1zM636.9 48.7h1.1v1.1h-1.1zM638.0 48.5h1.1v1.1h-1.1zM634.1 49.8h1.1v1.1h-1.1zM634.8 51.0h1.1v1.1h-1.1zM635.8 50.9h1.1v1.1h-1.1zM637.2 50.6h1.1v1.1h-1.1zM638.2 50.9h1.1v1.1h-1.1zM647.4 35.1h1.1v1.1h-1.1zM649.2 35.5h1.1v1.1h-1.1zM643.2 36.4h1.1v1.1h-1.1zM654.6 39.5h1.1v1.1h-1.1zM653.4 43.8h1.1v1.1h-1.1zM649.4 46.0h1.1v1.1h-1.1zM602.8 111.8h1.4v1.4h-1.4zM612.8 83.3h1.4v1.4h-1.4zM611.8 84.5h1.4v1.4h-1.4z"/>
<path fill="#00ffff" d="M608.4 16.6h1.1v1.1h-1.1zM611.7 18.0h1.1v1.1h-1.1zM608.5 18.6h1.1v1.1h-1.1zM609.4 19.7h1.1v1.1h-1.1zM603.2 20.9h1.1v1.1h-1.1zM613.6 21.0h1.1v1.1h-1.1zM601.1 22.0h1.1v1.1h-1.1zM610.5 21.8h1.1v1.1h-1.1zM598.0 24.2h1.1v1.1h-1.1zM613.6 24.3h1.1v1.1h-1.1zM597.8 25.0h1.1v1.1h-1.1zM606.2 25.1h1.1v1.1h-1.1zM595.6 27.4h1.1v1.1h-1.1zM591.7 28.3h1.1v1.1h-1.1zM598.1 28.2h1.1v1.1h-1.1zM599.1 28.5h1.1v1.1h-1.1zM603.4 28.4h1.1v1.1h-1.1zM595.6 30.2h1.1v1.1h-1.1zM602.1 30.3h1.1v1.1h-1.1zM606.3 31.6h1.1v1.1h-1.1zM611.8 31.3h1.1v1.1h-1.1zM587.4 32.6h1.1v1.1h-1.1zM611.7 32.7h1.1v1.1h-1.1zM615.9 33.5h1.1v1.1h-1.1zM584.0 34.8h1.1v1.1h-1.1zM595.8 34.4h1.1v1.1h-1.1zM598.1 34.8h1.1v1.1h-1.1zM605.2 34.5h1.1v1.1h-1.1zM608.6 34.4h1.1v1.1h-1.1zM587.5 35.5h1.1v1.1h-1.1zM589.3 35.9h1.1v1.1h-1.1zM601.2 35.8h1.1v1.1h-1.1zM584.4 36.9h1.1v1.1h-1.1zM588.3 36.5h1.1v1.1h-1.1zM589.3 36.9h1.1v1.1h-1.1zM604.2 36.9h1.1v1.1h-1.1zM614.9 36.9h1.1v1.1h-1.1zM592.4 37.9h1.1v1.1h-1.1zM595.9 37.7h1.1v1.1h-1.1zM610.6 37.7h1.1v1.1h-1.1zM617.0 37.5h1.1v1.1h-1.1zM594.8 38.8h1.1v1.1h-1.1zM598.8 39.6h1.1v1.1h-1.1zM602.3 40.9h1.1v1.1h-1.1zM609.3 40.7h1.1v1.1h-1.1zM581.2 41.9h1.1v1.1h-1.1zM584.4 43.0h1.1v1.1h-1.1zM579.0 50.4h1.1v1.1h-1.1zM581.3 51.2h1.1v1.1h-1.1zM581.3 55.4h1.1v1.1h-1.1zM572.8 56.7h1.1v1.1h-1.1zM576.9 59.6h1.1v1.1h-1.1zM572.7 62.1h1.1v1.1h-1.1zM573.6 65.2h1.1v1.1h-1.1zM576.1 66.1h1.1v1.1h-1.1zM572.8 66.9h1.1v1.1h-1.1zM575.7 71.6h1.1v1.1h-1.1zM582.2 71.5h1.1v1.1h-1.1zM577.9 75.6h1.1v1.1h-1.1zM586.5 78.8h1.1v1.1h-1.1zM579.8 82.9h1.1v1.1h-1.1zM585.5 83.0h1.1v1.1h-1.1zM584.4 84.8h1.1v1.1h-1.1zM589.7 84.8h1.1v1.1h-1.1zM579.2 86.0h1.1v1.1h-1.1zM583.3 89.2h1.1v1.1h-1.1zM590.6 94.6h1.1v1.1h-1.1zM617.7 36.0h1.1v1.1h-1.1zM619.0 35.9h1.1v1.1h-1.1zM618.7 36.7h1.1v1.1h-1.1zM620.0 37.7h1.1v1.1h-1.1zM618.9 39.0h1.1v1.1h-1.1zM616.8 39.8h1.1v1.1h-1.1zM610.7 41.9h1.1v1.1h-1.1zM611.8 44.5h1.1v1.1h-1.1zM617.8 44.5h1.1v1.1h-1.1zM621.9 44.4h1.1v1.1h-1.1zM615.5 45.5h1.1v1.1h-1.1zM616.9 46.3h1.1v1.1h-1.1zM620.1 46.2h1.1v1.1h-1.1zM614.5 47.4h1.1v1.1h-1.1zM617.8 47.3h1.1v1.1h-1.1zM618.7 47.4h1.1v1.1h-1.1zM613.8 49.4h1.1v1.1h-1.1zM620.9 49.4h1.1v1.1h-1.1zM616.7 50.5h1.1v1.1h-1.1zM618.9 50.4h1.1v1.1h-1.1zM599.3 51.7h1.1v1.1h-1.1zM600.3 54.7h1.1v1.1h-1.1zM608.0 59.9h1.1v1.1h-1.1zM616.6 57.5h1.1v1.1h-1.1zM630.4 57.3h1.1v1.1h-1.1zM628.0 58.1h1.1v1.1h-1.1zM624.8 64.6h1.1v1.1h-1.1zM613.6 68.6h1.1v1.1h-1.1zM621.9 68.6h1.1v1.1h-1.1zM642.9 68.9h1.1v1.1h-1.1zM611.2 70.1h1.1v1.1h-1.1zM614.5 70.1h1.1v1.1h-1.1zM609.2 70.8h1.1v1.1h-1.1zM611.4 72.2h1.1v1.1h-1.1zM637.7 74.2h1.1v1.1h-1.1zM618.7 75.2h1.1v1.1h-1.1zM604.1 76.2h1.1v1.1h-1.1zM605.3 76.2h1.1v1.1h-1.1zM627.2 76.2h1.1v1.1h-1.1zM632.3 75.9h1.1v1.1h-1.1zM643.0 76.0h1.1v1.1h-1.1zM652.3 77.4h1.1v1.1h-1.1zM607.3 78.5h1.1v1.1h-1.1zM635.6 79.5h1.1v1.1h-1.1zM613.3 80.2h1.1v1.1h-1.1zM646.2 80.4h1.1v1.1h-1.1zM647.0 83.7h1.1v1.1h-1.1zM652.4 83.7h1.1v1.1h-1.1zM636.7 85.7h1.1v1.1h-1.1zM624.0 86.8h1.1v1.1h-1.1zM633.3 87.5h1.1v1.1h-1.1zM643.7 88.6h1.1v1.1h-1.1zM653.2 88.9h1.1v1.1h-1.1zM654.6 88.7h1.1v1.1h-1.1zM646.0 90.6h1.1v1.1h-1.1zM647.9 94.0h1.1v1.1h-1.1zM632.3 101.5h1.1v1.1h-1.1zM645.8 101.5h1.1v1.1h-1.1zM674.4 64.4h1.1v1.1h-1.1zM674.4 65.4h1.1v1.1h-1.1zM674.4 66.7h1.1v1.1h-1.1zM677.2 66.8h1.1v1.1h-1.1zM668.7 70.9h1.1v1.1h-1.1zM676.3 73.9h1.1v1.1h-1.1zM679.3 73.9h1.1v1.1h-1.1zM678.3 75.1h1.1v1.1h-1.1zM675.4 77.9h1.1v1.1h-1.1zM671.0 80.2h1.1v1.1h-1.1zM673.2 80.3h1.1v1.1h-1.1zM676.2 81.2h1.1v1.1h-1.1zM674.4 83.4h1.1v1.1h-1.1zM675.3 86.4h1.1v1.1h-1.1zM612.3 98.1h1.1v1.1h-1.1zM606.9 100.2h1.1v1.1h-1.1zM611.4 100.0h1.1v1.1h-1.1zM612.2 100.2h1.1v1.1h-1.1zM614.6 100.1h1.1v1.1h-1.1zM614.3 101.0h1.1v1.1h-1.1zM608.3 102.5h1.1v1.1h-1.1zM609.3 102.5h1.1v1.1h-1.1zM610.0 102.1h1.1v1.1h-1.1zM608.3 104.4h1.1v1.1h-1.1zM612.3 104.3h1.1v1.1h-1.1zM612.1 105.4h1.1v1.1h-1.1zM613.2 105.6h1.1v1.1h-1.1zM608.0 106.4h1.1v1.1h-1.1zM613.4 106.3h1.1v1.1h-1.1zM610.4 107.8h1.1v1.1h-1.1zM611.2 107.3h1.1v1.1h-1.1zM613.3 107.6h1.1v1.1h-1.1zM606.2 108.5h1.1v1.1h-1.1zM608.2 108.8h1.1v1.1h-1.1zM613.4 108.4h1.1v1.1h-1.1zM609.4 109.6h1.1v1.1h-1.1zM611.1 109.6h1.1v1.1h-1.1zM613.2 110.7h1.1v1.1h-1.1zM604.9 111.9h1.1v1.1h-1.1zM605.8 111.6h1.1v1.1h-1.1zM613.2 111.6h1.1v1.1h-1.1zM614.4 111.6h1.1v1.1h-1.1zM613.2 112.8h1.1v1.1h-1.1zM615.4 112.7h1.1v1.1h-1.1zM605.0 113.7h1.1v1.1h-1.1zM614.4 114.0h1.1v1.1h-1.1zM608.1 115.1h1.1v1.1h-1.1zM610.1 115.1h1.1v1.1h-1.1zM613.3 115.9h1.1v1.1h-1.1zM609.4 116.8h1.1v1.1h-1.1zM611.4 117.2h1.1v1.1h-1.1zM605.2 118.1h1.1v1.1h-1.1zM606.0 118.1h1.1v1.1h-1.1zM612.5 118.3h1.1v1.1h-1.1zM606.9 119.3h1.1v1.1h-1.1zM614.4 118.9h1.1v1.1h-1.1zM607.9 120.0h1.1v1.1h-1.1zM608.9 123.2h1.1v1.1h-1.1zM630.0 35.2h1.1v1.1h-1.1zM629.7 36.6h1.1v1.1h-1.1zM629.7 37.5h1.1v1.1h-1.1zM624.7 38.7h1.1v1.1h-1.1zM625.6 38.7h1.1v1.1h-1.1zM627.7 38.5h1.1v1.1h-1.1zM631.0 38.6h1.1v1.1h-1.1zM631.8 38.7h1.1v1.1h-1.1zM625.6 39.6h1.1v1.1h-1.1zM630.8 40.5h1.1v1.1h-1.1zM629.8 41.8h1.1v1.1h-1.1zM627.7 42.6h1.1v1.1h-1.1zM628.0 47.2h1.1v1.1h-1.1zM626.8 48.0h1.1v1.1h-1.1zM628.7 48.0h1.1v1.1h-1.1zM630.0 48.3h1.1v1.1h-1.1zM631.9 48.2h1.1v1.1h-1.1zM633.8 47.9h1.1v1.1h-1.1zM635.8 45.5h1.1v1.1h-1.1zM638.2 45.8h1.1v1.1h-1.1zM635.8 46.6h1.1v1.1h-1.1zM638.2 46.8h1.1v1.1h-1.1zM636.2 47.7h1.1v1.1h-1.1zM637.2 47.9h1.1v1.1h-1.1zM639.1 47.9h1.1v1.1h-1.1zM635.0 48.9h1.1v1.1h-1.1zM639.3 48.5h1.1v1.1h-1.1zM635.7 50.0h1.1v1.1h-1.1zM636.8 49.8h1.1v1.1h-1.1zM636.1 52.1h1.1v1.1h-1.1zM637.8 52.9h1.1v1.1h-1.1zM646.2 36.4h1.1v1.1h-1.1zM649.1 36.3h1.1v1.1h-1.1zM639.7 37.4h1.1v1.1h-1.1zM642.0 37.5h1.1v1.1h-1.1zM649.0 37.6h1.1v1.1h-1.1zM638.9 38.7h1.1v1.1h-1.1zM639.6 38.7h1.1v1.1h-1.1zM650.5 38.5h1.1v1.1h-1.1zM653.3 38.4h1.1v1.1h-1.1zM643.2 39.7h1.1v1.1h-1.1zM646.1 39.4h1.1v1.1h-1.1zM648.3 39.3h1.1v1.1h-1.1zM648.4 40.6h1.1v1.1h-1.1zM639.6 41.4h1.1v1.1h-1.1zM640.8 41.4h1.1v1.1h-1.1zM651.5 41.4h1.1v1.1h-1.1zM641.9 42.8h1.1v1.1h-1.1zM653.3 42.9h1.1v1.1h-1.1zM640.7 43.8h1.1v1.1h-1.1zM643.0 43.6h1.1v1.1h-1.1zM645.0 43.7h1.1v1.1h-1.1zM650.4 44.7h1.1v1.1h-1.1zM642.1 45.7h1.1v1.1h-1.1z"/>
<path fill="#ffffff" d="M599.8 20.9h1.1v1.1h-1.1zM611.7 21.1h1.1v1.1h-1.1zM603.1 24.0h1.1v1.1h-1.1zM607.4 27.2h1.1v1.1h-1.1zM612.7 28.3h1.1v1.1h-1.1zM595.7 33.4h1.1v1.1h-1.1zM613.6 33.4h1.1v1.1h-1.1zM606.3 35.6h1.1v1.1h-1.1zM607.2 35.5h1.1v1.1h-1.1zM608.4 37.6h1.1v1.1h-1.1z"/>
<path d="M657.5,57.8 L662.1,53.3" stroke="#bebebe" stroke-width="1.4" stroke-linecap="round"/>
<path d="M658.5,57 L661.0,54.5" stroke="#00ffff" stroke-width="1.4" stroke-linecap="round"/>
<text x="370.70" y="12.40" font-size="17.00" font-weight="bold" fill="#000" stroke="#000" stroke-width="0.35">c</text>
<rect x="402.9" y="9.5" width="120.4" height="120.0" fill="none" stroke="#3a3a3a" stroke-width="1"/>
<path d="M426.30,129.50V132.60M402.90,98.20H400.40M456.50,129.50V132.60M402.90,68.30H400.40M486.70,129.50V132.60M402.90,38.40H400.40" stroke="#333" stroke-width="0.8"/>
<text x="425.70" y="142.10" font-size="10.00" text-anchor="middle" fill="#111" stroke="#111" stroke-width="0.2">-40</text>
<text x="398.40" y="101.80" font-size="10.00" text-anchor="end" fill="#111" stroke="#111" stroke-width="0.2">-40</text>
<text x="456.50" y="142.10" font-size="10.00" text-anchor="middle" fill="#111" stroke="#111" stroke-width="0.2">0</text>
<text x="398.40" y="71.90" font-size="10.00" text-anchor="end" fill="#111" stroke="#111" stroke-width="0.2">0</text>
<text x="486.70" y="142.10" font-size="10.00" text-anchor="middle" fill="#111" stroke="#111" stroke-width="0.2">40</text>
<text x="398.40" y="42.00" font-size="10.00" text-anchor="end" fill="#111" stroke="#111" stroke-width="0.2">40</text>
<text x="455.80" y="155.50" font-size="10.00" text-anchor="middle" fill="#111" stroke="#111" stroke-width="0.2">Dimension 1</text>
<text transform="translate(379.20 68.20) rotate(-90)" text-anchor="middle" font-size="10" fill="#111" stroke="#111" stroke-width="0.2" textLength="56.4" lengthAdjust="spacingAndGlyphs">Dimension 2</text>
<text x="532.00" y="12.40" font-size="17.00" font-weight="bold" fill="#000" stroke="#000" stroke-width="0.35">d</text>
<path d="M564.00,9.00H684.50" stroke="#8f8f8f" stroke-width="1.4" fill="none"/>
<path d="M564.50,9.00V129.50H684.50" stroke="#3a3a3a" stroke-width="1" fill="none"/>
<path d="M684.50,8.50V130.00" stroke="#1a1a1a" stroke-width="1.2" fill="none"/>
<path d="M586.70,129.50V132.60M564.50,98.20H562.00M617.50,129.50V132.60M564.50,68.30H562.00M648.30,129.50V132.60M564.50,38.40H562.00" stroke="#333" stroke-width="0.8"/>
<text x="586.10" y="142.10" font-size="10.00" text-anchor="middle" fill="#111" stroke="#111" stroke-width="0.2">-40</text>
<text x="560.00" y="101.80" font-size="10.00" text-anchor="end" fill="#111" stroke="#111" stroke-width="0.2">-40</text>
<text x="617.50" y="142.10" font-size="10.00" text-anchor="middle" fill="#111" stroke="#111" stroke-width="0.2">0</text>
<text x="560.00" y="71.90" font-size="10.00" text-anchor="end" fill="#111" stroke="#111" stroke-width="0.2">0</text>
<text x="648.30" y="142.10" font-size="10.00" text-anchor="middle" fill="#111" stroke="#111" stroke-width="0.2">40</text>
<text x="560.00" y="42.00" font-size="10.00" text-anchor="end" fill="#111" stroke="#111" stroke-width="0.2">40</text>
<text x="623.90" y="155.50" font-size="10.00" text-anchor="middle" fill="#111" stroke="#111" stroke-width="0.2">Dimension 1</text>
<text transform="translate(541.10 69.20) rotate(-90)" text-anchor="middle" font-size="10" fill="#111" stroke="#111" stroke-width="0.2" textLength="56.4" lengthAdjust="spacingAndGlyphs">Dimension 2</text>
<circle cx="397.2" cy="176.0" r="3.5" fill="#1b9e77"/>
<text x="403.30" y="178.70" font-size="7.60" fill="#111" stroke="#111" stroke-width="0.2">HSPCs</text>
<circle cx="397.2" cy="184.6" r="3.5" fill="#66a61e"/>
<text x="403.30" y="187.30" font-size="7.60" fill="#111" stroke="#111" stroke-width="0.2">Megakaryoc.</text>
<circle cx="397.2" cy="193.2" r="3.5" fill="#1f78b4"/>
<text x="403.30" y="195.90" font-size="7.60" fill="#111" stroke="#111" stroke-width="0.2">Basophils</text>
<circle cx="397.2" cy="201.8" r="3.5" fill="#666666"/>
<text x="403.30" y="204.50" font-size="7.60" fill="#111" stroke="#111" stroke-width="0.2">Endoth. cells</text>
<circle cx="397.2" cy="210.4" r="3.5" fill="#e7298a"/>
<text x="403.30" y="213.10" font-size="7.60" fill="#111" stroke="#111" stroke-width="0.2">Pericytes</text>
<circle cx="455.4" cy="176.0" r="3.5" fill="#984ea3"/>
<text x="461.40" y="178.70" font-size="7.60" fill="#111" stroke="#111" stroke-width="0.2">Monoblasts</text>
<circle cx="455.4" cy="184.6" r="3.5" fill="#6a1b7a"/>
<text x="461.40" y="187.30" font-size="7.60" fill="#111" stroke="#111" stroke-width="0.2">Monocytes</text>
<circle cx="455.4" cy="193.2" r="3.5" fill="#7570b8"/>
<text x="461.40" y="195.90" font-size="7.60" fill="#111" stroke="#111" stroke-width="0.2">Myeloblasts</text>
<circle cx="455.4" cy="201.8" r="3.5" fill="#6a57a8"/>
<text x="461.40" y="204.50" font-size="7.60" fill="#111" stroke="#111" stroke-width="0.2">Myelocytes</text>
<circle cx="455.4" cy="210.4" r="3.5" fill="#4f3fb0"/>
<text x="461.40" y="213.10" font-size="7.60" fill="#111" stroke="#111" stroke-width="0.2">Neutrophils</text>
<circle cx="510.0" cy="176.0" r="3.5" fill="#e05a33"/>
<text x="516.30" y="178.70" font-size="7.60" fill="#111" stroke="#111" stroke-width="0.2">Erythroblasts</text>
<circle cx="510.0" cy="184.6" r="3.5" fill="#a6761d"/>
<text x="516.30" y="187.30" font-size="7.60" fill="#111" stroke="#111" stroke-width="0.2">Pro-B lymph.</text>
<circle cx="510.0" cy="193.2" r="3.5" fill="#8e5045"/>
<text x="516.30" y="195.90" font-size="7.60" fill="#111" stroke="#111" stroke-width="0.2">Pre-B lymph.</text>
<circle cx="510.0" cy="201.8" r="3.5" fill="#e6ab02"/>
<text x="516.30" y="204.50" font-size="7.60" fill="#111" stroke="#111" stroke-width="0.2">T-lymphocytes</text>
<circle cx="598.6" cy="174.6" r="3.6" fill="#bebebe"/>
<text x="605.20" y="177.30" font-size="7.60" fill="#111" stroke="#111" stroke-width="0.2">Correct class</text>
<circle cx="598.6" cy="183.7" r="3.6" fill="#ff00ff"/>
<text x="605.20" y="186.40" font-size="7.60" fill="#111" stroke="#111" stroke-width="0.2">Proximal class</text>
<circle cx="598.6" cy="192.8" r="3.6" fill="#9b30f0"/>
<text x="605.20" y="195.50" font-size="7.60" fill="#111" stroke="#111" stroke-width="0.2">Distal class</text>
<circle cx="598.6" cy="201.9" r="3.6" fill="#00ffff"/>
<text x="605.20" y="204.60" font-size="7.60" fill="#111" stroke="#111" stroke-width="0.2">No agreement</text>
<text x="85.10" y="243.10" font-size="17.00" font-weight="bold" fill="#000" stroke="#000" stroke-width="0.35">e</text>
<rect x="122.70" y="250.10" width="5.78" height="5.78" fill="#2a6b22"/>
<rect x="127.78" y="250.10" width="5.78" height="5.78" fill="#2a6b22"/>
<rect x="132.86" y="250.10" width="5.78" height="5.78" fill="#7ca377"/>
<rect x="137.94" y="250.10" width="5.78" height="5.78" fill="#9bb897"/>
<rect x="143.02" y="250.10" width="5.78" height="5.78" fill="#f7f7f7"/>
<rect x="148.10" y="250.10" width="5.78" height="5.78" fill="#f3f4f3"/>
<rect x="153.18" y="250.10" width="5.78" height="5.78" fill="#f7f7f7"/>
<rect x="158.26" y="250.10" width="5.78" height="5.78" fill="#f3f4f3"/>
<rect x="163.34" y="250.10" width="5.78" height="5.78" fill="#f6f3f5"/>
<rect x="168.42" y="250.10" width="5.78" height="5.78" fill="#f7f7f7"/>
<rect x="173.50" y="250.10" width="5.78" height="5.78" fill="#f7f7f7"/>
<rect x="178.58" y="250.10" width="5.78" height="5.78" fill="#d8e2d7"/>
<rect x="183.66" y="250.10" width="5.78" height="5.78" fill="#f7f7f7"/>
<rect x="188.74" y="250.10" width="5.78" height="5.78" fill="#bacdb7"/>
<rect x="193.82" y="250.10" width="5.78" height="5.78" fill="#e5bfd7"/>
<rect x="198.90" y="250.10" width="5.78" height="5.78" fill="#ebd2e2"/>
<rect x="203.98" y="250.10" width="5.78" height="5.78" fill="#f3f4f3"/>
<rect x="209.06" y="250.10" width="5.78" height="5.78" fill="#c4d4c2"/>
<rect x="214.14" y="250.10" width="5.78" height="5.78" fill="#f1e4ec"/>
<rect x="219.22" y="250.10" width="5.78" height="5.78" fill="#d8e2d7"/>
<rect x="224.30" y="250.10" width="5.78" height="5.78" fill="#f1e4ec"/>
<rect x="229.38" y="250.10" width="5.78" height="5.78" fill="#f4eef2"/>
<rect x="234.46" y="250.10" width="5.78" height="5.78" fill="#f1e4ec"/>
<rect x="239.54" y="250.10" width="5.78" height="5.78" fill="#f4eef2"/>
<rect x="244.62" y="250.10" width="5.78" height="5.78" fill="#f4eef2"/>
<rect x="249.70" y="250.10" width="5.78" height="5.78" fill="#f3f4f3"/>
<rect x="254.78" y="250.10" width="5.78" height="5.78" fill="#e2e9e2"/>
<rect x="259.86" y="250.10" width="5.08" height="5.78" fill="#e2e9e2"/>
<rect x="122.70" y="255.18" width="5.78" height="5.78" fill="#2a6b22"/>
<rect x="127.78" y="255.18" width="5.78" height="5.78" fill="#2a6b22"/>
<rect x="132.86" y="255.18" width="5.78" height="5.78" fill="#7ca377"/>
<rect x="137.94" y="255.18" width="5.78" height="5.78" fill="#90b18c"/>
<rect x="143.02" y="255.18" width="5.78" height="5.78" fill="#f7f7f7"/>
<rect x="148.10" y="255.18" width="5.78" height="5.78" fill="#f3f4f3"/>
<rect x="153.18" y="255.18" width="5.78" height="5.78" fill="#f7f7f7"/>
<rect x="158.26" y="255.18" width="5.78" height="5.78" fill="#f7f7f7"/>
<rect x="163.34" y="255.18" width="5.78" height="5.78" fill="#f7f7f7"/>
<rect x="168.42" y="255.18" width="5.78" height="5.78" fill="#edf0ec"/>
<rect x="173.50" y="255.18" width="5.78" height="5.78" fill="#edf0ec"/>
<rect x="178.58" y="255.18" width="5.78" height="5.78" fill="#d2ded1"/>
<rect x="183.66" y="255.18" width="5.78" height="5.78" fill="#edf0ec"/>
<rect x="188.74" y="255.18" width="5.78" height="5.78" fill="#afc6ac"/>
<rect x="193.82" y="255.18" width="5.78" height="5.78" fill="#e8c8dc"/>
<rect x="198.90" y="255.18" width="5.78" height="5.78" fill="#eedbe7"/>
<rect x="203.98" y="255.18" width="5.78" height="5.78" fill="#f7f7f7"/>
<rect x="209.06" y="255.18" width="5.78" height="5.78" fill="#bacdb7"/>
<rect x="214.14" y="255.18" width="5.78" height="5.78" fill="#f1e4ec"/>
<rect x="219.22" y="255.18" width="5.78" height="5.78" fill="#d8e2d7"/>
<rect x="224.30" y="255.18" width="5.78" height="5.78" fill="#f1e4ec"/>
<rect x="229.38" y="255.18" width="5.78" height="5.78" fill="#f4eef2"/>
<rect x="234.46" y="255.18" width="5.78" height="5.78" fill="#f1e4ec"/>
<rect x="239.54" y="255.18" width="5.78" height="5.78" fill="#f4eef2"/>
<rect x="244.62" y="255.18" width="5.78" height="5.78" fill="#f4eef2"/>
<rect x="249.70" y="255.18" width="5.78" height="5.78" fill="#f3f4f3"/>
<rect x="254.78" y="255.18" width="5.78" height="5.78" fill="#e2e9e2"/>
<rect x="259.86" y="255.18" width="5.08" height="5.78" fill="#cedbcc"/>
<rect x="122.70" y="260.26" width="5.78" height="5.78" fill="#7ca377"/>
<rect x="127.78" y="260.26" width="5.78" height="5.78" fill="#7ca377"/>
<rect x="132.86" y="260.26" width="5.78" height="5.78" fill="#2a6b22"/>
<rect x="137.94" y="260.26" width="5.78" height="5.78" fill="#34722d"/>
<rect x="143.02" y="260.26" width="5.78" height="5.78" fill="#edf0ec"/>
<rect x="148.10" y="260.26" width="5.78" height="5.78" fill="#edf0ec"/>
<rect x="153.18" y="260.26" width="5.78" height="5.78" fill="#edf0ec"/>
<rect x="158.26" y="260.26" width="5.78" height="5.78" fill="#e7ece6"/>
<rect x="163.34" y="260.26" width="5.78" height="5.78" fill="#edf0ec"/>
<rect x="168.42" y="260.26" width="5.78" height="5.78" fill="#e7ece6"/>
<rect x="173.50" y="260.26" width="5.78" height="5.78" fill="#e7ece6"/>
<rect x="178.58" y="260.26" width="5.78" height="5.78" fill="#d2ded1"/>
<rect x="183.66" y="260.26" width="5.78" height="5.78" fill="#f7f7f7"/>
<rect x="188.74" y="260.26" width="5.78" height="5.78" fill="#afc6ac"/>
<rect x="193.82" y="260.26" width="5.78" height="5.78" fill="#e2b6d2"/>
<rect x="198.90" y="260.26" width="5.78" height="5.78" fill="#e5bfd7"/>
<rect x="203.98" y="260.26" width="5.78" height="5.78" fill="#e2e9e2"/>
<rect x="209.06" y="260.26" width="5.78" height="5.78" fill="#a5bfa2"/>
<rect x="214.14" y="260.26" width="5.78" height="5.78" fill="#f4eef2"/>
<rect x="219.22" y="260.26" width="5.78" height="5.78" fill="#bacdb7"/>
<rect x="224.30" y="260.26" width="5.78" height="5.78" fill="#f1e4ec"/>
<rect x="229.38" y="260.26" width="5.78" height="5.78" fill="#f6f3f5"/>
<rect x="234.46" y="260.26" width="5.78" height="5.78" fill="#f1e4ec"/>
<rect x="239.54" y="260.26" width="5.78" height="5.78" fill="#f4eef2"/>
<rect x="244.62" y="260.26" width="5.78" height="5.78" fill="#f7f7f7"/>
<rect x="249.70" y="260.26" width="5.78" height="5.78" fill="#f3f4f3"/>
<rect x="254.78" y="260.26" width="5.78" height="5.78" fill="#e2e9e2"/>
<rect x="259.86" y="260.26" width="5.08" height="5.78" fill="#e2e9e2"/>
<rect x="122.70" y="265.34" width="5.78" height="5.78" fill="#9bb897"/>
<rect x="127.78" y="265.34" width="5.78" height="5.78" fill="#90b18c"/>
<rect x="132.86" y="265.34" width="5.78" height="5.78" fill="#34722d"/>
<rect x="137.94" y="265.34" width="5.78" height="5.78" fill="#2a6b22"/>
<rect x="143.02" y="265.34" width="5.78" height="5.78" fill="#edf0ec"/>
<rect x="148.10" y="265.34" width="5.78" height="5.78" fill="#edf0ec"/>
<rect x="153.18" y="265.34" width="5.78" height="5.78" fill="#edf0ec"/>
<rect x="158.26" y="265.34" width="5.78" height="5.78" fill="#e7ece6"/>
<rect x="163.34" y="265.34" width="5.78" height="5.78" fill="#e7ece6"/>
<rect x="168.42" y="265.34" width="5.78" height="5.78" fill="#e2e9e2"/>
<rect x="173.50" y="265.34" width="5.78" height="5.78" fill="#e2e9e2"/>
<rect x="178.58" y="265.34" width="5.78" height="5.78" fill="#d8e2d7"/>
<rect x="183.66" y="265.34" width="5.78" height="5.78" fill="#edf0ec"/>
<rect x="188.74" y="265.34" width="5.78" height="5.78" fill="#afc6ac"/>
<rect x="193.82" y="265.34" width="5.78" height="5.78" fill="#e5bfd7"/>
<rect x="198.90" y="265.34" width="5.78" height="5.78" fill="#e5bfd7"/>
<rect x="203.98" y="265.34" width="5.78" height="5.78" fill="#e2e9e2"/>
<rect x="209.06" y="265.34" width="5.78" height="5.78" fill="#a5bfa2"/>
<rect x="214.14" y="265.34" width="5.78" height="5.78" fill="#f4eef2"/>
<rect x="219.22" y="265.34" width="5.78" height="5.78" fill="#bacdb7"/>
<rect x="224.30" y="265.34" width="5.78" height="5.78" fill="#f1e4ec"/>
<rect x="229.38" y="265.34" width="5.78" height="5.78" fill="#f4eef2"/>
<rect x="234.46" y="265.34" width="5.78" height="5.78" fill="#eedbe7"/>
<rect x="239.54" y="265.34" width="5.78" height="5.78" fill="#f1e4ec"/>
<rect x="244.62" y="265.34" width="5.78" height="5.78" fill="#f1e4ec"/>
<rect x="249.70" y="265.34" width="5.78" height="5.78" fill="#f3f4f3"/>
<rect x="254.78" y="265.34" width="5.78" height="5.78" fill="#bacdb7"/>
<rect x="259.86" y="265.34" width="5.08" height="5.78" fill="#c4d4c2"/>
<rect x="122.70" y="270.42" width="5.78" height="5.78" fill="#f7f7f7"/>
<rect x="127.78" y="270.42" width="5.78" height="5.78" fill="#f7f7f7"/>
<rect x="132.86" y="270.42" width="5.78" height="5.78" fill="#edf0ec"/>
<rect x="137.94" y="270.42" width="5.78" height="5.78" fill="#edf0ec"/>
<rect x="143.02" y="270.42" width="5.78" height="5.78" fill="#2a6b22"/>
<rect x="148.10" y="270.42" width="5.78" height="5.78" fill="#2a6b22"/>
<rect x="153.18" y="270.42" width="5.78" height="5.78" fill="#afc6ac"/>
<rect x="158.26" y="270.42" width="5.78" height="5.78" fill="#d8e2d7"/>
<rect x="163.34" y="270.42" width="5.78" height="5.78" fill="#d8e2d7"/>
<rect x="168.42" y="270.42" width="5.78" height="5.78" fill="#f7f7f7"/>
<rect x="173.50" y="270.42" width="5.78" height="5.78" fill="#c4d4c2"/>
<rect x="178.58" y="270.42" width="5.78" height="5.78" fill="#f7f7f7"/>
<rect x="183.66" y="270.42" width="5.78" height="5.78" fill="#d8e2d7"/>
<rect x="188.74" y="270.42" width="5.78" height="5.78" fill="#edf0ec"/>
<rect x="193.82" y="270.42" width="5.78" height="5.78" fill="#e5bfd7"/>
<rect x="198.90" y="270.42" width="5.78" height="5.78" fill="#e2b6d2"/>
<rect x="203.98" y="270.42" width="5.78" height="5.78" fill="#c4d4c2"/>
<rect x="209.06" y="270.42" width="5.78" height="5.78" fill="#bacdb7"/>
<rect x="214.14" y="270.42" width="5.78" height="5.78" fill="#e2e9e2"/>
<rect x="219.22" y="270.42" width="5.78" height="5.78" fill="#f7f7f7"/>
<rect x="224.30" y="270.42" width="5.78" height="5.78" fill="#f4eef2"/>
<rect x="229.38" y="270.42" width="5.78" height="5.78" fill="#eedbe7"/>
<rect x="234.46" y="270.42" width="5.78" height="5.78" fill="#f7f7f7"/>
<rect x="239.54" y="270.42" width="5.78" height="5.78" fill="#f7f7f7"/>
<rect x="244.62" y="270.42" width="5.78" height="5.78" fill="#edf0ec"/>
<rect x="249.70" y="270.42" width="5.78" height="5.78" fill="#e2e9e2"/>
<rect x="254.78" y="270.42" width="5.78" height="5.78" fill="#edf0ec"/>
<rect x="259.86" y="270.42" width="5.08" height="5.78" fill="#f3f4f3"/>
<rect x="122.70" y="275.50" width="5.78" height="5.78" fill="#f3f4f3"/>
<rect x="127.78" y="275.50" width="5.78" height="5.78" fill="#f3f4f3"/>
<rect x="132.86" y="275.50" width="5.78" height="5.78" fill="#edf0ec"/>
<rect x="137.94" y="275.50" width="5.78" height="5.78" fill="#edf0ec"/>
<rect x="143.02" y="275.50" width="5.78" height="5.78" fill="#2a6b22"/>
<rect x="148.10" y="275.50" width="5.78" height="5.78" fill="#2a6b22"/>
<rect x="153.18" y="275.50" width="5.78" height="5.78" fill="#b5cab3"/>
<rect x="158.26" y="275.50" width="5.78" height="5.78" fill="#d8e2d7"/>
<rect x="163.34" y="275.50" width="5.78" height="5.78" fill="#d8e2d7"/>
<rect x="168.42" y="275.50" width="5.78" height="5.78" fill="#edf0ec"/>
<rect x="173.50" y="275.50" width="5.78" height="5.78" fill="#cedbcc"/>
<rect x="178.58" y="275.50" width="5.78" height="5.78" fill="#f7f7f7"/>
<rect x="183.66" y="275.50" width="5.78" height="5.78" fill="#cedbcc"/>
<rect x="188.74" y="275.50" width="5.78" height="5.78" fill="#edf0ec"/>
<rect x="193.82" y="275.50" width="5.78" height="5.78" fill="#e5bfd7"/>
<rect x="198.90" y="275.50" width="5.78" height="5.78" fill="#e2b6d2"/>
<rect x="203.98" y="275.50" width="5.78" height="5.78" fill="#c4d4c2"/>
<rect x="209.06" y="275.50" width="5.78" height="5.78" fill="#bacdb7"/>
<rect x="214.14" y="275.50" width="5.78" height="5.78" fill="#edf0ec"/>
<rect x="219.22" y="275.50" width="5.78" height="5.78" fill="#f4eef2"/>
<rect x="224.30" y="275.50" width="5.78" height="5.78" fill="#f4eef2"/>
<rect x="229.38" y="275.50" width="5.78" height="5.78" fill="#ebd2e2"/>
<rect x="234.46" y="275.50" width="5.78" height="5.78" fill="#f7f7f7"/>
<rect x="239.54" y="275.50" width="5.78" height="5.78" fill="#f6f3f5"/>
<rect x="244.62" y="275.50" width="5.78" height="5.78" fill="#edf0ec"/>
<rect x="249.70" y="275.50" width="5.78" height="5.78" fill="#e2e9e2"/>
<rect x="254.78" y="275.50" width="5.78" height="5.78" fill="#e2e9e2"/>
<rect x="259.86" y="275.50" width="5.08" height="5.78" fill="#edf0ec"/>
<rect x="122.70" y="280.58" width="5.78" height="5.78" fill="#f7f7f7"/>
<rect x="127.78" y="280.58" width="5.78" height="5.78" fill="#f7f7f7"/>
<rect x="132.86" y="280.58" width="5.78" height="5.78" fill="#edf0ec"/>
<rect x="137.94" y="280.58" width="5.78" height="5.78" fill="#edf0ec"/>
<rect x="143.02" y="280.58" width="5.78" height="5.78" fill="#afc6ac"/>
<rect x="148.10" y="280.58" width="5.78" height="5.78" fill="#b5cab3"/>
<rect x="153.18" y="280.58" width="5.78" height="5.78" fill="#2a6b22"/>
<rect x="158.26" y="280.58" width="5.78" height="5.78" fill="#2a6b22"/>
<rect x="163.34" y="280.58" width="5.78" height="5.78" fill="#86aa82"/>
<rect x="168.42" y="280.58" width="5.78" height="5.78" fill="#86aa82"/>
<rect x="173.50" y="280.58" width="5.78" height="5.78" fill="#edf0ec"/>
<rect x="178.58" y="280.58" width="5.78" height="5.78" fill="#edf0ec"/>
<rect x="183.66" y="280.58" width="5.78" height="5.78" fill="#edf0ec"/>
<rect x="188.74" y="280.58" width="5.78" height="5.78" fill="#f7f7f7"/>
<rect x="193.82" y="280.58" width="5.78" height="5.78" fill="#e5bfd7"/>
<rect x="198.90" y="280.58" width="5.78" height="5.78" fill="#dca3c7"/>
<rect x="203.98" y="280.58" width="5.78" height="5.78" fill="#bacdb7"/>
<rect x="209.06" y="280.58" width="5.78" height="5.78" fill="#9bb897"/>
<rect x="214.14" y="280.58" width="5.78" height="5.78" fill="#edf0ec"/>
<rect x="219.22" y="280.58" width="5.78" height="5.78" fill="#d8e2d7"/>
<rect x="224.30" y="280.58" width="5.78" height="5.78" fill="#f1e4ec"/>
<rect x="229.38" y="280.58" width="5.78" height="5.78" fill="#f1e4ec"/>
<rect x="234.46" y="280.58" width="5.78" height="5.78" fill="#f7f7f7"/>
<rect x="239.54" y="280.58" width="5.78" height="5.78" fill="#f4eef2"/>
<rect x="244.62" y="280.58" width="5.78" height="5.78" fill="#f7f7f7"/>
<rect x="249.70" y="280.58" width="5.78" height="5.78" fill="#edf0ec"/>
<rect x="254.78" y="280.58" width="5.78" height="5.78" fill="#edf0ec"/>
<rect x="259.86" y="280.58" width="5.08" height="5.78" fill="#f7f7f7"/>
<rect x="122.70" y="285.66" width="5.78" height="5.78" fill="#f3f4f3"/>
<rect x="127.78" y="285.66" width="5.78" height="5.78" fill="#f7f7f7"/>
<rect x="132.86" y="285.66" width="5.78" height="5.78" fill="#e7ece6"/>
<rect x="137.94" y="285.66" width="5.78" height="5.78" fill="#e7ece6"/>
<rect x="143.02" y="285.66" width="5.78" height="5.78" fill="#d8e2d7"/>
<rect x="148.10" y="285.66" width="5.78" height="5.78" fill="#d8e2d7"/>
<rect x="153.18" y="285.66" width="5.78" height="5.78" fill="#2a6b22"/>
<rect x="158.26" y="285.66" width="5.78" height="5.78" fill="#2a6b22"/>
<rect x="163.34" y="285.66" width="5.78" height="5.78" fill="#90b18c"/>
<rect x="168.42" y="285.66" width="5.78" height="5.78" fill="#7ca377"/>
<rect x="173.50" y="285.66" width="5.78" height="5.78" fill="#edf0ec"/>
<rect x="178.58" y="285.66" width="5.78" height="5.78" fill="#cedbcc"/>
<rect x="183.66" y="285.66" width="5.78" height="5.78" fill="#f3f4f3"/>
<rect x="188.74" y="285.66" width="5.78" height="5.78" fill="#edf0ec"/>
<rect x="193.82" y="285.66" width="5.78" height="5.78" fill="#f7f7f7"/>
<rect x="198.90" y="285.66" width="5.78" height="5.78" fill="#eedbe7"/>
<rect x="203.98" y="285.66" width="5.78" height="5.78" fill="#edf0ec"/>
<rect x="209.06" y="285.66" width="5.78" height="5.78" fill="#afc6ac"/>
<rect x="214.14" y="285.66" width="5.78" height="5.78" fill="#f7f7f7"/>
<rect x="219.22" y="285.66" width="5.78" height="5.78" fill="#e2e9e2"/>
<rect x="224.30" y="285.66" width="5.78" height="5.78" fill="#ebd2e2"/>
<rect x="229.38" y="285.66" width="5.78" height="5.78" fill="#ebd2e2"/>
<rect x="234.46" y="285.66" width="5.78" height="5.78" fill="#e8c8dc"/>
<rect x="239.54" y="285.66" width="5.78" height="5.78" fill="#ebd2e2"/>
<rect x="244.62" y="285.66" width="5.78" height="5.78" fill="#ebd2e2"/>
<rect x="249.70" y="285.66" width="5.78" height="5.78" fill="#f1e4ec"/>
<rect x="254.78" y="285.66" width="5.78" height="5.78" fill="#f7f7f7"/>
<rect x="259.86" y="285.66" width="5.08" height="5.78" fill="#f7f7f7"/>
<rect x="122.70" y="290.74" width="5.78" height="5.78" fill="#f6f3f5"/>
<rect x="127.78" y="290.74" width="5.78" height="5.78" fill="#f7f7f7"/>
<rect x="132.86" y="290.74" width="5.78" height="5.78" fill="#edf0ec"/>
<rect x="137.94" y="290.74" width="5.78" height="5.78" fill="#e7ece6"/>
<rect x="143.02" y="290.74" width="5.78" height="5.78" fill="#d8e2d7"/>
<rect x="148.10" y="290.74" width="5.78" height="5.78" fill="#d8e2d7"/>
<rect x="153.18" y="290.74" width="5.78" height="5.78" fill="#86aa82"/>
<rect x="158.26" y="290.74" width="5.78" height="5.78" fill="#90b18c"/>
<rect x="163.34" y="290.74" width="5.78" height="5.78" fill="#2a6b22"/>
<rect x="168.42" y="290.74" width="5.78" height="5.78" fill="#53874d"/>
<rect x="173.50" y="290.74" width="5.78" height="5.78" fill="#edf0ec"/>
<rect x="178.58" y="290.74" width="5.78" height="5.78" fill="#e2e9e2"/>
<rect x="183.66" y="290.74" width="5.78" height="5.78" fill="#f7f7f7"/>
<rect x="188.74" y="290.74" width="5.78" height="5.78" fill="#edf0ec"/>
<rect x="193.82" y="290.74" width="5.78" height="5.78" fill="#ebd2e2"/>
<rect x="198.90" y="290.74" width="5.78" height="5.78" fill="#ebd2e2"/>
<rect x="203.98" y="290.74" width="5.78" height="5.78" fill="#edf0ec"/>
<rect x="209.06" y="290.74" width="5.78" height="5.78" fill="#d8e2d7"/>
<rect x="214.14" y="290.74" width="5.78" height="5.78" fill="#f3f4f3"/>
<rect x="219.22" y="290.74" width="5.78" height="5.78" fill="#e2e9e2"/>
<rect x="224.30" y="290.74" width="5.78" height="5.78" fill="#f1e4ec"/>
<rect x="229.38" y="290.74" width="5.78" height="5.78" fill="#f1e4ec"/>
<rect x="234.46" y="290.74" width="5.78" height="5.78" fill="#f1e4ec"/>
<rect x="239.54" y="290.74" width="5.78" height="5.78" fill="#f1e4ec"/>
<rect x="244.62" y="290.74" width="5.78" height="5.78" fill="#f4eef2"/>
<rect x="249.70" y="290.74" width="5.78" height="5.78" fill="#f4eef2"/>
<rect x="254.78" y="290.74" width="5.78" height="5.78" fill="#f7f7f7"/>
<rect x="259.86" y="290.74" width="5.08" height="5.78" fill="#f7f7f7"/>
<rect x="122.70" y="295.82" width="5.78" height="5.78" fill="#f7f7f7"/>
<rect x="127.78" y="295.82" width="5.78" height="5.78" fill="#edf0ec"/>
<rect x="132.86" y="295.82" width="5.78" height="5.78" fill="#e7ece6"/>
<rect x="137.94" y="295.82" width="5.78" height="5.78" fill="#e2e9e2"/>
<rect x="143.02" y="295.82" width="5.78" height="5.78" fill="#f7f7f7"/>
<rect x="148.10" y="295.82" width="5.78" height="5.78" fill="#edf0ec"/>
<rect x="153.18" y="295.82" width="5.78" height="5.78" fill="#86aa82"/>
<rect x="158.26" y="295.82" width="5.78" height="5.78" fill="#7ca377"/>
<rect x="163.34" y="295.82" width="5.78" height="5.78" fill="#53874d"/>
<rect x="168.42" y="295.82" width="5.78" height="5.78" fill="#2a6b22"/>
<rect x="173.50" y="295.82" width="5.78" height="5.78" fill="#edf0ec"/>
<rect x="178.58" y="295.82" width="5.78" height="5.78" fill="#a5bfa2"/>
<rect x="183.66" y="295.82" width="5.78" height="5.78" fill="#f4eef2"/>
<rect x="188.74" y="295.82" width="5.78" height="5.78" fill="#edf0ec"/>
<rect x="193.82" y="295.82" width="5.78" height="5.78" fill="#cedbcc"/>
<rect x="198.90" y="295.82" width="5.78" height="5.78" fill="#bacdb7"/>
<rect x="203.98" y="295.82" width="5.78" height="5.78" fill="#f1e4ec"/>
<rect x="209.06" y="295.82" width="5.78" height="5.78" fill="#f7f7f7"/>
<rect x="214.14" y="295.82" width="5.78" height="5.78" fill="#f1e4ec"/>
<rect x="219.22" y="295.82" width="5.78" height="5.78" fill="#edf0ec"/>
<rect x="224.30" y="295.82" width="5.78" height="5.78" fill="#e2b6d2"/>
<rect x="229.38" y="295.82" width="5.78" height="5.78" fill="#e8c8dc"/>
<rect x="234.46" y="295.82" width="5.78" height="5.78" fill="#d99ac2"/>
<rect x="239.54" y="295.82" width="5.78" height="5.78" fill="#d99ac2"/>
<rect x="244.62" y="295.82" width="5.78" height="5.78" fill="#d99ac2"/>
<rect x="249.70" y="295.82" width="5.78" height="5.78" fill="#d99ac2"/>
<rect x="254.78" y="295.82" width="5.78" height="5.78" fill="#edf0ec"/>
<rect x="259.86" y="295.82" width="5.08" height="5.78" fill="#edf0ec"/>
<rect x="122.70" y="300.90" width="5.78" height="5.78" fill="#f7f7f7"/>
<rect x="127.78" y="300.90" width="5.78" height="5.78" fill="#edf0ec"/>
<rect x="132.86" y="300.90" width="5.78" height="5.78" fill="#e7ece6"/>
<rect x="137.94" y="300.90" width="5.78" height="5.78" fill="#e2e9e2"/>
<rect x="143.02" y="300.90" width="5.78" height="5.78" fill="#c4d4c2"/>
<rect x="148.10" y="300.90" width="5.78" height="5.78" fill="#cedbcc"/>
<rect x="153.18" y="300.90" width="5.78" height="5.78" fill="#edf0ec"/>
<rect x="158.26" y="300.90" width="5.78" height="5.78" fill="#edf0ec"/>
<rect x="163.34" y="300.90" width="5.78" height="5.78" fill="#edf0ec"/>
<rect x="168.42" y="300.90" width="5.78" height="5.78" fill="#edf0ec"/>
<rect x="173.50" y="300.90" width="5.78" height="5.78" fill="#2a6b22"/>
<rect x="178.58" y="300.90" width="5.78" height="5.78" fill="#7ca377"/>
<rect x="183.66" y="300.90" width="5.78" height="5.78" fill="#bacdb7"/>
<rect x="188.74" y="300.90" width="5.78" height="5.78" fill="#a5bfa2"/>
<rect x="193.82" y="300.90" width="5.78" height="5.78" fill="#e8c8dc"/>
<rect x="198.90" y="300.90" width="5.78" height="5.78" fill="#f1e4ec"/>
<rect x="203.98" y="300.90" width="5.78" height="5.78" fill="#f7f7f7"/>
<rect x="209.06" y="300.90" width="5.78" height="5.78" fill="#d8e2d7"/>
<rect x="214.14" y="300.90" width="5.78" height="5.78" fill="#a5bfa2"/>
<rect x="219.22" y="300.90" width="5.78" height="5.78" fill="#a5bfa2"/>
<rect x="224.30" y="300.90" width="5.78" height="5.78" fill="#f3f4f3"/>
<rect x="229.38" y="300.90" width="5.78" height="5.78" fill="#f7f7f7"/>
<rect x="234.46" y="300.90" width="5.78" height="5.78" fill="#e8c8dc"/>
<rect x="239.54" y="300.90" width="5.78" height="5.78" fill="#e8c8dc"/>
<rect x="244.62" y="300.90" width="5.78" height="5.78" fill="#ebd2e2"/>
<rect x="249.70" y="300.90" width="5.78" height="5.78" fill="#f4eef2"/>
<rect x="254.78" y="300.90" width="5.78" height="5.78" fill="#c4d4c2"/>
<rect x="259.86" y="300.90" width="5.08" height="5.78" fill="#c4d4c2"/>
<rect x="122.70" y="305.98" width="5.78" height="5.78" fill="#d8e2d7"/>
<rect x="127.78" y="305.98" width="5.78" height="5.78" fill="#d2ded1"/>
<rect x="132.86" y="305.98" width="5.78" height="5.78" fill="#d2ded1"/>
<rect x="137.94" y="305.98" width="5.78" height="5.78" fill="#d8e2d7"/>
<rect x="143.02" y="305.98" width="5.78" height="5.78" fill="#f7f7f7"/>
<rect x="148.10" y="305.98" width="5.78" height="5.78" fill="#f7f7f7"/>
<rect x="153.18" y="305.98" width="5.78" height="5.78" fill="#edf0ec"/>
<rect x="158.26" y="305.98" width="5.78" height="5.78" fill="#cedbcc"/>
<rect x="163.34" y="305.98" width="5.78" height="5.78" fill="#e2e9e2"/>
<rect x="168.42" y="305.98" width="5.78" height="5.78" fill="#a5bfa2"/>
<rect x="173.50" y="305.98" width="5.78" height="5.78" fill="#7ca377"/>
<rect x="178.58" y="305.98" width="5.78" height="5.78" fill="#2a6b22"/>
<rect x="183.66" y="305.98" width="5.78" height="5.78" fill="#e2e9e2"/>
<rect x="188.74" y="305.98" width="5.78" height="5.78" fill="#c4d4c2"/>
<rect x="193.82" y="305.98" width="5.78" height="5.78" fill="#afc6ac"/>
<rect x="198.90" y="305.98" width="5.78" height="5.78" fill="#9bb897"/>
<rect x="203.98" y="305.98" width="5.78" height="5.78" fill="#e5bfd7"/>
<rect x="209.06" y="305.98" width="5.78" height="5.78" fill="#eedbe7"/>
<rect x="214.14" y="305.98" width="5.78" height="5.78" fill="#f7f7f7"/>
<rect x="219.22" y="305.98" width="5.78" height="5.78" fill="#d8e2d7"/>
<rect x="224.30" y="305.98" width="5.78" height="5.78" fill="#e5bfd7"/>
<rect x="229.38" y="305.98" width="5.78" height="5.78" fill="#f1e4ec"/>
<rect x="234.46" y="305.98" width="5.78" height="5.78" fill="#b34d88"/>
<rect x="239.54" y="305.98" width="5.78" height="5.78" fill="#b34d88"/>
<rect x="244.62" y="305.98" width="5.78" height="5.78" fill="#ad407f"/>
<rect x="249.70" y="305.98" width="5.78" height="5.78" fill="#ba5a92"/>
<rect x="254.78" y="305.98" width="5.78" height="5.78" fill="#cedbcc"/>
<rect x="259.86" y="305.98" width="5.08" height="5.78" fill="#bacdb7"/>
<rect x="122.70" y="311.06" width="5.78" height="5.78" fill="#f7f7f7"/>
<rect x="127.78" y="311.06" width="5.78" height="5.78" fill="#edf0ec"/>
<rect x="132.86" y="311.06" width="5.78" height="5.78" fill="#f7f7f7"/>
<rect x="137.94" y="311.06" width="5.78" height="5.78" fill="#edf0ec"/>
<rect x="143.02" y="311.06" width="5.78" height="5.78" fill="#d8e2d7"/>
<rect x="148.10" y="311.06" width="5.78" height="5.78" fill="#cedbcc"/>
<rect x="153.18" y="311.06" width="5.78" height="5.78" fill="#edf0ec"/>
<rect x="158.26" y="311.06" width="5.78" height="5.78" fill="#f3f4f3"/>
<rect x="163.34" y="311.06" width="5.78" height="5.78" fill="#f7f7f7"/>
<rect x="168.42" y="311.06" width="5.78" height="5.78" fill="#f4eef2"/>
<rect x="173.50" y="311.06" width="5.78" height="5.78" fill="#bacdb7"/>
<rect x="178.58" y="311.06" width="5.78" height="5.78" fill="#e2e9e2"/>
<rect x="183.66" y="311.06" width="5.78" height="5.78" fill="#2a6b22"/>
<rect x="188.74" y="311.06" width="5.78" height="5.78" fill="#498042"/>
<rect x="193.82" y="311.06" width="5.78" height="5.78" fill="#d99ac2"/>
<rect x="198.90" y="311.06" width="5.78" height="5.78" fill="#dca3c7"/>
<rect x="203.98" y="311.06" width="5.78" height="5.78" fill="#d8e2d7"/>
<rect x="209.06" y="311.06" width="5.78" height="5.78" fill="#cedbcc"/>
<rect x="214.14" y="311.06" width="5.78" height="5.78" fill="#e2e9e2"/>
<rect x="219.22" y="311.06" width="5.78" height="5.78" fill="#cedbcc"/>
<rect x="224.30" y="311.06" width="5.78" height="5.78" fill="#edf0ec"/>
<rect x="229.38" y="311.06" width="5.78" height="5.78" fill="#edf0ec"/>
<rect x="234.46" y="311.06" width="5.78" height="5.78" fill="#edf0ec"/>
<rect x="239.54" y="311.06" width="5.78" height="5.78" fill="#edf0ec"/>
<rect x="244.62" y="311.06" width="5.78" height="5.78" fill="#cedbcc"/>
<rect x="249.70" y="311.06" width="5.78" height="5.78" fill="#cedbcc"/>
<rect x="254.78" y="311.06" width="5.78" height="5.78" fill="#edf0ec"/>
<rect x="259.86" y="311.06" width="5.08" height="5.78" fill="#c4d4c2"/>
<rect x="122.70" y="316.14" width="5.78" height="5.78" fill="#bacdb7"/>
<rect x="127.78" y="316.14" width="5.78" height="5.78" fill="#afc6ac"/>
<rect x="132.86" y="316.14" width="5.78" height="5.78" fill="#afc6ac"/>
<rect x="137.94" y="316.14" width="5.78" height="5.78" fill="#afc6ac"/>
<rect x="143.02" y="316.14" width="5.78" height="5.78" fill="#edf0ec"/>
<rect x="148.10" y="316.14" width="5.78" height="5.78" fill="#edf0ec"/>
<rect x="153.18" y="316.14" width="5.78" height="5.78" fill="#f7f7f7"/>
<rect x="158.26" y="316.14" width="5.78" height="5.78" fill="#edf0ec"/>
<rect x="163.34" y="316.14" width="5.78" height="5.78" fill="#edf0ec"/>
<rect x="168.42" y="316.14" width="5.78" height="5.78" fill="#edf0ec"/>
<rect x="173.50" y="316.14" width="5.78" height="5.78" fill="#a5bfa2"/>
<rect x="178.58" y="316.14" width="5.78" height="5.78" fill="#c4d4c2"/>
<rect x="183.66" y="316.14" width="5.78" height="5.78" fill="#498042"/>
<rect x="188.74" y="316.14" width="5.78" height="5.78" fill="#2a6b22"/>
<rect x="193.82" y="316.14" width="5.78" height="5.78" fill="#dca3c7"/>
<rect x="198.90" y="316.14" width="5.78" height="5.78" fill="#dfadcd"/>
<rect x="203.98" y="316.14" width="5.78" height="5.78" fill="#cedbcc"/>
<rect x="209.06" y="316.14" width="5.78" height="5.78" fill="#afc6ac"/>
<rect x="214.14" y="316.14" width="5.78" height="5.78" fill="#d8e2d7"/>
<rect x="219.22" y="316.14" width="5.78" height="5.78" fill="#bacdb7"/>
<rect x="224.30" y="316.14" width="5.78" height="5.78" fill="#f3f4f3"/>
<rect x="229.38" y="316.14" width="5.78" height="5.78" fill="#f7f7f7"/>
<rect x="234.46" y="316.14" width="5.78" height="5.78" fill="#f1e4ec"/>
<rect x="239.54" y="316.14" width="5.78" height="5.78" fill="#f1e4ec"/>
<rect x="244.62" y="316.14" width="5.78" height="5.78" fill="#f4eef2"/>
<rect x="249.70" y="316.14" width="5.78" height="5.78" fill="#edf0ec"/>
<rect x="254.78" y="316.14" width="5.78" height="5.78" fill="#edf0ec"/>
<rect x="259.86" y="316.14" width="5.08" height="5.78" fill="#cedbcc"/>
<rect x="122.70" y="321.22" width="5.78" height="5.78" fill="#e5bfd7"/>
<rect x="127.78" y="321.22" width="5.78" height="5.78" fill="#e8c8dc"/>
<rect x="132.86" y="321.22" width="5.78" height="5.78" fill="#e2b6d2"/>
<rect x="137.94" y="321.22" width="5.78" height="5.78" fill="#e5bfd7"/>
<rect x="143.02" y="321.22" width="5.78" height="5.78" fill="#e5bfd7"/>
<rect x="148.10" y="321.22" width="5.78" height="5.78" fill="#e5bfd7"/>
<rect x="153.18" y="321.22" width="5.78" height="5.78" fill="#e5bfd7"/>
<rect x="158.26" y="321.22" width="5.78" height="5.78" fill="#f7f7f7"/>
<rect x="163.34" y="321.22" width="5.78" height="5.78" fill="#ebd2e2"/>
<rect x="168.42" y="321.22" width="5.78" height="5.78" fill="#cedbcc"/>
<rect x="173.50" y="321.22" width="5.78" height="5.78" fill="#e8c8dc"/>
<rect x="178.58" y="321.22" width="5.78" height="5.78" fill="#afc6ac"/>
<rect x="183.66" y="321.22" width="5.78" height="5.78" fill="#d99ac2"/>
<rect x="188.74" y="321.22" width="5.78" height="5.78" fill="#dca3c7"/>
<rect x="193.82" y="321.22" width="5.78" height="5.78" fill="#2a6b22"/>
<rect x="198.90" y="321.22" width="5.78" height="5.78" fill="#34722d"/>
<rect x="203.98" y="321.22" width="5.78" height="5.78" fill="#d99ac2"/>
<rect x="209.06" y="321.22" width="5.78" height="5.78" fill="#cc80af"/>
<rect x="214.14" y="321.22" width="5.78" height="5.78" fill="#d38db8"/>
<rect x="219.22" y="321.22" width="5.78" height="5.78" fill="#d38db8"/>
<rect x="224.30" y="321.22" width="5.78" height="5.78" fill="#d38db8"/>
<rect x="229.38" y="321.22" width="5.78" height="5.78" fill="#dca3c7"/>
<rect x="234.46" y="321.22" width="5.78" height="5.78" fill="#d38db8"/>
<rect x="239.54" y="321.22" width="5.78" height="5.78" fill="#d99ac2"/>
<rect x="244.62" y="321.22" width="5.78" height="5.78" fill="#cc80af"/>
<rect x="249.70" y="321.22" width="5.78" height="5.78" fill="#cc80af"/>
<rect x="254.78" y="321.22" width="5.78" height="5.78" fill="#ebd2e2"/>
<rect x="259.86" y="321.22" width="5.08" height="5.78" fill="#ebd2e2"/>
<rect x="122.70" y="326.30" width="5.78" height="5.78" fill="#ebd2e2"/>
<rect x="127.78" y="326.30" width="5.78" height="5.78" fill="#eedbe7"/>
<rect x="132.86" y="326.30" width="5.78" height="5.78" fill="#e5bfd7"/>
<rect x="137.94" y="326.30" width="5.78" height="5.78" fill="#e5bfd7"/>
<rect x="143.02" y="326.30" width="5.78" height="5.78" fill="#e2b6d2"/>
<rect x="148.10" y="326.30" width="5.78" height="5.78" fill="#e2b6d2"/>
<rect x="153.18" y="326.30" width="5.78" height="5.78" fill="#dca3c7"/>
<rect x="158.26" y="326.30" width="5.78" height="5.78" fill="#eedbe7"/>
<rect x="163.34" y="326.30" width="5.78" height="5.78" fill="#ebd2e2"/>
<rect x="168.42" y="326.30" width="5.78" height="5.78" fill="#bacdb7"/>
<rect x="173.50" y="326.30" width="5.78" height="5.78" fill="#f1e4ec"/>
<rect x="178.58" y="326.30" width="5.78" height="5.78" fill="#9bb897"/>
<rect x="183.66" y="326.30" width="5.78" height="5.78" fill="#dca3c7"/>
<rect x="188.74" y="326.30" width="5.78" height="5.78" fill="#dfadcd"/>
<rect x="193.82" y="326.30" width="5.78" height="5.78" fill="#34722d"/>
<rect x="198.90" y="326.30" width="5.78" height="5.78" fill="#2a6b22"/>
<rect x="203.98" y="326.30" width="5.78" height="5.78" fill="#d38db8"/>
<rect x="209.06" y="326.30" width="5.78" height="5.78" fill="#c674a5"/>
<rect x="214.14" y="326.30" width="5.78" height="5.78" fill="#dca3c7"/>
<rect x="219.22" y="326.30" width="5.78" height="5.78" fill="#d99ac2"/>
<rect x="224.30" y="326.30" width="5.78" height="5.78" fill="#d38db8"/>
<rect x="229.38" y="326.30" width="5.78" height="5.78" fill="#dca3c7"/>
<rect x="234.46" y="326.30" width="5.78" height="5.78" fill="#d38db8"/>
<rect x="239.54" y="326.30" width="5.78" height="5.78" fill="#d99ac2"/>
<rect x="244.62" y="326.30" width="5.78" height="5.78" fill="#cc80af"/>
<rect x="249.70" y="326.30" width="5.78" height="5.78" fill="#c0679c"/>
<rect x="254.78" y="326.30" width="5.78" height="5.78" fill="#ebd2e2"/>
<rect x="259.86" y="326.30" width="5.08" height="5.78" fill="#ebd2e2"/>
<rect x="122.70" y="331.38" width="5.78" height="5.78" fill="#f3f4f3"/>
<rect x="127.78" y="331.38" width="5.78" height="5.78" fill="#f7f7f7"/>
<rect x="132.86" y="331.38" width="5.78" height="5.78" fill="#e2e9e2"/>
<rect x="137.94" y="331.38" width="5.78" height="5.78" fill="#e2e9e2"/>
<rect x="143.02" y="331.38" width="5.78" height="5.78" fill="#c4d4c2"/>
<rect x="148.10" y="331.38" width="5.78" height="5.78" fill="#c4d4c2"/>
<rect x="153.18" y="331.38" width="5.78" height="5.78" fill="#bacdb7"/>
<rect x="158.26" y="331.38" width="5.78" height="5.78" fill="#edf0ec"/>
<rect x="163.34" y="331.38" width="5.78" height="5.78" fill="#edf0ec"/>
<rect x="168.42" y="331.38" width="5.78" height="5.78" fill="#f1e4ec"/>
<rect x="173.50" y="331.38" width="5.78" height="5.78" fill="#f7f7f7"/>
<rect x="178.58" y="331.38" width="5.78" height="5.78" fill="#e5bfd7"/>
<rect x="183.66" y="331.38" width="5.78" height="5.78" fill="#d8e2d7"/>
<rect x="188.74" y="331.38" width="5.78" height="5.78" fill="#cedbcc"/>
<rect x="193.82" y="331.38" width="5.78" height="5.78" fill="#d99ac2"/>
<rect x="198.90" y="331.38" width="5.78" height="5.78" fill="#d38db8"/>
<rect x="203.98" y="331.38" width="5.78" height="5.78" fill="#2a6b22"/>
<rect x="209.06" y="331.38" width="5.78" height="5.78" fill="#498042"/>
<rect x="214.14" y="331.38" width="5.78" height="5.78" fill="#90b18c"/>
<rect x="219.22" y="331.38" width="5.78" height="5.78" fill="#bacdb7"/>
<rect x="224.30" y="331.38" width="5.78" height="5.78" fill="#f7f7f7"/>
<rect x="229.38" y="331.38" width="5.78" height="5.78" fill="#f1e4ec"/>
<rect x="234.46" y="331.38" width="5.78" height="5.78" fill="#e2e9e2"/>
<rect x="239.54" y="331.38" width="5.78" height="5.78" fill="#e2e9e2"/>
<rect x="244.62" y="331.38" width="5.78" height="5.78" fill="#bacdb7"/>
<rect x="249.70" y="331.38" width="5.78" height="5.78" fill="#a5bfa2"/>
<rect x="254.78" y="331.38" width="5.78" height="5.78" fill="#edf0ec"/>
<rect x="259.86" y="331.38" width="5.08" height="5.78" fill="#edf0ec"/>
<rect x="122.70" y="336.46" width="5.78" height="5.78" fill="#c4d4c2"/>
<rect x="127.78" y="336.46" width="5.78" height="5.78" fill="#bacdb7"/>
<rect x="132.86" y="336.46" width="5.78" height="5.78" fill="#a5bfa2"/>
<rect x="137.94" y="336.46" width="5.78" height="5.78" fill="#a5bfa2"/>
<rect x="143.02" y="336.46" width="5.78" height="5.78" fill="#bacdb7"/>
<rect x="148.10" y="336.46" width="5.78" height="5.78" fill="#bacdb7"/>
<rect x="153.18" y="336.46" width="5.78" height="5.78" fill="#9bb897"/>
<rect x="158.26" y="336.46" width="5.78" height="5.78" fill="#afc6ac"/>
<rect x="163.34" y="336.46" width="5.78" height="5.78" fill="#d8e2d7"/>
<rect x="168.42" y="336.46" width="5.78" height="5.78" fill="#f7f7f7"/>
<rect x="173.50" y="336.46" width="5.78" height="5.78" fill="#d8e2d7"/>
<rect x="178.58" y="336.46" width="5.78" height="5.78" fill="#eedbe7"/>
<rect x="183.66" y="336.46" width="5.78" height="5.78" fill="#cedbcc"/>
<rect x="188.74" y="336.46" width="5.78" height="5.78" fill="#afc6ac"/>
<rect x="193.82" y="336.46" width="5.78" height="5.78" fill="#cc80af"/>
<rect x="198.90" y="336.46" width="5.78" height="5.78" fill="#c674a5"/>
<rect x="203.98" y="336.46" width="5.78" height="5.78" fill="#498042"/>
<rect x="209.06" y="336.46" width="5.78" height="5.78" fill="#2a6b22"/>
<rect x="214.14" y="336.46" width="5.78" height="5.78" fill="#a5bfa2"/>
<rect x="219.22" y="336.46" width="5.78" height="5.78" fill="#bacdb7"/>
<rect x="224.30" y="336.46" width="5.78" height="5.78" fill="#f1e4ec"/>
<rect x="229.38" y="336.46" width="5.78" height="5.78" fill="#ebd2e2"/>
<rect x="234.46" y="336.46" width="5.78" height="5.78" fill="#e2e9e2"/>
<rect x="239.54" y="336.46" width="5.78" height="5.78" fill="#e2e9e2"/>
<rect x="244.62" y="336.46" width="5.78" height="5.78" fill="#bacdb7"/>
<rect x="249.70" y="336.46" width="5.78" height="5.78" fill="#9bb897"/>
<rect x="254.78" y="336.46" width="5.78" height="5.78" fill="#d8e2d7"/>
<rect x="259.86" y="336.46" width="5.08" height="5.78" fill="#d8e2d7"/>
<rect x="122.70" y="341.54" width="5.78" height="5.78" fill="#f1e4ec"/>
<rect x="127.78" y="341.54" width="5.78" height="5.78" fill="#f1e4ec"/>
<rect x="132.86" y="341.54" width="5.78" height="5.78" fill="#f4eef2"/>
<rect x="137.94" y="341.54" width="5.78" height="5.78" fill="#f4eef2"/>
<rect x="143.02" y="341.54" width="5.78" height="5.78" fill="#e2e9e2"/>
<rect x="148.10" y="341.54" width="5.78" height="5.78" fill="#edf0ec"/>
<rect x="153.18" y="341.54" width="5.78" height="5.78" fill="#edf0ec"/>
<rect x="158.26" y="341.54" width="5.78" height="5.78" fill="#f7f7f7"/>
<rect x="163.34" y="341.54" width="5.78" height="5.78" fill="#f3f4f3"/>
<rect x="168.42" y="341.54" width="5.78" height="5.78" fill="#f1e4ec"/>
<rect x="173.50" y="341.54" width="5.78" height="5.78" fill="#a5bfa2"/>
<rect x="178.58" y="341.54" width="5.78" height="5.78" fill="#f7f7f7"/>
<rect x="183.66" y="341.54" width="5.78" height="5.78" fill="#e2e9e2"/>
<rect x="188.74" y="341.54" width="5.78" height="5.78" fill="#d8e2d7"/>
<rect x="193.82" y="341.54" width="5.78" height="5.78" fill="#d38db8"/>
<rect x="198.90" y="341.54" width="5.78" height="5.78" fill="#dca3c7"/>
<rect x="203.98" y="341.54" width="5.78" height="5.78" fill="#90b18c"/>
<rect x="209.06" y="341.54" width="5.78" height="5.78" fill="#a5bfa2"/>
<rect x="214.14" y="341.54" width="5.78" height="5.78" fill="#2a6b22"/>
<rect x="219.22" y="341.54" width="5.78" height="5.78" fill="#5d8e57"/>
<rect x="224.30" y="341.54" width="5.78" height="5.78" fill="#9bb897"/>
<rect x="229.38" y="341.54" width="5.78" height="5.78" fill="#9bb897"/>
<rect x="234.46" y="341.54" width="5.78" height="5.78" fill="#f1e4ec"/>
<rect x="239.54" y="341.54" width="5.78" height="5.78" fill="#eedbe7"/>
<rect x="244.62" y="341.54" width="5.78" height="5.78" fill="#f4eef2"/>
<rect x="249.70" y="341.54" width="5.78" height="5.78" fill="#f4eef2"/>
<rect x="254.78" y="341.54" width="5.78" height="5.78" fill="#f7f7f7"/>
<rect x="259.86" y="341.54" width="5.08" height="5.78" fill="#f4eef2"/>
<rect x="122.70" y="346.62" width="5.78" height="5.78" fill="#d8e2d7"/>
<rect x="127.78" y="346.62" width="5.78" height="5.78" fill="#d8e2d7"/>
<rect x="132.86" y="346.62" width="5.78" height="5.78" fill="#bacdb7"/>
<rect x="137.94" y="346.62" width="5.78" height="5.78" fill="#bacdb7"/>
<rect x="143.02" y="346.62" width="5.78" height="5.78" fill="#f7f7f7"/>
<rect x="148.10" y="346.62" width="5.78" height="5.78" fill="#f4eef2"/>
<rect x="153.18" y="346.62" width="5.78" height="5.78" fill="#d8e2d7"/>
<rect x="158.26" y="346.62" width="5.78" height="5.78" fill="#e2e9e2"/>
<rect x="163.34" y="346.62" width="5.78" height="5.78" fill="#e2e9e2"/>
<rect x="168.42" y="346.62" width="5.78" height="5.78" fill="#edf0ec"/>
<rect x="173.50" y="346.62" width="5.78" height="5.78" fill="#a5bfa2"/>
<rect x="178.58" y="346.62" width="5.78" height="5.78" fill="#d8e2d7"/>
<rect x="183.66" y="346.62" width="5.78" height="5.78" fill="#cedbcc"/>
<rect x="188.74" y="346.62" width="5.78" height="5.78" fill="#bacdb7"/>
<rect x="193.82" y="346.62" width="5.78" height="5.78" fill="#d38db8"/>
<rect x="198.90" y="346.62" width="5.78" height="5.78" fill="#d99ac2"/>
<rect x="203.98" y="346.62" width="5.78" height="5.78" fill="#bacdb7"/>
<rect x="209.06" y="346.62" width="5.78" height="5.78" fill="#bacdb7"/>
<rect x="214.14" y="346.62" width="5.78" height="5.78" fill="#5d8e57"/>
<rect x="219.22" y="346.62" width="5.78" height="5.78" fill="#2a6b22"/>
<rect x="224.30" y="346.62" width="5.78" height="5.78" fill="#90b18c"/>
<rect x="229.38" y="346.62" width="5.78" height="5.78" fill="#7ca377"/>
<rect x="234.46" y="346.62" width="5.78" height="5.78" fill="#e5bfd7"/>
<rect x="239.54" y="346.62" width="5.78" height="5.78" fill="#dfadcd"/>
<rect x="244.62" y="346.62" width="5.78" height="5.78" fill="#e5bfd7"/>
<rect x="249.70" y="346.62" width="5.78" height="5.78" fill="#e8c8dc"/>
<rect x="254.78" y="346.62" width="5.78" height="5.78" fill="#edf0ec"/>
<rect x="259.86" y="346.62" width="5.08" height="5.78" fill="#f3f4f3"/>
<rect x="122.70" y="351.70" width="5.78" height="5.78" fill="#f1e4ec"/>
<rect x="127.78" y="351.70" width="5.78" height="5.78" fill="#f1e4ec"/>
<rect x="132.86" y="351.70" width="5.78" height="5.78" fill="#f1e4ec"/>
<rect x="137.94" y="351.70" width="5.78" height="5.78" fill="#f1e4ec"/>
<rect x="143.02" y="351.70" width="5.78" height="5.78" fill="#f4eef2"/>
<rect x="148.10" y="351.70" width="5.78" height="5.78" fill="#f4eef2"/>
<rect x="153.18" y="351.70" width="5.78" height="5.78" fill="#f1e4ec"/>
<rect x="158.26" y="351.70" width="5.78" height="5.78" fill="#ebd2e2"/>
<rect x="163.34" y="351.70" width="5.78" height="5.78" fill="#f1e4ec"/>
<rect x="168.42" y="351.70" width="5.78" height="5.78" fill="#e2b6d2"/>
<rect x="173.50" y="351.70" width="5.78" height="5.78" fill="#f3f4f3"/>
<rect x="178.58" y="351.70" width="5.78" height="5.78" fill="#e5bfd7"/>
<rect x="183.66" y="351.70" width="5.78" height="5.78" fill="#edf0ec"/>
<rect x="188.74" y="351.70" width="5.78" height="5.78" fill="#f3f4f3"/>
<rect x="193.82" y="351.70" width="5.78" height="5.78" fill="#d38db8"/>
<rect x="198.90" y="351.70" width="5.78" height="5.78" fill="#d38db8"/>
<rect x="203.98" y="351.70" width="5.78" height="5.78" fill="#f7f7f7"/>
<rect x="209.06" y="351.70" width="5.78" height="5.78" fill="#f1e4ec"/>
<rect x="214.14" y="351.70" width="5.78" height="5.78" fill="#9bb897"/>
<rect x="219.22" y="351.70" width="5.78" height="5.78" fill="#90b18c"/>
<rect x="224.30" y="351.70" width="5.78" height="5.78" fill="#2a6b22"/>
<rect x="229.38" y="351.70" width="5.78" height="5.78" fill="#34722d"/>
<rect x="234.46" y="351.70" width="5.78" height="5.78" fill="#d8e2d7"/>
<rect x="239.54" y="351.70" width="5.78" height="5.78" fill="#edf0ec"/>
<rect x="244.62" y="351.70" width="5.78" height="5.78" fill="#edf0ec"/>
<rect x="249.70" y="351.70" width="5.78" height="5.78" fill="#edf0ec"/>
<rect x="254.78" y="351.70" width="5.78" height="5.78" fill="#f4eef2"/>
<rect x="259.86" y="351.70" width="5.08" height="5.78" fill="#f1e4ec"/>
<rect x="122.70" y="356.78" width="5.78" height="5.78" fill="#f4eef2"/>
<rect x="127.78" y="356.78" width="5.78" height="5.78" fill="#f4eef2"/>
<rect x="132.86" y="356.78" width="5.78" height="5.78" fill="#f6f3f5"/>
<rect x="137.94" y="356.78" width="5.78" height="5.78" fill="#f4eef2"/>
<rect x="143.02" y="356.78" width="5.78" height="5.78" fill="#eedbe7"/>
<rect x="148.10" y="356.78" width="5.78" height="5.78" fill="#ebd2e2"/>
<rect x="153.18" y="356.78" width="5.78" height="5.78" fill="#f1e4ec"/>
<rect x="158.26" y="356.78" width="5.78" height="5.78" fill="#ebd2e2"/>
<rect x="163.34" y="356.78" width="5.78" height="5.78" fill="#f1e4ec"/>
<rect x="168.42" y="356.78" width="5.78" height="5.78" fill="#e8c8dc"/>
<rect x="173.50" y="356.78" width="5.78" height="5.78" fill="#f7f7f7"/>
<rect x="178.58" y="356.78" width="5.78" height="5.78" fill="#f1e4ec"/>
<rect x="183.66" y="356.78" width="5.78" height="5.78" fill="#edf0ec"/>
<rect x="188.74" y="356.78" width="5.78" height="5.78" fill="#f7f7f7"/>
<rect x="193.82" y="356.78" width="5.78" height="5.78" fill="#dca3c7"/>
<rect x="198.90" y="356.78" width="5.78" height="5.78" fill="#dca3c7"/>
<rect x="203.98" y="356.78" width="5.78" height="5.78" fill="#f1e4ec"/>
<rect x="209.06" y="356.78" width="5.78" height="5.78" fill="#ebd2e2"/>
<rect x="214.14" y="356.78" width="5.78" height="5.78" fill="#9bb897"/>
<rect x="219.22" y="356.78" width="5.78" height="5.78" fill="#7ca377"/>
<rect x="224.30" y="356.78" width="5.78" height="5.78" fill="#34722d"/>
<rect x="229.38" y="356.78" width="5.78" height="5.78" fill="#2a6b22"/>
<rect x="234.46" y="356.78" width="5.78" height="5.78" fill="#eedbe7"/>
<rect x="239.54" y="356.78" width="5.78" height="5.78" fill="#e8c8dc"/>
<rect x="244.62" y="356.78" width="5.78" height="5.78" fill="#ebd2e2"/>
<rect x="249.70" y="356.78" width="5.78" height="5.78" fill="#e8c8dc"/>
<rect x="254.78" y="356.78" width="5.78" height="5.78" fill="#f7f7f7"/>
<rect x="259.86" y="356.78" width="5.08" height="5.78" fill="#f1e4ec"/>
<rect x="122.70" y="361.86" width="5.78" height="5.78" fill="#f1e4ec"/>
<rect x="127.78" y="361.86" width="5.78" height="5.78" fill="#f1e4ec"/>
<rect x="132.86" y="361.86" width="5.78" height="5.78" fill="#f1e4ec"/>
<rect x="137.94" y="361.86" width="5.78" height="5.78" fill="#eedbe7"/>
<rect x="143.02" y="361.86" width="5.78" height="5.78" fill="#f7f7f7"/>
<rect x="148.10" y="361.86" width="5.78" height="5.78" fill="#f7f7f7"/>
<rect x="153.18" y="361.86" width="5.78" height="5.78" fill="#f7f7f7"/>
<rect x="158.26" y="361.86" width="5.78" height="5.78" fill="#e8c8dc"/>
<rect x="163.34" y="361.86" width="5.78" height="5.78" fill="#f1e4ec"/>
<rect x="168.42" y="361.86" width="5.78" height="5.78" fill="#d99ac2"/>
<rect x="173.50" y="361.86" width="5.78" height="5.78" fill="#e8c8dc"/>
<rect x="178.58" y="361.86" width="5.78" height="5.78" fill="#b34d88"/>
<rect x="183.66" y="361.86" width="5.78" height="5.78" fill="#edf0ec"/>
<rect x="188.74" y="361.86" width="5.78" height="5.78" fill="#f1e4ec"/>
<rect x="193.82" y="361.86" width="5.78" height="5.78" fill="#d38db8"/>
<rect x="198.90" y="361.86" width="5.78" height="5.78" fill="#d38db8"/>
<rect x="203.98" y="361.86" width="5.78" height="5.78" fill="#e2e9e2"/>
<rect x="209.06" y="361.86" width="5.78" height="5.78" fill="#e2e9e2"/>
<rect x="214.14" y="361.86" width="5.78" height="5.78" fill="#f1e4ec"/>
<rect x="219.22" y="361.86" width="5.78" height="5.78" fill="#e5bfd7"/>
<rect x="224.30" y="361.86" width="5.78" height="5.78" fill="#d8e2d7"/>
<rect x="229.38" y="361.86" width="5.78" height="5.78" fill="#eedbe7"/>
<rect x="234.46" y="361.86" width="5.78" height="5.78" fill="#2a6b22"/>
<rect x="239.54" y="361.86" width="5.78" height="5.78" fill="#2a6b22"/>
<rect x="244.62" y="361.86" width="5.78" height="5.78" fill="#689562"/>
<rect x="249.70" y="361.86" width="5.78" height="5.78" fill="#729c6d"/>
<rect x="254.78" y="361.86" width="5.78" height="5.78" fill="#f7f7f7"/>
<rect x="259.86" y="361.86" width="5.08" height="5.78" fill="#f7f7f7"/>
<rect x="122.70" y="366.94" width="5.78" height="5.78" fill="#f4eef2"/>
<rect x="127.78" y="366.94" width="5.78" height="5.78" fill="#f4eef2"/>
<rect x="132.86" y="366.94" width="5.78" height="5.78" fill="#f4eef2"/>
<rect x="137.94" y="366.94" width="5.78" height="5.78" fill="#f1e4ec"/>
<rect x="143.02" y="366.94" width="5.78" height="5.78" fill="#f7f7f7"/>
<rect x="148.10" y="366.94" width="5.78" height="5.78" fill="#f6f3f5"/>
<rect x="153.18" y="366.94" width="5.78" height="5.78" fill="#f4eef2"/>
<rect x="158.26" y="366.94" width="5.78" height="5.78" fill="#ebd2e2"/>
<rect x="163.34" y="366.94" width="5.78" height="5.78" fill="#f1e4ec"/>
<rect x="168.42" y="366.94" width="5.78" height="5.78" fill="#d99ac2"/>
<rect x="173.50" y="366.94" width="5.78" height="5.78" fill="#e8c8dc"/>
<rect x="178.58" y="366.94" width="5.78" height="5.78" fill="#b34d88"/>
<rect x="183.66" y="366.94" width="5.78" height="5.78" fill="#edf0ec"/>
<rect x="188.74" y="366.94" width="5.78" height="5.78" fill="#f1e4ec"/>
<rect x="193.82" y="366.94" width="5.78" height="5.78" fill="#d99ac2"/>
<rect x="198.90" y="366.94" width="5.78" height="5.78" fill="#d99ac2"/>
<rect x="203.98" y="366.94" width="5.78" height="5.78" fill="#e2e9e2"/>
<rect x="209.06" y="366.94" width="5.78" height="5.78" fill="#e2e9e2"/>
<rect x="214.14" y="366.94" width="5.78" height="5.78" fill="#eedbe7"/>
<rect x="219.22" y="366.94" width="5.78" height="5.78" fill="#dfadcd"/>
<rect x="224.30" y="366.94" width="5.78" height="5.78" fill="#edf0ec"/>
<rect x="229.38" y="366.94" width="5.78" height="5.78" fill="#e8c8dc"/>
<rect x="234.46" y="366.94" width="5.78" height="5.78" fill="#2a6b22"/>
<rect x="239.54" y="366.94" width="5.78" height="5.78" fill="#2a6b22"/>
<rect x="244.62" y="366.94" width="5.78" height="5.78" fill="#689562"/>
<rect x="249.70" y="366.94" width="5.78" height="5.78" fill="#729c6d"/>
<rect x="254.78" y="366.94" width="5.78" height="5.78" fill="#f7f7f7"/>
<rect x="259.86" y="366.94" width="5.08" height="5.78" fill="#f7f7f7"/>
<rect x="122.70" y="372.02" width="5.78" height="5.78" fill="#f4eef2"/>
<rect x="127.78" y="372.02" width="5.78" height="5.78" fill="#f4eef2"/>
<rect x="132.86" y="372.02" width="5.78" height="5.78" fill="#f7f7f7"/>
<rect x="137.94" y="372.02" width="5.78" height="5.78" fill="#f1e4ec"/>
<rect x="143.02" y="372.02" width="5.78" height="5.78" fill="#edf0ec"/>
<rect x="148.10" y="372.02" width="5.78" height="5.78" fill="#edf0ec"/>
<rect x="153.18" y="372.02" width="5.78" height="5.78" fill="#f7f7f7"/>
<rect x="158.26" y="372.02" width="5.78" height="5.78" fill="#ebd2e2"/>
<rect x="163.34" y="372.02" width="5.78" height="5.78" fill="#f4eef2"/>
<rect x="168.42" y="372.02" width="5.78" height="5.78" fill="#d99ac2"/>
<rect x="173.50" y="372.02" width="5.78" height="5.78" fill="#ebd2e2"/>
<rect x="178.58" y="372.02" width="5.78" height="5.78" fill="#ad407f"/>
<rect x="183.66" y="372.02" width="5.78" height="5.78" fill="#cedbcc"/>
<rect x="188.74" y="372.02" width="5.78" height="5.78" fill="#f4eef2"/>
<rect x="193.82" y="372.02" width="5.78" height="5.78" fill="#cc80af"/>
<rect x="198.90" y="372.02" width="5.78" height="5.78" fill="#cc80af"/>
<rect x="203.98" y="372.02" width="5.78" height="5.78" fill="#bacdb7"/>
<rect x="209.06" y="372.02" width="5.78" height="5.78" fill="#bacdb7"/>
<rect x="214.14" y="372.02" width="5.78" height="5.78" fill="#f4eef2"/>
<rect x="219.22" y="372.02" width="5.78" height="5.78" fill="#e5bfd7"/>
<rect x="224.30" y="372.02" width="5.78" height="5.78" fill="#edf0ec"/>
<rect x="229.38" y="372.02" width="5.78" height="5.78" fill="#ebd2e2"/>
<rect x="234.46" y="372.02" width="5.78" height="5.78" fill="#689562"/>
<rect x="239.54" y="372.02" width="5.78" height="5.78" fill="#689562"/>
<rect x="244.62" y="372.02" width="5.78" height="5.78" fill="#2a6b22"/>
<rect x="249.70" y="372.02" width="5.78" height="5.78" fill="#2a6b22"/>
<rect x="254.78" y="372.02" width="5.78" height="5.78" fill="#f7f7f7"/>
<rect x="259.86" y="372.02" width="5.08" height="5.78" fill="#f7f7f7"/>
<rect x="122.70" y="377.10" width="5.78" height="5.78" fill="#f3f4f3"/>
<rect x="127.78" y="377.10" width="5.78" height="5.78" fill="#f3f4f3"/>
<rect x="132.86" y="377.10" width="5.78" height="5.78" fill="#f3f4f3"/>
<rect x="137.94" y="377.10" width="5.78" height="5.78" fill="#f3f4f3"/>
<rect x="143.02" y="377.10" width="5.78" height="5.78" fill="#e2e9e2"/>
<rect x="148.10" y="377.10" width="5.78" height="5.78" fill="#e2e9e2"/>
<rect x="153.18" y="377.10" width="5.78" height="5.78" fill="#edf0ec"/>
<rect x="158.26" y="377.10" width="5.78" height="5.78" fill="#f1e4ec"/>
<rect x="163.34" y="377.10" width="5.78" height="5.78" fill="#f4eef2"/>
<rect x="168.42" y="377.10" width="5.78" height="5.78" fill="#d99ac2"/>
<rect x="173.50" y="377.10" width="5.78" height="5.78" fill="#f4eef2"/>
<rect x="178.58" y="377.10" width="5.78" height="5.78" fill="#ba5a92"/>
<rect x="183.66" y="377.10" width="5.78" height="5.78" fill="#cedbcc"/>
<rect x="188.74" y="377.10" width="5.78" height="5.78" fill="#edf0ec"/>
<rect x="193.82" y="377.10" width="5.78" height="5.78" fill="#cc80af"/>
<rect x="198.90" y="377.10" width="5.78" height="5.78" fill="#c0679c"/>
<rect x="203.98" y="377.10" width="5.78" height="5.78" fill="#a5bfa2"/>
<rect x="209.06" y="377.10" width="5.78" height="5.78" fill="#9bb897"/>
<rect x="214.14" y="377.10" width="5.78" height="5.78" fill="#f4eef2"/>
<rect x="219.22" y="377.10" width="5.78" height="5.78" fill="#e8c8dc"/>
<rect x="224.30" y="377.10" width="5.78" height="5.78" fill="#edf0ec"/>
<rect x="229.38" y="377.10" width="5.78" height="5.78" fill="#e8c8dc"/>
<rect x="234.46" y="377.10" width="5.78" height="5.78" fill="#729c6d"/>
<rect x="239.54" y="377.10" width="5.78" height="5.78" fill="#729c6d"/>
<rect x="244.62" y="377.10" width="5.78" height="5.78" fill="#2a6b22"/>
<rect x="249.70" y="377.10" width="5.78" height="5.78" fill="#2a6b22"/>
<rect x="254.78" y="377.10" width="5.78" height="5.78" fill="#f7f7f7"/>
<rect x="259.86" y="377.10" width="5.08" height="5.78" fill="#f7f7f7"/>
<rect x="122.70" y="382.18" width="5.78" height="5.78" fill="#e2e9e2"/>
<rect x="127.78" y="382.18" width="5.78" height="5.78" fill="#e2e9e2"/>
<rect x="132.86" y="382.18" width="5.78" height="5.78" fill="#e2e9e2"/>
<rect x="137.94" y="382.18" width="5.78" height="5.78" fill="#bacdb7"/>
<rect x="143.02" y="382.18" width="5.78" height="5.78" fill="#edf0ec"/>
<rect x="148.10" y="382.18" width="5.78" height="5.78" fill="#e2e9e2"/>
<rect x="153.18" y="382.18" width="5.78" height="5.78" fill="#edf0ec"/>
<rect x="158.26" y="382.18" width="5.78" height="5.78" fill="#f7f7f7"/>
<rect x="163.34" y="382.18" width="5.78" height="5.78" fill="#f7f7f7"/>
<rect x="168.42" y="382.18" width="5.78" height="5.78" fill="#edf0ec"/>
<rect x="173.50" y="382.18" width="5.78" height="5.78" fill="#c4d4c2"/>
<rect x="178.58" y="382.18" width="5.78" height="5.78" fill="#cedbcc"/>
<rect x="183.66" y="382.18" width="5.78" height="5.78" fill="#edf0ec"/>
<rect x="188.74" y="382.18" width="5.78" height="5.78" fill="#edf0ec"/>
<rect x="193.82" y="382.18" width="5.78" height="5.78" fill="#ebd2e2"/>
<rect x="198.90" y="382.18" width="5.78" height="5.78" fill="#ebd2e2"/>
<rect x="203.98" y="382.18" width="5.78" height="5.78" fill="#edf0ec"/>
<rect x="209.06" y="382.18" width="5.78" height="5.78" fill="#d8e2d7"/>
<rect x="214.14" y="382.18" width="5.78" height="5.78" fill="#f7f7f7"/>
<rect x="219.22" y="382.18" width="5.78" height="5.78" fill="#edf0ec"/>
<rect x="224.30" y="382.18" width="5.78" height="5.78" fill="#f4eef2"/>
<rect x="229.38" y="382.18" width="5.78" height="5.78" fill="#f7f7f7"/>
<rect x="234.46" y="382.18" width="5.78" height="5.78" fill="#f7f7f7"/>
<rect x="239.54" y="382.18" width="5.78" height="5.78" fill="#f7f7f7"/>
<rect x="244.62" y="382.18" width="5.78" height="5.78" fill="#f7f7f7"/>
<rect x="249.70" y="382.18" width="5.78" height="5.78" fill="#f7f7f7"/>
<rect x="254.78" y="382.18" width="5.78" height="5.78" fill="#2a6b22"/>
<rect x="259.86" y="382.18" width="5.08" height="5.78" fill="#2a6b22"/>
<rect x="122.70" y="387.26" width="5.78" height="5.08" fill="#e2e9e2"/>
<rect x="127.78" y="387.26" width="5.78" height="5.08" fill="#cedbcc"/>
<rect x="132.86" y="387.26" width="5.78" height="5.08" fill="#e2e9e2"/>
<rect x="137.94" y="387.26" width="5.78" height="5.08" fill="#c4d4c2"/>
<rect x="143.02" y="387.26" width="5.78" height="5.08" fill="#f3f4f3"/>
<rect x="148.10" y="387.26" width="5.78" height="5.08" fill="#edf0ec"/>
<rect x="153.18" y="387.26" width="5.78" height="5.08" fill="#f7f7f7"/>
<rect x="158.26" y="387.26" width="5.78" height="5.08" fill="#f7f7f7"/>
<rect x="163.34" y="387.26" width="5.78" height="5.08" fill="#f7f7f7"/>
<rect x="168.42" y="387.26" width="5.78" height="5.08" fill="#edf0ec"/>
<rect x="173.50" y="387.26" width="5.78" height="5.08" fill="#c4d4c2"/>
<rect x="178.58" y="387.26" width="5.78" height="5.08" fill="#bacdb7"/>
<rect x="183.66" y="387.26" width="5.78" height="5.08" fill="#c4d4c2"/>
<rect x="188.74" y="387.26" width="5.78" height="5.08" fill="#cedbcc"/>
<rect x="193.82" y="387.26" width="5.78" height="5.08" fill="#ebd2e2"/>
<rect x="198.90" y="387.26" width="5.78" height="5.08" fill="#ebd2e2"/>
<rect x="203.98" y="387.26" width="5.78" height="5.08" fill="#edf0ec"/>
<rect x="209.06" y="387.26" width="5.78" height="5.08" fill="#d8e2d7"/>
<rect x="214.14" y="387.26" width="5.78" height="5.08" fill="#f4eef2"/>
<rect x="219.22" y="387.26" width="5.78" height="5.08" fill="#f3f4f3"/>
<rect x="224.30" y="387.26" width="5.78" height="5.08" fill="#f1e4ec"/>
<rect x="229.38" y="387.26" width="5.78" height="5.08" fill="#f1e4ec"/>
<rect x="234.46" y="387.26" width="5.78" height="5.08" fill="#f7f7f7"/>
<rect x="239.54" y="387.26" width="5.78" height="5.08" fill="#f7f7f7"/>
<rect x="244.62" y="387.26" width="5.78" height="5.08" fill="#f7f7f7"/>
<rect x="249.70" y="387.26" width="5.78" height="5.08" fill="#f7f7f7"/>
<rect x="254.78" y="387.26" width="5.78" height="5.08" fill="#2a6b22"/>
<rect x="259.86" y="387.26" width="5.08" height="5.08" fill="#2a6b22"/>
<rect x="268.1" y="250.10" width="4.8" height="5.13" fill="#0f2f70"/>
<rect x="268.1" y="255.18" width="4.8" height="5.13" fill="#3a7a5a"/>
<rect x="268.1" y="260.26" width="4.8" height="5.13" fill="#0f2f70"/>
<rect x="268.1" y="265.34" width="4.8" height="5.13" fill="#3a7a5a"/>
<rect x="268.1" y="270.42" width="4.8" height="5.13" fill="#0f2f70"/>
<rect x="268.1" y="275.50" width="4.8" height="5.13" fill="#3a7a5a"/>
<rect x="268.1" y="280.58" width="4.8" height="5.13" fill="#0f2f70"/>
<rect x="268.1" y="285.66" width="4.8" height="5.13" fill="#3a7a5a"/>
<rect x="268.1" y="290.74" width="4.8" height="5.13" fill="#0f2f70"/>
<rect x="268.1" y="295.82" width="4.8" height="5.13" fill="#3a7a5a"/>
<rect x="268.1" y="300.90" width="4.8" height="5.13" fill="#0f2f70"/>
<rect x="268.1" y="305.98" width="4.8" height="5.13" fill="#3a7a5a"/>
<rect x="268.1" y="311.06" width="4.8" height="5.13" fill="#0f2f70"/>
<rect x="268.1" y="316.14" width="4.8" height="5.13" fill="#3a7a5a"/>
<rect x="268.1" y="321.22" width="4.8" height="5.13" fill="#0f2f70"/>
<rect x="268.1" y="326.30" width="4.8" height="5.13" fill="#3a7a5a"/>
<rect x="268.1" y="331.38" width="4.8" height="5.13" fill="#0f2f70"/>
<rect x="268.1" y="336.46" width="4.8" height="5.13" fill="#3a7a5a"/>
<rect x="268.1" y="341.54" width="4.8" height="5.13" fill="#0f2f70"/>
<rect x="268.1" y="346.62" width="4.8" height="5.13" fill="#3a7a5a"/>
<rect x="268.1" y="351.70" width="4.8" height="5.13" fill="#0f2f70"/>
<rect x="268.1" y="356.78" width="4.8" height="5.13" fill="#3a7a5a"/>
<rect x="268.1" y="361.86" width="4.8" height="5.13" fill="#0f2f70"/>
<rect x="268.1" y="366.94" width="4.8" height="5.13" fill="#3a7a5a"/>
<rect x="268.1" y="372.02" width="4.8" height="5.13" fill="#0f2f70"/>
<rect x="268.1" y="377.10" width="4.8" height="5.13" fill="#3a7a5a"/>
<rect x="268.1" y="382.18" width="4.8" height="5.13" fill="#0f2f70"/>
<rect x="268.1" y="387.26" width="4.8" height="5.13" fill="#3a7a5a"/>
<text x="276.10" y="257.58" font-size="8.30" fill="#111" stroke="#111" stroke-width="0.2">Pericytes</text>
<text x="276.10" y="267.74" font-size="8.30" fill="#111" stroke="#111" stroke-width="0.2">Endothelial Cells</text>
<text x="276.10" y="277.90" font-size="8.30" fill="#111" stroke="#111" stroke-width="0.2">T-NK</text>
<text x="276.10" y="288.06" font-size="8.30" fill="#111" stroke="#111" stroke-width="0.2">Pre-B</text>
<text x="276.10" y="298.22" font-size="8.30" fill="#111" stroke="#111" stroke-width="0.2">Pro-B</text>
<text x="276.10" y="308.38" font-size="8.30" fill="#111" stroke="#111" stroke-width="0.2">HSPCs</text>
<text x="276.10" y="318.54" font-size="8.30" fill="#111" stroke="#111" stroke-width="0.2">Basophils</text>
<text x="276.10" y="328.70" font-size="8.30" fill="#111" stroke="#111" stroke-width="0.2">Erythroblasts</text>
<text x="276.10" y="338.86" font-size="8.30" fill="#111" stroke="#111" stroke-width="0.2">Monocytes</text>
<text x="276.10" y="349.02" font-size="8.30" fill="#111" stroke="#111" stroke-width="0.2">Monoblasts</text>
<text x="276.10" y="359.18" font-size="8.30" fill="#111" stroke="#111" stroke-width="0.2">Myeloblasts</text>
<text x="276.10" y="369.34" font-size="8.30" fill="#111" stroke="#111" stroke-width="0.2">Myelocytes</text>
<text x="276.10" y="379.50" font-size="8.30" fill="#111" stroke="#111" stroke-width="0.2">Neutrophils</text>
<text x="276.10" y="389.66" font-size="8.30" fill="#111" stroke="#111" stroke-width="0.2">Megakaryocytes</text>
<path d="M119.60,252.64H121.30M119.60,257.72H121.30M119.60,252.64V257.72M118.50,262.80H121.30M118.50,267.88H121.30M118.50,262.80V267.88M119.60,272.96H121.30M119.60,278.04H121.30M119.60,272.96V278.04M117.80,283.12H121.30M117.80,288.20H121.30M117.80,283.12V288.20M114.80,293.28H121.30M114.80,298.36H121.30M114.80,293.28V298.36M107.70,303.44H121.30M107.70,308.52H121.30M107.70,303.44V308.52M115.10,313.60H121.30M115.10,318.68H121.30M115.10,313.60V318.68M117.60,323.76H121.30M117.60,328.84H121.30M117.60,323.76V328.84M115.20,333.92H121.30M115.20,339.00H121.30M115.20,333.92V339.00M113.80,344.08H121.30M113.80,349.16H121.30M113.80,344.08V349.16M117.40,354.24H121.30M117.40,359.32H121.30M117.40,354.24V359.32M118.80,364.40H121.30M118.80,369.48H121.30M118.80,364.40V369.48M118.80,374.56H121.30M118.80,379.64H121.30M118.80,374.56V379.64M118.80,384.72H121.30M118.80,389.80H121.30M118.80,384.72V389.80M109.80,255.18H119.60M109.80,265.34H118.50M109.80,255.18V265.34M97.70,260.26H109.80M97.70,275.50H119.60M97.70,260.26V275.50M108.80,285.66H117.80M108.80,295.82H114.80M108.80,285.66V295.82M101.40,290.74H108.80M101.40,305.98H107.70M101.40,290.74V305.98M101.00,298.36H101.40M101.00,316.14H115.10M101.00,298.36V316.14M97.60,267.88H97.70M97.60,307.25H101.00M97.60,267.88V307.25M108.00,346.62H113.80M108.00,356.78H117.40M108.00,346.62V356.78M105.00,336.46H115.20M105.00,351.70H108.00M105.00,336.46V351.70M100.00,326.30H117.60M100.00,344.08H105.00M100.00,326.30V344.08M112.30,366.94H118.80M112.30,377.10H118.80M112.30,366.94V377.10M98.70,335.19H100.00M98.70,372.02H112.30M98.70,335.19V372.02M95.70,287.56H97.60M95.70,353.61H98.70M95.70,287.56V353.61M95.40,320.59H95.70M95.40,387.26H118.80M95.40,320.59V387.26" fill="none" stroke="#2a2a2a" stroke-width="0.75"/>
<text x="200.80" y="399.10" font-size="6.00" fill="#111" textLength="42" lengthAdjust="spacingAndGlyphs" stroke="#111" stroke-width="0.2">cosine similarity</text>
<rect x="197.4" y="401.9" width="48.6" height="5.4" fill="url(#ge)" stroke="#666" stroke-width="0.7"/>
<path d="M197.6,407.3V409.8M221.6,407.3V408.6M246,407.3V409.8" stroke="#555" stroke-width="0.6"/>
<text x="192.40" y="417.20" font-size="8.70" fill="#111" stroke="#111" stroke-width="0.2">-1</text>
<text x="242.20" y="417.20" font-size="8.70" fill="#111" stroke="#111" stroke-width="0.2">1</text>
<rect x="268.2" y="401.9" width="4.6" height="5" fill="#0f2f70"/>
<rect x="268.2" y="409.5" width="4.6" height="5" fill="#3b7a5c"/>
<text x="275.70" y="406.80" font-size="7.70" fill="#111" stroke="#111" stroke-width="0.2">mouse</text>
<text x="275.70" y="414.20" font-size="7.70" fill="#111" stroke="#111" stroke-width="0.2">human</text>
<text x="368.90" y="243.00" font-size="17.00" font-weight="bold" fill="#000" stroke="#000" stroke-width="0.35">f</text>
<clipPath id="cf"><rect x="403.1" y="250.3" width="120.3" height="119.7"/></clipPath>
<line x1="393.25" y1="380.40" x2="532.75" y2="241.40" stroke="#222" stroke-width="0.9" clip-path="url(#cf)"/>
<rect x="403.1" y="250.3" width="120.3" height="119.7" fill="none" stroke="#333" stroke-width="1"/>
<path d="M407.20,370.00V373.00M403.10,366.50H400.10M435.10,370.00V373.00M403.10,338.70H400.10M463.00,370.00V373.00M403.10,310.90H400.10M490.90,370.00V373.00M403.10,283.10H400.10M518.80,370.00V373.00M403.10,255.30H400.10" stroke="#333" stroke-width="0.8"/>
<text x="407.60" y="384.00" font-size="10.00" text-anchor="middle" fill="#111" stroke="#111" stroke-width="0.2">0.6</text>
<text x="398.40" y="370.10" font-size="10.20" text-anchor="end" fill="#111" stroke="#111" stroke-width="0.2">0.6</text>
<text x="463.40" y="384.00" font-size="10.00" text-anchor="middle" fill="#111" stroke="#111" stroke-width="0.2">0.8</text>
<text x="398.40" y="314.50" font-size="10.20" text-anchor="end" fill="#111" stroke="#111" stroke-width="0.2">0.8</text>
<text x="519.20" y="384.00" font-size="10.00" text-anchor="middle" fill="#111" stroke="#111" stroke-width="0.2">1.0</text>
<text x="398.40" y="258.90" font-size="10.20" text-anchor="end" fill="#111" stroke="#111" stroke-width="0.2">1.0</text>
<text x="403.90" y="402.60" font-size="10.00" fill="#111" textLength="118.2" lengthAdjust="spacingAndGlyphs" stroke="#111" stroke-width="0.2">Cosine Similarity (Louvain)</text>
<text transform="translate(379.5 312.3) rotate(-90)" text-anchor="middle" font-size="10.2" fill="#111" stroke="#111" stroke-width="0.2" textLength="109.5" lengthAdjust="spacingAndGlyphs">Cosine Similarity (MLR)</text>
<circle cx="416.3" cy="269.7" r="2.3" fill="#8c4a48"/>
<circle cx="459.1" cy="257.6" r="2.3" fill="#e4288a"/>
<circle cx="480.2" cy="267.2" r="2.3" fill="#4f3fb0"/>
<circle cx="512.2" cy="260.5" r="2.3" fill="#6d63c0"/>
<circle cx="514.1" cy="259.2" r="2.3" fill="#e6ab02"/>
<circle cx="501.2" cy="271.1" r="2.3" fill="#e0592f"/>
<circle cx="498.2" cy="274.9" r="2.3" fill="#7570b8"/>
<circle cx="496.3" cy="287.0" r="2.3" fill="#6a1b7a"/>
<circle cx="466.7" cy="292.2" r="2.3" fill="#a6761d"/>
<circle cx="468.5" cy="301.9" r="2.3" fill="#9b4fb0"/>
<circle cx="427.4" cy="351.4" r="2.3" fill="#1b9e77"/>
</svg></body></html>
